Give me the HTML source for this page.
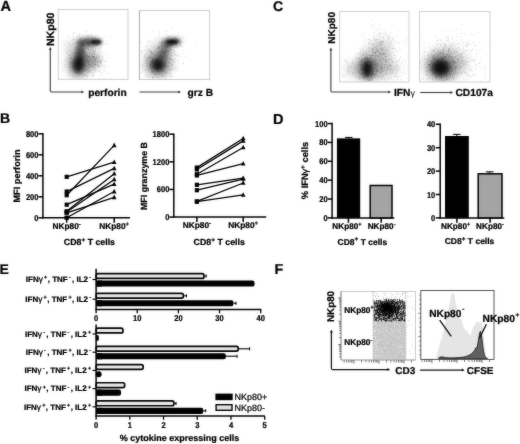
<!DOCTYPE html>
<html><head><meta charset="utf-8"><title>Figure</title>
<style>html,body{margin:0;padding:0;background:#fff;}svg{display:block;}text{font-family:"Liberation Sans", sans-serif;fill:#000;stroke:#000;stroke-width:0.24px;text-rendering:geometricPrecision;}</style></head><body>
<svg width="520" height="444" viewBox="0 0 520 444">
<defs>
<filter id="b0_4" x="-100%" y="-100%" width="300%" height="300%"><feGaussianBlur stdDeviation="0.4"/></filter>
<filter id="b0_6" x="-100%" y="-100%" width="300%" height="300%"><feGaussianBlur stdDeviation="0.6"/></filter>
<filter id="b1_0" x="-100%" y="-100%" width="300%" height="300%"><feGaussianBlur stdDeviation="1.0"/></filter>
<filter id="b1_5" x="-100%" y="-100%" width="300%" height="300%"><feGaussianBlur stdDeviation="1.5"/></filter>
<filter id="b2_0" x="-100%" y="-100%" width="300%" height="300%"><feGaussianBlur stdDeviation="2.0"/></filter>
<filter id="b2_5" x="-100%" y="-100%" width="300%" height="300%"><feGaussianBlur stdDeviation="2.5"/></filter>
<filter id="b3_0" x="-100%" y="-100%" width="300%" height="300%"><feGaussianBlur stdDeviation="3.0"/></filter>
<filter id="b4_0" x="-100%" y="-100%" width="300%" height="300%"><feGaussianBlur stdDeviation="4.0"/></filter>
<filter id="soft" x="0" y="0" width="100%" height="100%" color-interpolation-filters="sRGB"><feGaussianBlur stdDeviation="0.85" result="b"/><feComposite in="SourceGraphic" in2="b" operator="arithmetic" k1="0" k2="0.68" k3="0.32" k4="0"/></filter>
</defs>
<g filter="url(#soft)">
<rect x="-5" y="-5" width="530" height="454" fill="#fff"/>
<text x="0.5" y="11.1" font-size="14.6" font-weight="bold" text-anchor="start" stroke="#000" stroke-width="0.35">A</text>
<text x="-0.1" y="123.3" font-size="14" font-weight="bold" text-anchor="start" stroke="#000" stroke-width="0.35">B</text>
<text x="273.0" y="11.1" font-size="14" font-weight="bold" text-anchor="start" stroke="#000" stroke-width="0.35">C</text>
<text x="273.0" y="123.8" font-size="14.5" font-weight="bold" text-anchor="start" stroke="#000" stroke-width="0.35">D</text>
<text x="-0.5" y="273.6" font-size="14" font-weight="bold" text-anchor="start" stroke="#000" stroke-width="0.35">E</text>
<text x="274.6" y="273.9" font-size="14.3" font-weight="bold" text-anchor="start" stroke="#000" stroke-width="0.35">F</text>
<clipPath id="c58"><rect x="58.2" y="9.5" width="69.8" height="69.8"/></clipPath>
<clipPath id="c139"><rect x="139.4" y="10.4" width="70.29999999999998" height="69.19999999999999"/></clipPath>
<g clip-path="url(#c58)">
<ellipse cx="83" cy="56" rx="14" ry="15" fill="#000" fill-opacity="0.14" transform="rotate(0 83 56)" filter="url(#b4_0)"/>
<ellipse cx="92" cy="61" rx="8.5" ry="8" fill="#000" fill-opacity="0.22" transform="rotate(0 92 61)" filter="url(#b3_0)"/>
<ellipse cx="70" cy="46" rx="5" ry="6" fill="#000" fill-opacity="0.1" transform="rotate(0 70 46)" filter="url(#b3_0)"/>
<ellipse cx="78.3" cy="65" rx="10" ry="12.5" fill="#000" fill-opacity="0.4" transform="rotate(0 78.3 65)" filter="url(#b4_0)"/>
<ellipse cx="80.3" cy="54" rx="4.8" ry="11" fill="#000" fill-opacity="0.6" transform="rotate(3 80.3 54)" filter="url(#b2_0)"/>
<ellipse cx="89" cy="42" rx="13" ry="4.2" fill="#000" fill-opacity="0.62" transform="rotate(0 89 42)" filter="url(#b2_0)"/>
<ellipse cx="78.1" cy="65.2" rx="5.2" ry="7.4" fill="#000" fill-opacity="0.85" transform="rotate(0 78.1 65.2)" filter="url(#b2_5)"/>
<ellipse cx="96" cy="42" rx="5.5" ry="2.6" fill="#000" fill-opacity="0.7" transform="rotate(0 96 42)" filter="url(#b1_0)"/>
<g filter="url(#b0_4)">
<path d="M77.6 68.1h0.7M77.8 61.5h0.7M73.9 62.3h0.7M85.1 67.4h0.7M84.7 66.0h0.7M81.2 65.5h0.7M69.8 70.8h0.7M81.8 68.0h0.7M69.7 50.0h0.7M74.1 60.3h0.7M80.7 63.6h0.7M81.9 58.9h0.7M80.7 67.2h0.7M75.4 77.7h0.7M82.1 73.6h0.7M75.6 58.1h0.7M77.1 63.1h0.7M82.5 66.0h0.7M76.5 56.3h0.7M76.1 73.8h0.7M74.6 66.0h0.7M81.3 52.1h0.7M79.3 74.4h0.7M67.9 61.4h0.7M78.4 57.5h0.7M81.7 63.5h0.7M70.9 70.6h0.7M82.7 71.6h0.7M86.9 66.9h0.7M79.7 53.6h0.7M82.4 59.1h0.7M76.5 53.9h0.7M73.7 59.8h0.7M86.1 47.7h0.7M71.0 65.9h0.7M86.9 68.6h0.7M68.6 43.9h0.7M81.0 58.1h0.7M72.8 71.8h0.7M85.1 65.3h0.7M80.4 67.5h0.7M87.8 69.0h0.7M81.9 68.4h0.7M70.4 74.3h0.7M84.3 68.2h0.7M68.1 58.9h0.7M83.6 49.5h0.7M78.0 72.2h0.7M71.8 76.9h0.7M82.0 62.8h0.7M80.8 69.2h0.7M79.7 73.2h0.7M75.4 60.7h0.7M84.7 64.2h0.7M74.2 71.6h0.7M87.1 60.4h0.7M71.4 62.9h0.7M78.2 61.6h0.7M86.7 55.8h0.7M85.9 53.9h0.7M74.7 69.1h0.7M85.2 70.9h0.7M80.9 65.1h0.7M79.8 68.6h0.7M78.0 66.2h0.7M82.1 64.0h0.7M83.2 68.5h0.7M90.1 66.6h0.7M76.6 61.0h0.7M78.9 71.4h0.7M77.1 67.1h0.7M89.1 43.5h0.7M72.8 66.0h0.7M81.2 65.9h0.7M76.6 69.2h0.7M80.6 59.8h0.7M92.4 66.8h0.7M76.0 63.2h0.7M77.8 63.5h0.7M64.0 60.1h0.7M84.5 54.7h0.7M78.6 71.6h0.7M83.7 75.9h0.7M69.6 61.2h0.7M77.1 69.0h0.7M85.0 42.5h0.7M85.0 52.4h0.7M82.8 52.1h0.7M80.0 73.6h0.7M78.2 65.5h0.7M83.4 65.1h0.7M78.5 76.3h0.7M84.8 61.6h0.7M94.1 54.8h0.7M84.0 61.9h0.7M79.7 69.6h0.7M80.2 69.1h0.7M70.6 51.9h0.7M82.4 56.3h0.7M73.4 52.2h0.7M86.0 70.0h0.7M87.1 56.5h0.7M79.0 54.9h0.7M83.2 76.7h0.7M74.1 76.5h0.7M84.4 62.6h0.7M68.2 75.3h0.7M78.5 59.2h0.7M81.2 67.3h0.7M87.2 55.8h0.7M85.2 75.9h0.7M87.0 62.6h0.7M74.9 72.1h0.7M79.6 65.0h0.7M86.8 61.9h0.7M66.4 60.9h0.7M68.8 70.6h0.7M80.7 59.1h0.7M78.9 70.7h0.7M79.4 74.6h0.7M78.7 72.3h0.7M87.2 76.9h0.7M75.3 71.0h0.7M68.7 55.3h0.7M68.2 72.6h0.7M72.2 63.9h0.7M77.9 63.8h0.7M75.7 65.9h0.7M88.9 64.4h0.7M81.9 72.0h0.7M77.9 53.9h0.7M75.9 72.6h0.7M69.9 59.2h0.7M84.5 70.3h0.7M79.0 70.4h0.7M79.9 54.6h0.7M70.4 58.9h0.7M84.1 59.5h0.7M74.0 57.8h0.7M70.6 63.1h0.7M72.5 66.9h0.7M66.0 66.6h0.7M75.5 48.5h0.7M83.0 61.8h0.7M66.7 57.0h0.7M80.6 60.3h0.7M83.3 70.0h0.7M82.7 66.6h0.7M86.3 69.3h0.7M81.5 47.3h0.7M83.9 74.5h0.7M77.4 60.2h0.7M89.7 49.9h0.7M73.9 69.5h0.7M89.4 63.0h0.7M82.1 71.2h0.7M74.0 63.3h0.7M80.6 70.6h0.7M78.8 62.4h0.7M73.4 61.1h0.7M83.9 64.8h0.7M74.3 57.3h0.7M93.7 73.1h0.7M82.5 43.3h0.7M82.4 67.8h0.7M88.3 67.4h0.7M78.6 68.2h0.7M68.3 72.3h0.7M80.8 58.4h0.7M71.3 58.7h0.7M80.6 65.5h0.7M76.8 56.2h0.7M90.7 72.3h0.7M72.4 53.2h0.7M88.4 71.9h0.7M89.0 70.5h0.7M74.2 66.1h0.7M67.1 58.0h0.7M78.7 68.2h0.7M75.0 63.0h0.7M81.5 67.0h0.7M82.5 65.7h0.7M77.2 70.3h0.7M79.3 57.4h0.7M75.6 64.0h0.7M78.4 65.3h0.7M79.0 65.4h0.7M78.3 53.9h0.7M81.3 72.4h0.7M81.4 62.5h0.7M81.5 56.3h0.7M68.6 64.5h0.7M73.9 69.9h0.7M73.0 43.0h0.7M73.3 76.6h0.7M76.9 53.0h0.7M74.8 68.2h0.7M81.7 65.4h0.7M87.2 69.7h0.7M78.9 68.8h0.7M88.1 71.8h0.7M84.6 55.3h0.7M78.2 69.8h0.7M77.4 72.6h0.7M82.3 71.3h0.7M85.8 62.3h0.7M77.1 71.0h0.7M84.4 64.1h0.7M72.6 65.5h0.7M81.0 73.0h0.7M83.3 64.2h0.7M83.7 68.3h0.7M80.1 64.4h0.7M77.7 69.5h0.7M73.2 59.0h0.7M79.0 52.3h0.7M76.6 47.9h0.7M75.2 68.5h0.7M82.1 63.6h0.7M77.7 52.7h0.7M89.1 68.1h0.7M85.0 56.9h0.7M78.0 49.4h0.7M83.3 71.5h0.7M68.6 63.6h0.7M82.5 49.9h0.7M69.0 55.5h0.7M75.5 52.8h0.7M79.2 66.0h0.7M82.5 69.6h0.7M87.3 73.3h0.7M71.8 60.0h0.7M73.2 55.4h0.7M78.6 64.0h0.7M81.7 51.3h0.7M72.2 63.8h0.7M77.9 61.5h0.7M78.7 57.9h0.7M82.9 66.8h0.7M78.5 58.6h0.7M78.0 42.2h0.7M73.6 64.3h0.7M70.7 65.6h0.7M79.8 53.0h0.7M77.6 61.5h0.7M81.5 68.9h0.7M78.8 57.2h0.7M78.2 63.5h0.7M83.0 66.4h0.7M75.0 53.2h0.7M76.9 58.1h0.7M72.9 63.1h0.7M76.3 64.8h0.7M81.9 60.7h0.7M91.8 61.4h0.7M85.1 65.0h0.7M96.9 34.7h0.7M82.0 43.9h0.7M92.8 51.2h0.7M90.6 47.5h0.7M94.1 46.3h0.7M92.1 42.5h0.7M92.1 39.2h0.7M97.5 39.4h0.7M90.0 50.4h0.7M86.2 43.1h0.7M97.3 43.1h0.7M81.5 43.9h0.7M92.7 45.5h0.7M81.8 49.1h0.7M101.3 43.1h0.7M90.1 41.5h0.7M99.3 40.5h0.7M93.4 41.3h0.7M82.4 45.5h0.7M98.7 43.0h0.7M82.6 45.8h0.7M87.6 44.1h0.7M100.2 47.0h0.7M83.8 51.0h0.7M88.0 45.8h0.7M82.8 42.8h0.7M74.0 49.3h0.7M98.9 38.7h0.7M76.0 37.3h0.7M97.4 41.4h0.7M87.5 41.9h0.7M87.0 39.2h0.7M88.2 38.0h0.7M87.4 44.1h0.7M91.7 42.2h0.7M80.8 43.6h0.7M84.1 48.5h0.7M94.1 42.6h0.7M84.2 40.5h0.7M80.5 41.8h0.7M90.4 44.8h0.7M92.6 50.3h0.7M82.4 43.0h0.7M110.4 36.5h0.7M83.8 43.6h0.7M89.2 44.4h0.7M86.1 44.3h0.7M88.4 45.7h0.7M72.9 39.9h0.7M88.0 39.4h0.7M79.6 45.2h0.7M82.8 45.2h0.7M94.0 44.1h0.7M92.1 42.6h0.7M76.7 42.9h0.7M91.6 41.1h0.7M87.2 45.6h0.7M81.0 45.2h0.7M102.9 41.1h0.7M89.2 42.5h0.7M100.3 44.1h0.7M95.2 40.6h0.7M87.9 43.0h0.7M73.8 48.0h0.7M95.2 36.9h0.7M94.0 42.5h0.7M91.6 44.3h0.7M76.0 42.3h0.7M99.9 41.0h0.7M79.8 38.2h0.7M78.2 44.2h0.7M101.5 44.5h0.7M90.0 50.8h0.7M83.8 40.6h0.7M92.2 44.9h0.7M79.9 38.9h0.7M90.3 43.9h0.7M77.5 42.3h0.7M83.7 44.6h0.7M87.1 42.7h0.7M85.2 46.7h0.7M99.1 41.7h0.7M94.8 40.3h0.7M88.6 45.6h0.7M100.1 41.7h0.7M87.4 43.7h0.7M76.0 43.1h0.7M82.6 44.3h0.7M79.0 36.1h0.7M88.3 43.9h0.7M83.6 46.1h0.7M85.8 40.9h0.7M91.8 37.5h0.7M82.6 42.9h0.7M94.8 42.4h0.7M90.5 40.7h0.7M90.4 48.8h0.7M82.5 51.3h0.7M82.8 43.1h0.7M89.4 46.6h0.7M78.1 35.6h0.7M92.8 45.8h0.7M93.0 52.2h0.7M89.6 43.9h0.7M95.4 44.3h0.7M101.3 38.7h0.7M85.0 30.9h0.7M94.5 41.7h0.7M95.4 50.5h0.7M88.0 42.1h0.7M84.0 40.1h0.7M83.0 45.2h0.7M88.3 43.2h0.7M86.6 46.2h0.7M92.0 42.5h0.7M93.3 42.5h0.7M78.8 48.1h0.7M91.7 39.6h0.7M96.6 44.2h0.7M75.5 48.6h0.7M90.7 46.1h0.7M89.6 42.5h0.7M75.6 46.4h0.7M88.2 42.0h0.7M90.8 43.3h0.7M93.4 41.7h0.7M87.7 35.5h0.7M84.6 45.4h0.7M98.7 41.7h0.7M87.0 48.5h0.7M85.4 45.6h0.7M101.4 43.1h0.7M97.8 40.5h0.7M89.7 42.7h0.7M88.9 47.0h0.7M107.1 40.7h0.7M83.4 44.7h0.7M79.6 44.7h0.7M92.6 42.0h0.7M92.2 37.6h0.7M94.1 37.6h0.7M82.4 41.1h0.7M84.8 46.0h0.7M88.7 41.6h0.7M92.3 48.5h0.7M88.0 44.3h0.7M97.9 43.9h0.7M77.7 51.7h0.7M105.7 36.1h0.7M87.7 44.5h0.7M95.7 45.3h0.7M85.8 39.3h0.7M88.8 46.6h0.7M79.3 39.4h0.7M87.8 36.2h0.7M85.9 41.5h0.7M91.6 40.5h0.7M80.9 41.6h0.7M87.6 40.7h0.7M88.1 45.6h0.7M99.7 72.1h0.7M86.9 58.3h0.7M75.9 73.3h0.7M87.3 60.8h0.7M95.4 52.2h0.7M95.0 60.8h0.7M80.1 62.9h0.7M99.8 48.9h0.7M97.2 62.4h0.7M95.1 63.9h0.7M100.5 59.5h0.7M97.7 58.3h0.7M96.7 55.7h0.7M91.3 72.3h0.7M94.9 60.0h0.7M84.6 55.9h0.7M93.3 67.1h0.7M94.8 64.4h0.7M91.7 69.8h0.7M89.5 57.4h0.7M97.8 61.4h0.7M90.2 57.3h0.7M90.3 65.1h0.7M94.3 53.1h0.7M94.8 62.2h0.7M85.5 66.0h0.7M90.2 58.8h0.7M97.2 69.6h0.7M87.5 63.8h0.7M86.3 76.0h0.7M88.8 68.8h0.7M87.8 66.3h0.7M106.4 44.5h0.7M89.2 64.3h0.7M91.4 56.7h0.7M106.0 61.5h0.7M81.3 66.6h0.7M80.8 68.5h0.7M88.2 61.9h0.7M100.2 61.8h0.7M83.0 50.0h0.7M99.7 65.8h0.7M86.7 66.6h0.7M95.2 65.2h0.7M77.3 59.0h0.7M97.9 65.8h0.7M97.7 45.0h0.7M93.1 64.2h0.7M108.6 54.8h0.7M89.9 61.2h0.7M97.8 58.1h0.7M99.5 55.9h0.7M93.7 57.6h0.7M93.0 56.5h0.7M81.6 68.1h0.7M94.0 57.4h0.7M93.3 67.4h0.7M85.6 60.3h0.7M95.5 64.4h0.7M89.8 47.3h0.7M100.1 63.1h0.7M92.1 59.2h0.7M93.7 58.2h0.7M85.3 56.2h0.7M88.1 57.0h0.7M84.5 65.1h0.7M83.5 65.3h0.7M85.4 63.3h0.7M100.9 62.3h0.7M87.2 61.3h0.7M93.0 49.7h0.7M88.1 62.1h0.7M89.0 61.5h0.7M96.8 66.0h0.7M97.9 64.8h0.7M90.1 60.9h0.7M90.2 59.0h0.7M90.8 49.8h0.7M89.8 60.8h0.7M85.7 60.8h0.7M95.4 59.9h0.7M105.5 44.1h0.7M90.7 49.1h0.7M98.4 78.3h0.7M75.7 61.8h0.7M95.4 59.0h0.7M95.6 46.4h0.7M97.5 63.4h0.7M92.1 57.2h0.7M96.1 57.8h0.7M93.5 57.7h0.7M77.4 60.8h0.7M93.3 65.9h0.7M86.3 60.8h0.7M96.0 61.9h0.7M100.1 73.9h0.7M86.1 48.5h0.7M97.6 70.9h0.7M98.0 66.3h0.7M88.0 56.4h0.7M97.8 55.1h0.7M80.2 54.5h0.7M108.2 73.5h0.7M87.5 56.3h0.7M93.5 56.1h0.7M100.5 60.5h0.7M84.9 69.5h0.7M88.2 62.4h0.7M91.9 59.0h0.7M94.1 56.5h0.7M80.0 46.6h0.7M83.8 56.1h0.7M91.9 61.4h0.7M95.6 61.8h0.7M86.8 56.4h0.7M78.2 59.9h0.7M95.2 64.4h0.7M91.2 59.9h0.7M98.1 61.1h0.7M96.8 64.8h0.7M93.4 69.5h0.7M88.3 58.7h0.7M86.7 55.8h0.7M102.1 72.4h0.7M92.1 64.7h0.7M99.6 66.2h0.7M99.8 52.8h0.7M87.8 63.9h0.7M101.3 61.7h0.7M86.4 58.7h0.7M87.7 55.4h0.7M101.8 56.9h0.7M92.1 75.1h0.7M99.7 63.2h0.7M88.0 63.7h0.7M102.5 65.0h0.7M100.2 61.6h0.7M95.4 59.7h0.7M94.8 69.5h0.7M82.7 60.6h0.7M93.6 57.3h0.7M90.0 66.1h0.7M105.0 65.1h0.7M94.1 50.9h0.7M104.5 61.5h0.7M91.8 53.7h0.7M91.6 53.9h0.7M92.5 64.0h0.7M92.2 62.8h0.7M86.5 70.3h0.7M87.8 49.2h0.7M90.8 56.0h0.7M85.4 58.7h0.7M93.9 53.3h0.7M91.1 70.3h0.7M96.4 60.0h0.7M92.8 60.2h0.7M91.7 65.8h0.7M91.4 45.4h0.7M91.9 55.2h0.7M96.2 57.0h0.7M93.0 75.2h0.7M85.2 53.7h0.7M82.8 45.4h0.7M79.8 63.4h0.7M87.9 48.9h0.7M82.4 65.0h0.7M87.0 58.6h0.7M94.1 69.8h0.7M104.6 67.7h0.7M92.9 62.2h0.7M103.7 70.3h0.7M90.0 64.0h0.7M93.9 61.3h0.7M88.7 52.4h0.7M88.5 51.0h0.7M100.0 64.5h0.7M84.2 70.1h0.7M97.8 48.6h0.7M104.0 66.3h0.7M105.4 53.0h0.7M95.4 63.8h0.7M93.3 62.1h0.7M98.8 51.3h0.7M83.9 51.9h0.7M88.4 57.1h0.7M94.4 62.7h0.7M92.2 56.6h0.7M89.1 67.2h0.7M97.0 61.7h0.7M89.9 71.1h0.7M88.1 65.2h0.7M99.5 59.3h0.7M97.4 53.7h0.7M98.6 62.3h0.7M81.7 65.4h0.7M86.2 69.3h0.7M87.6 59.9h0.7M93.8 58.8h0.7M93.7 57.4h0.7M96.4 61.0h0.7M93.4 43.1h0.7M99.5 61.2h0.7M80.4 61.6h0.7M95.0 68.0h0.7M85.0 71.1h0.7M91.0 76.6h0.7M91.0 65.4h0.7M89.6 53.7h0.7M99.1 66.9h0.7M102.0 66.6h0.7M88.3 50.2h0.7M87.8 56.6h0.7M86.7 64.8h0.7M94.1 59.2h0.7M93.1 60.1h0.7M93.4 65.9h0.7M98.2 56.5h0.7M82.2 70.3h0.7M92.7 68.2h0.7M81.3 58.9h0.7M92.2 51.6h0.7M88.6 65.7h0.7M99.0 71.4h0.7M86.4 51.9h0.7M95.4 67.1h0.7M93.3 52.5h0.7M97.1 66.2h0.7M95.6 57.8h0.7M94.0 66.1h0.7M88.4 49.0h0.7M94.1 64.1h0.7M92.1 66.8h0.7M88.2 60.5h0.7M90.0 64.7h0.7M102.4 59.4h0.7M105.4 70.9h0.7M97.1 64.8h0.7M103.5 59.8h0.7M91.3 54.1h0.7M87.7 70.8h0.7M88.3 60.7h0.7M81.0 57.9h0.7M68.7 67.5h0.7M78.9 43.8h0.7M75.5 46.9h0.7M91.6 67.6h0.7M69.4 66.2h0.7M91.9 49.6h0.7M68.1 47.8h0.7M76.7 59.8h0.7M79.4 33.7h0.7M85.3 39.1h0.7M92.1 42.7h0.7M76.1 46.6h0.7M77.6 70.3h0.7M91.5 62.6h0.7M86.2 39.0h0.7M77.8 49.9h0.7M73.2 61.6h0.7M75.6 48.2h0.7M72.6 33.4h0.7M89.0 70.6h0.7M84.7 45.3h0.7M95.2 59.3h0.7M92.3 72.3h0.7M94.3 51.1h0.7M93.5 64.5h0.7M67.6 51.5h0.7M68.8 54.8h0.7M88.8 44.3h0.7M62.4 70.3h0.7M86.8 72.2h0.7M69.8 67.7h0.7M103.7 78.1h0.7M80.9 59.0h0.7M81.5 67.0h0.7M93.4 57.0h0.7M69.4 64.2h0.7M78.3 62.9h0.7M85.6 73.9h0.7M94.4 51.0h0.7M86.5 75.4h0.7M77.6 60.8h0.7M94.9 69.8h0.7M88.2 41.5h0.7M70.4 58.7h0.7M74.4 68.5h0.7M90.7 37.6h0.7M74.8 57.8h0.7M78.1 54.3h0.7M87.7 47.1h0.7M87.7 49.0h0.7M77.6 61.9h0.7M77.3 59.2h0.7M99.0 56.3h0.7M81.5 64.1h0.7M79.3 67.9h0.7M70.2 62.8h0.7M77.9 47.2h0.7M100.7 46.6h0.7M100.6 63.2h0.7M97.5 45.3h0.7M95.0 72.0h0.7M81.8 54.6h0.7M107.6 58.0h0.7M78.8 49.1h0.7M87.5 59.6h0.7M84.8 74.9h0.7M79.7 61.2h0.7M97.6 45.0h0.7M93.4 76.2h0.7M69.5 43.9h0.7M72.6 35.7h0.7M87.5 35.6h0.7M88.0 72.0h0.7M66.8 52.5h0.7M63.8 64.6h0.7M75.6 53.1h0.7M83.5 62.0h0.7M79.5 56.2h0.7M77.5 57.3h0.7M71.3 56.7h0.7M63.7 50.6h0.7M102.2 56.9h0.7M70.4 58.8h0.7M73.3 37.8h0.7M75.6 64.1h0.7M86.8 54.9h0.7M73.7 44.1h0.7M96.5 58.7h0.7M73.5 32.8h0.7M71.5 55.2h0.7M85.1 54.3h0.7M80.2 40.9h0.7M72.5 74.6h0.7M75.4 65.3h0.7M66.1 53.0h0.7M85.6 67.4h0.7M71.8 62.5h0.7M86.9 47.9h0.7M87.8 46.1h0.7M75.0 55.8h0.7M73.0 39.9h0.7M78.7 64.4h0.7M79.0 69.9h0.7M71.4 41.6h0.7M98.5 60.4h0.7M92.5 46.9h0.7M91.0 58.9h0.7M89.5 56.3h0.7M95.1 48.9h0.7M73.4 39.7h0.7M94.6 47.9h0.7M72.6 45.7h0.7M78.5 42.0h0.7M80.1 49.1h0.7M77.5 45.4h0.7M83.4 50.9h0.7M84.1 58.7h0.7M86.4 31.9h0.7M77.6 47.2h0.7M90.7 38.6h0.7M75.9 52.8h0.7M79.6 66.9h0.7M78.6 66.6h0.7M68.3 36.1h0.7M95.2 60.8h0.7M87.9 57.4h0.7M87.8 42.6h0.7M92.5 50.1h0.7M92.9 57.0h0.7M63.3 41.8h0.7M94.3 54.5h0.7M79.0 58.7h0.7M78.7 50.0h0.7M84.0 57.6h0.7M98.2 56.5h0.7M101.8 75.8h0.7M100.2 67.7h0.7M84.3 57.5h0.7M81.6 48.0h0.7M82.3 49.0h0.7M99.4 61.9h0.7M78.5 34.9h0.7M82.5 51.4h0.7M72.1 43.5h0.7M60.5 62.3h0.7M82.7 54.4h0.7M97.4 57.5h0.7M84.7 51.9h0.7M76.9 72.5h0.7M93.0 74.9h0.7M79.5 56.3h0.7M74.2 66.6h0.7M69.1 62.2h0.7M94.0 71.5h0.7M73.6 68.0h0.7M75.9 47.7h0.7M69.8 68.7h0.7M99.5 49.5h0.7M75.4 52.3h0.7M108.1 67.0h0.7M77.6 36.3h0.7M76.3 69.1h0.7M101.7 53.1h0.7M76.1 50.4h0.7M64.1 66.0h0.7M72.1 67.7h0.7M65.9 42.0h0.7M85.9 47.6h0.7M90.8 56.1h0.7M71.3 62.8h0.7M91.4 35.0h0.7M101.3 61.5h0.7M90.6 35.5h0.7M75.8 52.2h0.7M93.8 39.9h0.7M74.2 33.7h0.7M80.6 59.8h0.7M66.1 49.5h0.7M88.1 73.4h0.7M89.6 52.7h0.7M71.2 45.7h0.7M76.4 57.6h0.7M82.5 74.3h0.7M85.9 44.2h0.7M98.4 66.4h0.7M84.0 48.1h0.7M64.3 44.8h0.7M92.1 47.2h0.7M69.8 58.2h0.7M85.4 62.7h0.7M89.6 71.5h0.7M74.6 66.8h0.7" stroke="#000" stroke-width="0.7" stroke-opacity="0.28" fill="none"/>
</g>
</g>
<rect x="58.20" y="9.50" width="69.80" height="69.80" fill="none" stroke="#c4c4c4" stroke-width="0.8" />
<g clip-path="url(#c139)">
<ellipse cx="160" cy="57" rx="13" ry="14" fill="#000" fill-opacity="0.15" transform="rotate(0 160 57)" filter="url(#b4_0)"/>
<ellipse cx="158" cy="65" rx="12" ry="11.5" fill="#000" fill-opacity="0.4" transform="rotate(0 158 65)" filter="url(#b4_0)"/>
<ellipse cx="164.5" cy="51" rx="5.5" ry="9.5" fill="#000" fill-opacity="0.42" transform="rotate(28 164.5 51)" filter="url(#b2_5)"/>
<ellipse cx="171" cy="42" rx="10.5" ry="4.6" fill="#000" fill-opacity="0.4" transform="rotate(-4 171 42)" filter="url(#b2_0)"/>
<ellipse cx="157.9" cy="65" rx="6.2" ry="6.2" fill="#000" fill-opacity="0.82" transform="rotate(0 157.9 65)" filter="url(#b2_5)"/>
<ellipse cx="172.3" cy="41.8" rx="6.6" ry="2.6" fill="#000" fill-opacity="0.95" transform="rotate(-3 172.3 41.8)" filter="url(#b1_5)"/>
<g filter="url(#b0_4)">
<path d="M151.6 69.5h0.7M159.2 66.6h0.7M164.3 64.9h0.7M165.2 70.7h0.7M158.9 61.3h0.7M153.1 61.6h0.7M156.7 64.8h0.7M177.4 69.1h0.7M163.0 59.4h0.7M153.4 62.9h0.7M159.2 58.3h0.7M168.5 61.3h0.7M165.0 49.8h0.7M158.0 66.8h0.7M159.2 68.9h0.7M159.8 66.1h0.7M145.7 60.4h0.7M142.8 69.1h0.7M160.0 63.7h0.7M152.7 61.2h0.7M170.0 76.3h0.7M157.6 73.4h0.7M147.7 52.4h0.7M154.9 59.3h0.7M154.4 66.2h0.7M177.7 60.7h0.7M158.3 66.8h0.7M157.8 71.1h0.7M169.5 56.9h0.7M159.1 63.3h0.7M160.3 55.0h0.7M146.6 49.9h0.7M161.4 66.2h0.7M158.5 49.6h0.7M155.6 60.1h0.7M148.8 59.0h0.7M162.5 68.5h0.7M157.9 68.3h0.7M154.1 65.5h0.7M158.3 68.6h0.7M157.5 64.1h0.7M157.1 60.8h0.7M172.5 68.3h0.7M167.1 54.9h0.7M162.5 70.4h0.7M170.3 73.6h0.7M163.0 57.3h0.7M152.3 66.7h0.7M161.3 58.4h0.7M155.5 62.4h0.7M158.4 67.2h0.7M156.1 57.0h0.7M166.1 75.4h0.7M157.3 71.7h0.7M160.9 69.3h0.7M161.1 60.0h0.7M161.7 71.6h0.7M152.2 77.8h0.7M171.6 76.8h0.7M170.9 69.8h0.7M155.8 61.1h0.7M152.7 65.8h0.7M157.8 69.4h0.7M172.8 64.8h0.7M162.4 68.1h0.7M159.8 63.6h0.7M157.2 59.6h0.7M159.2 64.8h0.7M160.1 59.4h0.7M158.3 65.3h0.7M161.9 58.1h0.7M160.7 71.4h0.7M161.9 62.6h0.7M154.8 63.5h0.7M162.7 75.1h0.7M157.0 60.8h0.7M160.4 66.3h0.7M152.1 60.2h0.7M157.3 69.4h0.7M150.2 58.4h0.7M161.2 57.0h0.7M158.7 67.3h0.7M157.3 58.4h0.7M157.6 62.8h0.7M160.2 59.5h0.7M165.1 54.1h0.7M156.9 65.1h0.7M164.3 61.0h0.7M161.5 61.3h0.7M162.8 76.3h0.7M155.4 67.9h0.7M152.0 71.3h0.7M165.9 65.2h0.7M150.6 67.6h0.7M165.5 72.1h0.7M163.3 53.1h0.7M153.6 74.2h0.7M150.0 72.4h0.7M170.2 70.0h0.7M165.3 62.8h0.7M150.0 64.3h0.7M156.7 64.7h0.7M162.5 64.1h0.7M159.2 67.8h0.7M158.0 77.0h0.7M160.9 65.5h0.7M156.7 60.9h0.7M166.7 66.0h0.7M151.0 61.3h0.7M157.1 62.1h0.7M165.0 57.4h0.7M161.2 65.9h0.7M150.3 65.3h0.7M157.4 68.3h0.7M155.1 67.0h0.7M147.2 58.0h0.7M163.1 71.8h0.7M157.9 61.1h0.7M165.0 51.4h0.7M152.8 69.4h0.7M162.2 58.3h0.7M145.7 74.4h0.7M159.0 59.2h0.7M158.4 70.9h0.7M141.2 72.2h0.7M162.8 51.5h0.7M163.0 53.4h0.7M165.4 67.6h0.7M172.6 61.0h0.7M158.0 71.8h0.7M153.8 60.4h0.7M155.6 64.5h0.7M151.0 68.1h0.7M161.5 65.5h0.7M169.1 62.9h0.7M166.5 61.4h0.7M162.9 52.4h0.7M159.3 63.9h0.7M154.8 61.0h0.7M155.7 60.3h0.7M143.7 61.1h0.7M154.4 61.6h0.7M151.1 64.1h0.7M163.1 63.4h0.7M154.8 73.8h0.7M164.4 71.0h0.7M165.5 62.9h0.7M157.2 72.2h0.7M154.4 64.2h0.7M160.5 67.4h0.7M156.2 71.4h0.7M156.8 69.7h0.7M165.0 69.3h0.7M162.8 57.5h0.7M149.5 61.0h0.7M161.1 74.8h0.7M150.1 67.0h0.7M152.4 60.2h0.7M156.2 69.5h0.7M159.4 72.7h0.7M151.6 70.8h0.7M164.0 65.5h0.7M161.1 61.3h0.7M150.9 62.4h0.7M154.8 75.7h0.7M159.3 67.0h0.7M162.8 59.9h0.7M164.0 67.4h0.7M148.1 68.9h0.7M161.6 67.9h0.7M168.3 62.3h0.7M161.3 69.9h0.7M152.1 72.8h0.7M148.6 56.5h0.7M161.4 57.9h0.7M157.2 54.3h0.7M158.4 57.6h0.7M160.2 55.0h0.7M160.9 63.3h0.7M158.4 64.6h0.7M158.8 56.4h0.7M141.3 65.2h0.7M151.9 62.0h0.7M160.8 52.1h0.7M153.0 61.0h0.7M151.1 67.1h0.7M157.1 59.7h0.7M151.6 70.2h0.7M153.7 68.8h0.7M160.9 52.7h0.7M151.0 65.0h0.7M160.2 70.1h0.7M163.2 71.7h0.7M155.6 63.6h0.7M163.0 62.2h0.7M164.9 54.7h0.7M162.2 63.9h0.7M145.2 71.4h0.7M160.0 65.1h0.7M151.0 62.0h0.7M167.8 59.6h0.7M150.2 64.1h0.7M155.4 59.1h0.7M152.5 71.8h0.7M148.6 77.7h0.7M154.5 57.9h0.7M163.1 68.7h0.7M151.2 69.9h0.7M146.0 59.0h0.7M165.3 63.3h0.7M149.5 68.3h0.7M164.0 64.9h0.7M146.3 62.7h0.7M160.7 70.0h0.7M170.0 63.4h0.7M154.9 64.8h0.7M165.8 58.9h0.7M166.5 47.1h0.7M163.2 60.6h0.7M161.0 69.5h0.7M150.3 64.4h0.7M159.6 68.8h0.7M152.0 58.6h0.7M156.7 63.6h0.7M148.3 71.0h0.7M154.5 74.3h0.7M163.5 65.1h0.7M162.7 57.8h0.7M155.9 61.3h0.7M149.7 65.1h0.7M157.1 74.3h0.7M152.0 62.0h0.7M160.7 67.6h0.7M158.2 61.9h0.7M161.2 67.3h0.7M146.0 63.3h0.7M149.1 57.3h0.7M159.0 65.4h0.7M158.7 59.3h0.7M156.7 59.1h0.7M160.5 69.5h0.7M169.4 73.2h0.7M152.8 62.0h0.7M151.9 67.0h0.7M170.9 69.6h0.7M143.7 56.8h0.7M149.6 68.3h0.7M158.0 66.9h0.7M169.6 59.6h0.7M152.5 77.8h0.7M160.2 59.9h0.7M144.8 55.1h0.7M142.1 65.4h0.7M158.3 71.5h0.7M157.1 60.5h0.7M153.2 77.4h0.7M146.5 66.1h0.7M158.2 69.0h0.7M155.4 68.2h0.7M163.3 64.0h0.7M155.0 63.8h0.7M151.7 63.6h0.7M156.0 66.4h0.7M166.7 73.5h0.7M155.1 68.9h0.7M159.9 70.0h0.7M158.1 66.7h0.7M155.0 59.9h0.7M163.7 73.4h0.7M162.3 67.8h0.7M159.7 62.1h0.7M146.4 69.3h0.7M159.3 61.4h0.7M151.7 73.3h0.7M146.3 76.5h0.7M153.3 64.9h0.7M154.7 66.0h0.7M156.6 60.1h0.7M165.0 59.9h0.7M154.7 68.6h0.7M154.5 62.2h0.7M160.3 62.6h0.7M149.9 64.3h0.7M156.6 76.1h0.7M150.9 71.3h0.7M152.9 62.7h0.7M155.9 66.8h0.7M163.6 76.4h0.7M153.9 73.6h0.7M164.5 70.3h0.7M153.1 70.9h0.7M157.3 67.3h0.7M156.3 69.3h0.7M178.1 46.3h0.7M168.9 46.6h0.7M179.8 38.9h0.7M179.9 37.4h0.7M174.0 44.7h0.7M180.4 43.1h0.7M166.4 40.5h0.7M161.5 46.4h0.7M168.1 40.6h0.7M173.5 40.0h0.7M166.8 41.7h0.7M182.0 47.1h0.7M168.4 37.6h0.7M172.0 43.1h0.7M172.6 44.8h0.7M168.0 46.4h0.7M175.9 43.2h0.7M167.0 41.6h0.7M174.5 38.7h0.7M168.7 40.5h0.7M160.5 46.0h0.7M169.8 43.1h0.7M175.6 37.3h0.7M169.6 44.0h0.7M175.5 38.7h0.7M175.1 43.3h0.7M179.8 46.1h0.7M174.5 50.2h0.7M169.9 41.5h0.7M167.3 39.9h0.7M169.2 36.5h0.7M169.5 44.5h0.7M176.8 41.2h0.7M179.5 39.9h0.7M168.5 36.5h0.7M164.5 40.7h0.7M180.3 43.9h0.7M162.6 45.5h0.7M173.2 41.9h0.7M170.1 41.9h0.7M165.8 37.3h0.7M169.8 47.4h0.7M179.7 41.2h0.7M164.9 42.7h0.7M176.2 43.7h0.7M166.1 44.6h0.7M168.8 44.9h0.7M166.8 38.2h0.7M170.6 45.6h0.7M162.4 43.3h0.7M175.9 41.2h0.7M166.2 50.3h0.7M175.9 46.0h0.7M164.1 49.1h0.7M158.6 42.2h0.7M175.4 47.1h0.7M163.5 41.3h0.7M170.8 36.3h0.7M174.5 44.5h0.7M167.1 45.1h0.7M175.4 43.6h0.7M174.0 47.8h0.7M166.8 43.8h0.7M166.8 46.8h0.7M167.4 44.8h0.7M170.9 43.1h0.7M181.6 41.7h0.7M179.8 45.0h0.7M178.9 41.7h0.7M176.5 45.0h0.7M165.9 44.3h0.7M169.1 43.0h0.7M178.6 39.8h0.7M158.2 38.1h0.7M166.8 41.1h0.7M170.3 44.9h0.7M181.9 43.0h0.7M172.9 40.3h0.7M174.3 47.2h0.7M178.4 35.6h0.7M176.5 47.8h0.7M175.1 37.5h0.7M168.1 45.2h0.7M172.6 40.0h0.7M164.3 46.8h0.7M161.5 48.6h0.7M170.2 44.0h0.7M160.9 41.8h0.7M174.2 37.7h0.7M183.5 37.1h0.7M161.8 43.9h0.7M173.4 45.2h0.7M167.4 42.5h0.7M168.2 41.2h0.7M153.0 47.7h0.7M171.7 43.4h0.7M165.9 44.2h0.7M169.9 42.8h0.7M176.9 36.6h0.7M171.4 39.3h0.7M168.3 48.2h0.7M162.7 43.3h0.7M166.3 46.5h0.7M162.9 37.9h0.7M173.3 41.5h0.7M168.2 46.8h0.7M163.9 42.3h0.7M171.1 44.3h0.7M166.8 46.8h0.7M184.9 40.3h0.7M181.9 34.8h0.7M179.3 41.0h0.7M170.8 41.8h0.7M165.4 39.1h0.7M167.7 47.6h0.7M177.5 41.2h0.7M166.3 41.0h0.7M162.5 49.7h0.7M174.5 43.0h0.7M166.4 39.9h0.7M179.0 44.8h0.7M163.9 46.9h0.7M162.8 45.8h0.7M163.4 42.2h0.7M173.4 44.2h0.7M176.5 39.6h0.7M181.0 46.6h0.7M170.1 44.6h0.7M164.7 42.9h0.7M161.2 44.1h0.7M171.7 47.4h0.7M176.6 45.2h0.7M167.5 42.5h0.7M167.8 43.9h0.7M157.3 46.7h0.7M159.4 42.2h0.7M170.0 41.3h0.7M181.1 41.7h0.7M180.9 46.0h0.7M166.8 44.6h0.7M178.6 41.1h0.7M170.4 41.1h0.7M170.3 41.8h0.7M170.8 46.3h0.7M179.4 42.6h0.7M171.6 45.7h0.7M167.7 39.6h0.7M177.2 39.2h0.7M175.9 39.2h0.7M181.9 38.4h0.7M167.5 68.0h0.7M153.6 67.8h0.7M154.7 39.8h0.7M166.5 61.1h0.7M159.4 33.2h0.7M160.6 52.4h0.7M158.1 52.5h0.7M147.3 50.1h0.7M174.8 68.4h0.7M158.2 48.8h0.7M164.0 64.2h0.7M166.6 44.9h0.7M162.2 56.2h0.7M172.0 65.3h0.7M165.0 65.5h0.7M158.0 68.3h0.7M157.7 58.4h0.7M168.1 47.1h0.7M155.6 39.8h0.7M162.3 54.5h0.7M158.5 59.3h0.7M144.7 54.8h0.7M161.7 52.7h0.7M167.1 70.1h0.7M157.6 46.9h0.7M156.4 55.8h0.7M165.5 47.6h0.7M168.7 46.1h0.7M167.4 58.7h0.7M164.6 73.6h0.7M159.0 53.6h0.7M164.7 62.5h0.7M150.7 57.4h0.7M155.3 60.4h0.7M171.5 55.4h0.7M160.2 56.6h0.7M165.3 56.4h0.7M158.0 48.7h0.7M159.6 65.5h0.7M160.2 66.6h0.7M141.2 51.0h0.7M163.1 54.9h0.7M148.3 49.3h0.7M170.6 43.8h0.7M153.4 45.5h0.7M156.8 60.6h0.7M165.6 37.5h0.7M172.2 49.9h0.7M156.5 69.4h0.7M160.4 44.3h0.7M156.1 48.7h0.7M153.2 52.1h0.7M167.7 58.0h0.7M153.4 56.0h0.7M161.2 61.6h0.7M158.5 58.9h0.7M177.2 55.8h0.7M152.7 57.8h0.7M154.8 51.8h0.7M162.4 57.9h0.7M158.8 62.3h0.7M159.5 43.7h0.7M167.7 51.9h0.7M170.3 49.3h0.7M165.4 57.7h0.7M140.3 42.1h0.7M152.4 67.2h0.7M146.5 62.9h0.7M169.4 59.3h0.7M166.2 50.7h0.7M160.9 56.9h0.7M164.2 61.1h0.7M159.4 48.9h0.7M156.7 58.6h0.7M148.2 44.2h0.7M157.8 50.2h0.7M158.9 32.0h0.7M158.4 52.8h0.7M167.0 37.9h0.7M158.6 59.1h0.7M164.8 65.3h0.7M169.1 45.9h0.7M165.9 52.1h0.7M154.8 68.3h0.7M156.2 47.6h0.7M157.9 47.6h0.7M168.7 58.3h0.7M171.8 58.6h0.7M156.3 64.1h0.7M156.0 51.0h0.7M159.7 55.3h0.7M170.2 49.8h0.7M163.7 54.8h0.7M151.3 45.5h0.7M159.3 58.5h0.7M163.5 59.2h0.7M161.4 51.1h0.7M164.3 46.3h0.7M150.7 52.1h0.7M150.0 50.5h0.7M155.2 50.2h0.7M160.7 48.1h0.7M157.7 40.2h0.7M162.1 47.4h0.7M164.1 30.5h0.7M154.8 57.1h0.7M142.2 51.9h0.7M161.7 55.9h0.7M149.5 57.0h0.7M162.1 46.6h0.7M166.7 54.6h0.7M161.1 51.1h0.7M165.2 55.8h0.7M169.8 58.9h0.7M156.2 53.1h0.7M168.1 51.8h0.7M164.0 59.5h0.7M159.6 34.8h0.7M162.0 56.9h0.7M162.0 48.4h0.7M170.3 53.8h0.7M156.2 48.8h0.7M163.8 45.5h0.7M153.3 72.4h0.7M171.1 64.2h0.7M171.6 60.2h0.7M148.0 65.4h0.7M170.6 59.3h0.7M145.9 65.8h0.7M171.6 50.7h0.7M162.0 61.8h0.7M160.3 64.6h0.7M161.6 61.0h0.7M161.7 42.1h0.7M163.2 66.4h0.7M169.8 70.0h0.7M165.3 49.8h0.7M161.1 38.3h0.7M159.5 62.9h0.7M144.2 56.7h0.7M167.4 66.6h0.7M153.8 49.3h0.7M146.4 46.1h0.7M165.1 73.1h0.7M152.1 67.0h0.7M164.3 50.7h0.7M178.0 33.0h0.7M160.5 56.9h0.7M177.5 70.7h0.7M178.6 56.2h0.7M168.6 66.9h0.7M165.0 58.1h0.7M159.6 51.4h0.7M151.4 72.0h0.7M157.5 36.8h0.7M163.1 54.7h0.7M162.4 70.9h0.7M160.2 52.7h0.7M155.2 54.8h0.7M157.6 56.8h0.7M185.3 58.4h0.7M154.3 71.9h0.7M167.7 62.1h0.7M166.6 62.2h0.7M166.3 67.3h0.7M168.8 66.8h0.7M157.1 55.0h0.7M155.3 63.4h0.7M167.5 50.9h0.7M165.6 78.0h0.7M170.6 45.2h0.7M160.3 60.6h0.7M160.7 58.4h0.7M170.2 57.9h0.7M152.5 61.3h0.7M160.2 56.0h0.7M156.6 42.9h0.7M151.3 51.9h0.7M152.7 31.2h0.7M169.9 44.8h0.7M155.4 59.7h0.7M142.2 66.8h0.7M155.0 60.8h0.7M157.2 57.7h0.7M161.8 55.0h0.7M146.8 42.1h0.7M160.7 67.4h0.7M156.7 59.7h0.7M162.3 59.2h0.7M168.7 41.9h0.7M163.1 53.4h0.7M158.6 47.5h0.7M154.9 46.0h0.7M152.4 77.0h0.7M174.2 55.1h0.7M166.8 46.4h0.7M162.1 67.6h0.7M160.7 46.2h0.7M159.1 46.3h0.7M150.1 53.0h0.7M157.9 47.9h0.7M154.1 46.8h0.7M162.8 67.2h0.7M159.4 74.6h0.7M148.4 57.4h0.7M152.0 53.6h0.7M161.8 59.9h0.7M169.8 50.1h0.7M151.3 53.3h0.7M163.3 48.9h0.7M168.0 69.8h0.7M149.9 58.2h0.7M168.9 38.1h0.7M162.6 53.0h0.7M149.9 66.5h0.7M162.7 50.8h0.7M164.5 60.6h0.7M167.0 60.1h0.7M164.2 44.7h0.7M157.7 56.1h0.7M158.0 45.7h0.7M146.8 57.2h0.7M161.3 49.9h0.7M157.8 47.2h0.7M155.2 54.1h0.7M156.0 61.0h0.7M159.9 56.2h0.7M164.2 66.1h0.7M165.7 57.0h0.7M159.7 47.9h0.7M158.3 61.0h0.7M162.8 51.6h0.7M150.6 41.6h0.7M163.5 64.0h0.7M163.9 43.0h0.7M159.3 56.9h0.7M153.8 58.0h0.7M159.4 47.7h0.7M151.3 62.1h0.7M163.8 47.2h0.7M153.1 62.8h0.7M165.6 52.3h0.7M173.4 52.5h0.7M152.8 64.6h0.7M159.5 58.0h0.7M161.3 46.2h0.7M151.7 53.3h0.7M172.0 46.2h0.7M171.6 56.9h0.7M152.3 57.3h0.7M165.4 47.1h0.7M144.4 58.1h0.7M152.4 58.9h0.7M146.1 53.8h0.7M154.7 42.0h0.7M159.1 56.5h0.7M156.7 44.7h0.7M162.7 39.7h0.7M165.2 59.3h0.7M174.1 62.7h0.7M163.8 57.3h0.7M161.2 43.4h0.7M172.4 59.6h0.7M158.8 45.0h0.7M172.5 59.7h0.7M151.8 60.9h0.7M175.7 54.8h0.7M164.1 51.4h0.7M156.1 64.4h0.7M184.9 56.0h0.7M160.0 61.9h0.7M158.6 61.4h0.7M167.4 46.1h0.7M152.7 54.4h0.7M167.5 57.4h0.7M175.5 43.3h0.7M166.7 51.4h0.7M162.2 61.4h0.7M149.7 55.6h0.7M147.4 60.8h0.7M151.1 52.7h0.7M163.5 51.0h0.7M174.4 51.2h0.7M170.9 61.0h0.7M149.0 55.7h0.7M151.3 54.1h0.7M157.8 77.4h0.7M156.1 74.7h0.7M166.2 44.1h0.7M173.0 62.2h0.7M158.6 55.3h0.7M164.0 54.8h0.7M154.8 54.1h0.7M174.6 51.4h0.7M165.4 45.7h0.7M152.7 43.4h0.7M158.7 65.3h0.7M164.5 52.8h0.7M168.1 54.3h0.7M165.3 60.9h0.7M167.3 31.6h0.7M145.9 66.2h0.7M158.3 52.1h0.7M178.3 63.9h0.7M183.0 63.4h0.7M158.6 65.7h0.7M151.9 53.2h0.7M154.6 55.6h0.7M170.0 52.9h0.7M164.7 52.7h0.7M171.3 28.7h0.7M158.6 59.8h0.7M148.5 68.8h0.7M163.5 71.6h0.7M172.2 64.8h0.7M159.3 46.4h0.7M158.4 53.1h0.7M163.9 53.1h0.7M196.4 41.0h0.7M174.6 53.0h0.7M158.2 67.8h0.7M161.0 45.1h0.7M165.8 55.9h0.7M148.8 50.1h0.7M166.6 61.2h0.7M165.9 51.5h0.7M163.7 56.7h0.7M158.9 55.1h0.7M154.5 68.4h0.7M161.3 76.1h0.7M170.1 75.5h0.7M159.6 62.0h0.7M156.0 56.2h0.7M141.0 51.8h0.7M150.0 51.1h0.7M175.1 60.8h0.7M175.2 67.1h0.7M171.6 68.7h0.7M154.0 66.5h0.7M157.3 52.4h0.7M149.7 76.4h0.7M170.6 49.0h0.7M164.2 61.9h0.7M165.3 54.2h0.7M146.1 58.3h0.7M171.0 66.3h0.7M168.6 69.7h0.7M149.5 57.6h0.7M164.9 68.6h0.7M162.8 63.5h0.7M189.6 60.5h0.7M144.4 50.8h0.7M163.6 76.2h0.7M166.3 65.1h0.7M172.8 60.1h0.7M151.1 57.0h0.7M164.9 55.1h0.7M153.3 54.2h0.7M143.6 47.1h0.7M160.0 54.2h0.7M161.4 72.9h0.7M164.5 57.7h0.7M147.4 46.6h0.7M165.3 48.8h0.7M166.0 46.6h0.7M162.6 57.2h0.7M172.5 53.8h0.7M156.7 60.6h0.7M161.6 75.9h0.7M158.0 52.3h0.7M157.3 63.0h0.7M163.7 65.3h0.7M182.2 57.7h0.7M147.0 59.6h0.7M165.8 34.4h0.7M161.2 42.4h0.7M166.3 72.6h0.7M172.9 42.1h0.7M177.0 67.6h0.7M156.8 63.3h0.7M178.5 54.5h0.7M160.8 52.1h0.7M174.4 35.2h0.7M177.4 47.8h0.7M171.7 40.8h0.7M150.2 51.7h0.7M170.6 40.8h0.7M168.0 51.3h0.7M175.3 54.7h0.7M166.6 56.2h0.7M181.7 54.2h0.7M161.9 65.3h0.7M152.5 60.1h0.7M153.5 42.1h0.7M144.6 70.1h0.7M165.9 42.0h0.7M181.9 50.6h0.7M156.7 60.6h0.7M147.9 40.9h0.7M152.4 70.5h0.7M172.0 41.3h0.7M174.9 58.4h0.7M166.8 58.5h0.7M165.8 47.4h0.7M150.5 50.6h0.7M156.7 64.6h0.7M147.0 74.9h0.7M153.7 51.8h0.7M169.1 62.6h0.7M157.1 46.7h0.7M149.5 41.1h0.7M174.2 69.5h0.7M182.6 63.3h0.7M164.8 66.0h0.7M172.0 55.3h0.7M141.4 43.1h0.7M149.9 66.0h0.7M174.7 54.4h0.7M168.8 57.5h0.7M164.5 52.3h0.7" stroke="#000" stroke-width="0.7" stroke-opacity="0.28" fill="none"/>
</g>
</g>
<rect x="139.40" y="10.40" width="70.30" height="69.20" fill="none" stroke="#c0c0c0" stroke-width="0.8" />
<line x1="139.4" y1="10.4" x2="139.4" y2="79.6" stroke="#aaa" stroke-width="0.8" />
<text x="54.2" y="46.0" font-size="10.55" font-weight="bold" text-anchor="start" transform="rotate(-90 54.2 46.0)" >NKp80</text>
<path d="M50.3 48.4 L50.3 90.8 Q50.3 92 51.5 92 L82.7 92" fill="none" stroke="#3a3a3a" stroke-width="1.1"/>
<path d="M50.3 46.9 L48.8 49.699999999999996 L51.8 49.699999999999996Z" fill="#3a3a3a"/>
<path d="M84.2 92 L81.4 90.5 L81.4 93.5Z" fill="#3a3a3a"/>
<text x="88.2" y="96.4" font-size="10.2" font-weight="bold" text-anchor="start" >perforin</text>
<line x1="139.5" y1="92" x2="179.5" y2="92" stroke="#3a3a3a" stroke-width="1.1" />
<path d="M181 92 L178.2 90.5 L178.2 93.5Z" fill="#3a3a3a"/>
<text x="187.6" y="96" font-size="10.2" font-weight="bold" text-anchor="start" >grz B</text>
<clipPath id="c339"><rect x="339.7" y="11.6" width="69.30000000000001" height="70.4"/></clipPath>
<clipPath id="c419"><rect x="419.5" y="11.6" width="70.5" height="70.4"/></clipPath>
<g clip-path="url(#c339)">
<ellipse cx="372" cy="69" rx="26" ry="9.5" fill="#000" fill-opacity="0.2" transform="rotate(0 372 69)" filter="url(#b4_0)"/>
<ellipse cx="376" cy="58" rx="15" ry="13" fill="#000" fill-opacity="0.13" transform="rotate(0 376 58)" filter="url(#b4_0)"/>
<ellipse cx="381" cy="48" rx="9" ry="11" fill="#000" fill-opacity="0.11" transform="rotate(0 381 48)" filter="url(#b4_0)"/>
<ellipse cx="367.2" cy="68.5" rx="8.5" ry="11.5" fill="#000" fill-opacity="0.4" transform="rotate(0 367.2 68.5)" filter="url(#b4_0)"/>
<ellipse cx="367.2" cy="68.8" rx="4.6" ry="8.6" fill="#000" fill-opacity="0.85" transform="rotate(0 367.2 68.8)" filter="url(#b2_5)"/>
<g filter="url(#b0_4)">
<path d="M366.9 69.0h0.7M358.3 72.8h0.7M367.0 76.0h0.7M372.1 74.6h0.7M370.9 62.1h0.7M372.8 62.1h0.7M373.2 73.8h0.7M355.2 75.5h0.7M362.2 77.4h0.7M363.7 63.6h0.7M359.6 67.4h0.7M371.9 64.2h0.7M375.9 74.0h0.7M364.4 60.2h0.7M359.1 73.0h0.7M373.3 61.3h0.7M367.0 67.0h0.7M365.8 72.6h0.7M377.1 64.4h0.7M371.1 76.9h0.7M365.6 67.9h0.7M360.5 76.8h0.7M364.4 64.3h0.7M367.3 62.8h0.7M362.0 66.8h0.7M374.2 67.5h0.7M369.5 58.4h0.7M365.1 57.9h0.7M366.5 73.4h0.7M358.7 62.6h0.7M368.3 62.3h0.7M370.8 76.0h0.7M369.1 65.9h0.7M366.8 64.4h0.7M366.4 71.3h0.7M365.6 76.0h0.7M379.5 65.0h0.7M368.7 75.0h0.7M370.1 67.3h0.7M364.7 76.3h0.7M370.0 72.7h0.7M363.1 73.6h0.7M370.8 67.7h0.7M357.9 73.4h0.7M361.3 59.1h0.7M365.9 73.0h0.7M367.3 60.6h0.7M360.1 65.0h0.7M367.1 63.0h0.7M362.9 67.9h0.7M364.3 64.8h0.7M367.2 66.8h0.7M370.0 60.4h0.7M366.6 74.6h0.7M372.7 73.0h0.7M367.2 57.7h0.7M359.3 76.1h0.7M370.3 73.1h0.7M359.0 53.5h0.7M361.9 60.4h0.7M367.8 61.6h0.7M374.7 64.5h0.7M364.3 75.3h0.7M368.6 62.5h0.7M361.1 67.2h0.7M361.8 54.9h0.7M370.0 74.1h0.7M371.7 72.1h0.7M357.2 68.8h0.7M363.8 60.4h0.7M361.6 74.6h0.7M369.3 55.1h0.7M371.3 78.1h0.7M367.2 60.2h0.7M375.6 59.4h0.7M366.6 55.1h0.7M360.9 56.6h0.7M372.3 77.6h0.7M365.0 59.1h0.7M366.7 71.8h0.7M359.6 60.5h0.7M366.5 74.1h0.7M367.4 72.3h0.7M360.9 50.8h0.7M368.5 62.3h0.7M366.4 66.2h0.7M369.3 63.4h0.7M374.0 69.2h0.7M369.6 73.6h0.7M372.1 72.0h0.7M358.5 64.4h0.7M376.1 72.5h0.7M369.7 72.4h0.7M363.9 64.0h0.7M363.8 77.5h0.7M369.2 60.3h0.7M375.5 71.5h0.7M372.8 70.6h0.7M365.4 70.2h0.7M361.5 60.2h0.7M362.6 65.1h0.7M360.4 68.2h0.7M376.0 68.6h0.7M371.3 67.4h0.7M368.9 68.8h0.7M364.3 69.6h0.7M359.7 72.2h0.7M365.6 61.0h0.7M365.2 73.1h0.7M363.7 72.5h0.7M369.8 80.5h0.7M361.7 68.2h0.7M369.5 80.1h0.7M368.3 74.6h0.7M359.8 64.7h0.7M375.2 66.9h0.7M377.6 63.6h0.7M365.6 57.2h0.7M370.1 71.0h0.7M376.9 70.2h0.7M365.8 58.6h0.7M366.6 76.0h0.7M370.7 78.1h0.7M371.3 68.7h0.7M370.0 70.3h0.7M368.8 61.2h0.7M368.9 71.1h0.7M371.9 79.7h0.7M352.0 73.1h0.7M374.6 62.0h0.7M357.8 71.1h0.7M368.7 71.6h0.7M361.5 65.5h0.7M368.0 74.5h0.7M377.8 71.2h0.7M364.0 51.5h0.7M372.3 68.0h0.7M366.5 61.7h0.7M370.6 55.7h0.7M367.5 69.9h0.7M368.5 78.7h0.7M366.5 69.7h0.7M371.2 57.5h0.7M365.6 69.5h0.7M371.7 63.0h0.7M371.0 71.9h0.7M359.6 58.0h0.7M359.9 70.0h0.7M368.0 74.4h0.7M371.1 64.9h0.7M372.3 75.1h0.7M369.3 72.6h0.7M360.6 71.7h0.7M361.9 60.1h0.7M365.3 70.0h0.7M366.7 66.5h0.7M362.0 70.4h0.7M363.3 58.5h0.7M367.5 79.8h0.7M365.0 61.1h0.7M365.5 67.4h0.7M367.7 76.4h0.7M369.2 55.4h0.7M361.5 59.8h0.7M369.2 69.8h0.7M375.9 67.0h0.7M368.5 69.6h0.7M368.4 80.0h0.7M373.5 64.5h0.7M370.4 66.2h0.7M367.5 70.2h0.7M367.1 65.5h0.7M374.8 67.0h0.7M370.1 76.7h0.7M373.9 77.1h0.7M375.6 58.3h0.7M376.8 69.2h0.7M358.3 64.2h0.7M360.0 68.8h0.7M359.6 61.5h0.7M368.5 70.2h0.7M363.0 67.2h0.7M366.5 69.6h0.7M367.0 67.3h0.7M371.4 57.0h0.7M364.5 70.0h0.7M365.0 64.9h0.7M364.8 70.6h0.7M373.2 67.6h0.7M365.7 71.7h0.7M365.8 54.5h0.7M368.3 66.2h0.7M364.1 73.7h0.7M367.2 64.8h0.7M356.1 56.1h0.7M367.1 68.1h0.7M369.2 70.7h0.7M364.6 59.5h0.7M361.5 68.0h0.7M361.3 74.7h0.7M360.4 55.6h0.7M366.0 55.7h0.7M375.1 61.6h0.7M371.2 67.4h0.7M358.9 57.5h0.7M342.2 74.6h0.7M348.6 72.6h0.7M371.8 74.5h0.7M363.8 73.7h0.7M386.3 72.9h0.7M395.1 67.9h0.7M396.7 64.4h0.7M398.7 51.1h0.7M372.2 63.8h0.7M372.0 75.7h0.7M383.5 69.6h0.7M399.2 59.4h0.7M359.0 78.8h0.7M377.2 55.5h0.7M377.5 61.3h0.7M395.6 76.4h0.7M363.2 77.4h0.7M358.7 75.0h0.7M381.3 68.2h0.7M349.3 67.2h0.7M342.4 76.9h0.7M356.5 53.2h0.7M381.3 71.4h0.7M384.4 69.4h0.7M361.7 49.8h0.7M379.7 75.2h0.7M362.5 59.8h0.7M371.3 58.1h0.7M372.1 74.0h0.7M396.2 70.7h0.7M375.1 73.9h0.7M394.4 66.9h0.7M352.4 63.9h0.7M351.9 63.2h0.7M370.1 71.2h0.7M374.5 69.5h0.7M366.3 71.8h0.7M386.2 73.9h0.7M396.0 67.1h0.7M368.0 80.0h0.7M375.2 71.7h0.7M366.6 75.3h0.7M365.6 62.5h0.7M371.0 66.1h0.7M385.3 66.5h0.7M374.0 67.6h0.7M377.4 64.9h0.7M389.7 59.7h0.7M365.8 64.4h0.7M382.4 69.3h0.7M379.8 66.9h0.7M360.5 61.7h0.7M366.7 65.5h0.7M376.5 71.3h0.7M387.6 68.3h0.7M360.0 62.1h0.7M373.0 71.3h0.7M403.2 70.2h0.7M355.2 76.9h0.7M390.2 77.7h0.7M371.8 75.2h0.7M364.3 68.5h0.7M372.3 80.6h0.7M368.6 75.2h0.7M373.1 64.4h0.7M375.9 73.3h0.7M360.6 73.1h0.7M360.6 63.3h0.7M375.5 67.5h0.7M356.3 58.4h0.7M372.4 70.6h0.7M364.6 70.2h0.7M347.6 71.6h0.7M378.7 70.8h0.7M362.2 69.5h0.7M374.1 76.0h0.7M376.4 70.6h0.7M360.4 74.6h0.7M390.8 65.8h0.7M382.2 71.0h0.7M371.3 60.6h0.7M400.1 56.9h0.7M376.8 66.6h0.7M390.3 66.3h0.7M372.6 73.0h0.7M379.3 65.6h0.7M382.9 71.5h0.7M387.8 65.7h0.7M371.3 66.5h0.7M358.6 70.7h0.7M378.5 78.2h0.7M366.8 71.5h0.7M390.2 68.3h0.7M373.0 69.9h0.7M361.0 62.6h0.7M389.8 70.1h0.7M370.8 60.9h0.7M373.9 76.6h0.7M353.6 63.2h0.7M389.7 78.3h0.7M396.8 65.4h0.7M381.6 64.1h0.7M380.3 66.6h0.7M375.1 77.7h0.7M377.4 67.4h0.7M372.9 70.7h0.7M363.8 70.3h0.7M381.6 79.1h0.7M352.3 74.7h0.7M373.9 76.4h0.7M363.9 65.9h0.7M377.4 65.2h0.7M389.7 69.0h0.7M364.9 75.0h0.7M358.9 77.1h0.7M387.3 69.9h0.7M387.8 79.4h0.7M393.9 69.0h0.7M371.1 76.1h0.7M348.6 65.1h0.7M379.7 72.7h0.7M401.5 80.3h0.7M377.1 71.8h0.7M351.1 67.8h0.7M376.1 67.5h0.7M373.0 72.9h0.7M356.9 65.3h0.7M343.8 76.4h0.7M355.3 58.0h0.7M384.2 67.6h0.7M387.3 66.6h0.7M405.7 73.6h0.7M374.4 69.7h0.7M368.7 74.2h0.7M403.7 66.3h0.7M354.8 72.8h0.7M388.9 59.4h0.7M361.1 62.6h0.7M380.9 72.2h0.7M360.4 61.8h0.7M382.8 55.8h0.7M382.2 68.0h0.7M402.3 75.4h0.7M362.8 67.2h0.7M367.6 64.3h0.7M373.3 75.2h0.7M348.2 67.5h0.7M395.6 73.8h0.7M359.2 63.8h0.7M358.5 58.7h0.7M390.1 69.4h0.7M361.0 59.8h0.7M365.9 65.7h0.7M399.1 66.1h0.7M373.8 75.9h0.7M382.5 67.8h0.7M381.4 66.2h0.7M370.6 62.9h0.7M357.9 59.5h0.7M379.9 72.3h0.7M374.7 74.0h0.7M380.4 69.8h0.7M358.1 72.8h0.7M390.7 73.0h0.7M391.6 66.0h0.7M356.6 77.0h0.7M362.8 70.6h0.7M369.0 69.1h0.7M367.7 65.6h0.7M375.2 56.7h0.7M357.8 61.8h0.7M360.3 52.7h0.7M381.0 79.5h0.7M368.1 73.7h0.7M381.4 61.1h0.7M391.1 58.3h0.7M363.0 66.7h0.7M391.7 69.8h0.7M370.1 63.9h0.7M373.4 69.3h0.7M383.5 77.9h0.7M383.6 69.1h0.7M369.6 79.2h0.7M375.2 68.9h0.7M400.2 79.0h0.7M380.9 68.3h0.7M362.1 75.8h0.7M364.9 75.1h0.7M359.7 69.7h0.7M378.3 69.9h0.7M375.7 71.4h0.7M354.4 61.9h0.7M369.7 80.5h0.7M370.1 63.1h0.7M361.7 69.2h0.7M390.5 65.4h0.7M380.8 70.2h0.7M366.4 63.0h0.7M369.6 64.4h0.7M380.4 57.8h0.7M389.6 73.8h0.7M381.0 78.5h0.7M381.4 58.2h0.7M372.8 71.9h0.7M361.3 61.8h0.7M378.8 72.2h0.7M365.4 67.5h0.7M364.1 65.4h0.7M371.1 75.8h0.7M346.9 66.8h0.7M397.2 71.0h0.7M374.4 74.3h0.7M356.3 61.3h0.7M346.1 59.8h0.7M375.9 74.4h0.7M365.5 64.7h0.7M378.3 72.9h0.7M376.0 56.9h0.7M363.5 53.0h0.7M375.8 63.6h0.7M361.8 78.5h0.7M392.6 72.1h0.7M376.3 70.1h0.7M362.9 68.7h0.7M401.8 63.5h0.7M361.7 70.0h0.7M385.9 74.3h0.7M356.9 68.2h0.7M367.9 61.2h0.7M373.2 66.0h0.7M386.3 71.7h0.7M359.9 69.5h0.7M366.4 65.0h0.7M364.4 75.7h0.7M365.6 58.2h0.7M359.9 74.1h0.7M405.5 62.3h0.7M366.5 66.9h0.7M350.1 71.5h0.7M371.2 70.8h0.7M406.8 67.3h0.7M384.4 74.3h0.7M362.1 65.3h0.7M396.2 73.5h0.7M374.2 62.1h0.7M385.7 72.3h0.7M406.2 78.3h0.7M384.5 70.7h0.7M373.0 65.5h0.7M376.8 70.5h0.7M382.1 75.9h0.7M376.9 65.6h0.7M384.6 78.8h0.7M359.0 71.7h0.7M380.5 72.4h0.7M379.9 68.4h0.7M370.4 79.7h0.7M398.9 60.1h0.7M361.5 65.7h0.7M347.2 71.2h0.7M371.2 65.6h0.7M394.9 76.4h0.7M365.6 73.2h0.7M371.4 76.3h0.7M381.1 68.8h0.7M380.6 64.5h0.7M384.3 78.5h0.7M366.4 72.5h0.7M346.1 74.9h0.7M385.6 62.6h0.7M399.1 69.7h0.7M345.1 60.4h0.7M385.6 67.3h0.7M389.2 59.2h0.7M370.5 75.2h0.7M361.5 73.3h0.7M366.4 71.2h0.7M352.8 73.9h0.7M392.4 61.9h0.7M388.3 50.3h0.7M368.3 58.2h0.7M376.7 64.4h0.7M363.3 63.7h0.7M376.6 66.1h0.7M357.9 67.6h0.7M378.3 63.6h0.7M389.3 58.5h0.7M378.3 66.5h0.7M396.5 64.9h0.7M361.7 60.5h0.7M402.9 72.9h0.7M355.1 66.9h0.7M357.1 78.6h0.7M378.5 56.1h0.7M375.3 74.8h0.7M372.0 72.0h0.7M370.3 70.3h0.7M375.3 64.5h0.7M377.4 70.0h0.7M371.4 64.7h0.7M356.2 70.6h0.7M384.8 53.7h0.7M363.7 77.6h0.7M386.2 64.5h0.7M393.0 62.8h0.7M365.2 67.6h0.7M346.4 62.6h0.7M353.7 68.1h0.7M343.5 75.7h0.7M366.5 65.2h0.7M362.1 73.7h0.7M395.9 66.4h0.7M397.1 79.2h0.7M392.9 70.9h0.7M348.8 73.3h0.7M365.6 70.2h0.7M342.7 67.2h0.7M375.6 63.1h0.7M376.6 79.6h0.7M375.6 64.7h0.7M357.7 71.6h0.7M362.8 54.5h0.7M376.1 74.3h0.7M359.6 78.3h0.7M379.8 76.5h0.7M348.2 69.0h0.7M392.5 69.0h0.7M374.9 65.0h0.7M389.1 64.6h0.7M373.9 55.9h0.7M348.5 80.3h0.7M372.9 70.4h0.7M404.3 59.5h0.7M363.7 67.7h0.7M352.4 60.4h0.7M352.7 73.1h0.7M371.3 74.2h0.7M355.2 72.7h0.7M365.1 69.6h0.7M386.6 69.2h0.7M366.5 58.4h0.7M373.0 74.0h0.7M362.1 68.6h0.7M344.3 60.5h0.7M378.3 77.2h0.7M367.1 58.4h0.7M366.1 59.1h0.7M376.7 68.0h0.7M388.2 66.6h0.7M377.2 70.3h0.7M379.0 59.6h0.7M383.1 74.6h0.7M358.0 78.5h0.7M372.3 73.3h0.7M380.7 74.7h0.7M362.0 65.3h0.7M384.0 55.0h0.7M385.5 52.3h0.7M377.2 59.9h0.7M384.7 59.5h0.7M361.0 58.9h0.7M361.8 51.1h0.7M375.8 50.2h0.7M377.3 45.9h0.7M382.5 52.4h0.7M374.7 24.1h0.7M374.9 54.3h0.7M374.4 53.2h0.7M378.1 39.7h0.7M390.2 65.3h0.7M380.2 48.5h0.7M388.6 35.9h0.7M374.1 60.2h0.7M388.1 44.1h0.7M374.9 52.5h0.7M369.9 44.1h0.7M379.2 24.7h0.7M385.7 56.6h0.7M389.4 34.8h0.7M370.8 40.9h0.7M370.7 69.3h0.7M373.3 45.9h0.7M382.6 53.5h0.7M392.5 38.2h0.7M388.0 50.5h0.7M371.7 50.5h0.7M369.9 65.1h0.7M375.2 59.0h0.7M391.3 42.9h0.7M373.9 50.3h0.7M372.7 57.9h0.7M382.4 41.4h0.7M375.6 56.2h0.7M369.5 65.8h0.7M374.8 47.1h0.7M373.7 65.1h0.7M387.5 61.9h0.7M386.2 49.9h0.7M394.5 55.6h0.7M384.5 54.7h0.7M386.9 51.8h0.7M379.7 33.1h0.7M397.4 36.1h0.7M363.8 41.9h0.7M396.4 61.1h0.7M376.2 51.6h0.7M380.8 29.2h0.7M378.3 51.9h0.7M390.3 37.0h0.7M363.0 33.3h0.7M383.6 49.8h0.7M382.2 50.5h0.7M378.1 35.4h0.7M384.6 52.9h0.7M385.6 61.4h0.7M371.1 25.6h0.7M366.8 70.3h0.7M373.7 53.0h0.7M380.9 56.3h0.7M406.7 43.8h0.7M379.6 43.0h0.7M383.0 54.2h0.7M373.2 62.2h0.7M390.2 53.4h0.7M380.1 46.6h0.7M367.9 55.6h0.7M373.2 44.0h0.7M389.0 39.8h0.7M376.8 57.6h0.7M395.9 42.1h0.7M389.8 42.5h0.7M384.1 53.8h0.7M371.9 59.3h0.7M395.4 49.5h0.7M383.2 37.3h0.7M395.3 49.6h0.7M370.8 56.6h0.7M369.3 42.1h0.7M363.9 62.8h0.7M398.7 42.7h0.7M375.8 43.2h0.7M376.5 54.5h0.7M392.7 38.9h0.7M384.5 31.0h0.7M393.2 48.1h0.7M375.4 64.3h0.7M380.2 62.7h0.7M389.6 65.6h0.7M374.6 49.6h0.7M383.9 47.1h0.7M393.2 41.9h0.7M389.0 62.6h0.7M365.4 39.3h0.7M373.8 43.5h0.7M384.1 47.3h0.7M381.6 44.4h0.7M380.3 53.8h0.7M387.0 41.2h0.7M380.1 41.4h0.7M379.6 34.6h0.7M388.6 55.7h0.7M380.0 42.2h0.7M377.3 42.3h0.7M368.7 65.3h0.7M407.3 36.7h0.7M371.7 54.8h0.7M385.8 33.3h0.7M365.6 54.4h0.7M365.1 63.2h0.7M377.0 49.9h0.7M381.0 43.4h0.7M379.9 46.0h0.7M391.0 48.1h0.7M380.7 43.7h0.7M375.9 41.6h0.7M381.1 67.4h0.7M389.9 51.4h0.7M394.4 59.1h0.7M382.7 47.4h0.7M372.2 51.5h0.7M378.5 33.1h0.7M370.7 68.4h0.7M382.7 54.0h0.7M382.6 44.4h0.7M384.7 59.8h0.7M378.5 54.1h0.7M389.2 44.2h0.7M382.4 41.6h0.7M385.8 45.3h0.7M390.2 41.4h0.7M394.5 45.9h0.7M374.3 40.0h0.7M386.3 40.4h0.7M395.4 61.8h0.7M385.1 34.8h0.7M380.8 41.7h0.7M366.5 53.3h0.7M398.6 43.6h0.7M387.5 61.8h0.7M373.3 45.6h0.7M383.1 53.7h0.7M371.8 51.2h0.7M380.1 58.5h0.7M368.2 43.4h0.7M377.0 45.8h0.7M386.8 42.7h0.7M402.9 41.9h0.7M387.7 59.2h0.7M388.7 47.0h0.7M374.4 46.4h0.7M386.3 50.2h0.7M385.7 54.7h0.7M373.9 39.6h0.7M392.5 44.1h0.7M368.3 67.6h0.7M374.3 39.7h0.7M388.7 37.7h0.7M374.0 59.5h0.7M374.4 74.1h0.7M381.8 75.8h0.7M382.0 49.6h0.7M375.9 46.8h0.7M377.0 48.8h0.7M387.2 36.3h0.7M373.7 28.1h0.7M393.0 48.3h0.7M380.9 48.4h0.7M389.0 52.2h0.7M387.8 47.3h0.7M380.0 48.4h0.7M366.1 59.9h0.7M368.4 39.1h0.7M386.4 49.6h0.7M387.5 66.1h0.7M395.9 62.8h0.7M379.2 69.5h0.7M374.0 48.1h0.7M389.0 46.9h0.7M380.0 45.5h0.7M391.9 24.3h0.7M391.2 59.6h0.7M380.4 54.6h0.7M373.3 60.1h0.7M405.5 39.8h0.7M392.2 48.4h0.7M378.3 44.1h0.7M379.5 36.5h0.7M370.1 65.6h0.7M380.9 54.5h0.7M383.5 53.8h0.7M368.8 39.5h0.7M386.1 59.0h0.7M371.8 43.2h0.7M372.5 55.5h0.7M383.8 49.3h0.7M375.8 52.4h0.7M381.3 41.6h0.7M383.7 42.4h0.7M388.6 55.3h0.7M375.5 54.9h0.7M381.5 41.9h0.7M373.7 32.4h0.7M372.0 52.5h0.7M390.7 42.7h0.7M382.3 52.4h0.7M387.2 53.4h0.7M390.8 56.7h0.7M374.9 53.0h0.7M362.3 47.2h0.7M381.2 54.8h0.7M378.6 57.3h0.7M391.6 40.6h0.7M376.7 51.6h0.7M384.9 50.4h0.7M387.6 37.2h0.7M387.2 60.7h0.7M389.9 53.3h0.7M379.1 53.0h0.7M380.4 33.1h0.7M376.2 48.6h0.7M376.9 39.7h0.7M379.1 45.3h0.7M381.6 48.5h0.7M382.4 58.9h0.7M382.1 53.1h0.7M371.2 19.5h0.7M377.8 55.8h0.7M378.3 42.8h0.7M371.1 57.9h0.7M376.8 51.5h0.7M390.0 54.4h0.7M398.9 47.7h0.7M388.6 55.9h0.7M375.8 49.5h0.7M376.5 38.8h0.7M383.4 41.3h0.7M394.4 41.6h0.7M376.6 49.9h0.7M376.9 49.5h0.7M376.1 34.8h0.7M361.7 36.1h0.7M393.2 53.4h0.7M382.2 44.4h0.7M379.8 52.0h0.7M369.9 41.0h0.7M373.9 61.6h0.7M372.5 60.7h0.7M377.3 76.3h0.7M380.4 49.3h0.7M391.8 57.7h0.7M388.5 38.3h0.7M390.1 65.8h0.7M380.2 44.2h0.7M372.3 59.2h0.7M383.4 49.1h0.7M371.1 65.2h0.7M388.0 48.8h0.7M392.8 39.5h0.7M388.1 39.0h0.7M392.3 46.2h0.7M390.8 44.8h0.7M384.2 60.4h0.7M373.8 50.0h0.7M374.3 57.5h0.7M376.2 45.3h0.7M379.4 60.6h0.7M372.7 48.7h0.7M378.4 43.5h0.7M374.7 47.4h0.7M382.6 33.5h0.7M382.9 37.2h0.7M381.1 71.8h0.7M373.3 48.3h0.7M379.0 58.8h0.7M377.2 31.1h0.7M368.1 50.8h0.7M383.0 59.7h0.7M376.7 55.7h0.7M372.5 62.0h0.7M380.4 42.2h0.7M382.4 66.4h0.7M374.2 36.6h0.7M372.9 37.4h0.7M380.6 52.5h0.7M379.7 51.0h0.7M390.5 46.1h0.7M371.0 26.1h0.7M382.9 42.2h0.7M379.0 53.1h0.7M384.7 33.3h0.7M373.3 49.7h0.7M379.8 60.5h0.7M377.0 28.4h0.7M390.4 32.6h0.7M373.2 52.9h0.7M372.5 73.9h0.7M378.4 63.8h0.7M371.6 79.0h0.7M381.4 52.5h0.7M388.5 43.8h0.7M370.1 61.6h0.7M377.4 50.4h0.7M391.8 72.2h0.7M366.7 62.4h0.7M369.7 55.1h0.7M385.9 60.1h0.7M374.9 59.9h0.7M364.3 70.0h0.7M368.5 70.8h0.7M371.4 54.9h0.7M390.9 60.7h0.7M369.6 54.2h0.7M382.1 75.8h0.7M382.1 55.5h0.7M364.8 52.9h0.7M374.8 61.2h0.7M369.4 70.5h0.7M366.4 52.6h0.7M381.0 63.3h0.7M372.1 67.7h0.7M361.9 73.7h0.7M397.9 76.6h0.7M377.2 76.7h0.7M376.5 71.0h0.7M374.0 60.7h0.7M381.2 43.3h0.7M373.9 74.5h0.7M346.8 62.5h0.7M385.2 62.0h0.7M377.9 71.5h0.7M379.4 42.0h0.7M366.6 56.3h0.7M377.4 55.0h0.7M375.0 74.0h0.7M346.7 69.4h0.7M385.4 64.4h0.7M376.2 59.6h0.7M379.6 61.2h0.7M368.8 66.0h0.7M367.7 58.6h0.7M372.4 48.6h0.7M382.0 58.4h0.7M364.4 58.3h0.7M362.2 71.9h0.7M381.2 76.9h0.7M370.3 65.3h0.7M366.3 51.3h0.7M375.1 62.7h0.7M385.2 56.6h0.7M387.0 67.7h0.7M367.3 57.4h0.7M366.9 74.3h0.7M370.5 66.9h0.7M385.1 56.7h0.7M371.1 62.1h0.7M368.3 47.7h0.7M366.4 62.0h0.7M377.9 74.8h0.7M357.8 63.5h0.7M364.5 69.4h0.7M382.9 60.1h0.7M390.7 55.7h0.7M370.7 49.6h0.7M369.5 60.0h0.7M382.7 70.5h0.7M373.3 52.5h0.7M372.7 55.2h0.7M371.3 55.4h0.7M367.3 58.5h0.7M370.9 57.5h0.7M362.2 60.3h0.7M381.7 64.8h0.7M370.5 48.8h0.7M363.1 48.5h0.7M369.6 56.2h0.7M358.4 65.0h0.7M360.7 52.9h0.7M368.8 66.4h0.7M394.3 55.8h0.7M373.3 55.5h0.7M374.0 57.5h0.7M400.5 49.3h0.7M374.9 52.0h0.7M379.5 54.4h0.7M381.7 49.4h0.7M396.9 60.9h0.7M358.5 65.2h0.7M371.3 48.7h0.7M380.4 54.4h0.7M383.3 54.1h0.7M384.9 60.3h0.7M379.5 60.4h0.7M372.4 55.8h0.7M380.5 65.3h0.7M372.0 78.9h0.7M392.7 48.8h0.7M386.7 58.4h0.7M378.3 52.0h0.7M392.3 51.7h0.7M375.2 52.6h0.7M395.1 70.1h0.7M363.0 55.0h0.7M379.6 55.2h0.7M372.5 49.5h0.7M378.5 49.3h0.7M384.2 80.3h0.7M372.8 73.6h0.7M379.7 53.1h0.7M372.6 50.5h0.7M377.1 65.2h0.7M385.2 56.5h0.7M364.2 58.3h0.7M392.5 61.5h0.7M375.4 40.6h0.7M371.7 63.8h0.7M366.7 71.0h0.7M370.4 51.3h0.7M370.3 58.2h0.7M385.9 54.0h0.7M358.4 58.3h0.7M381.2 72.6h0.7M364.9 72.1h0.7M382.7 63.0h0.7M368.4 51.2h0.7M366.6 67.3h0.7M378.2 68.5h0.7M393.9 59.2h0.7M375.5 76.0h0.7M363.2 55.1h0.7M372.4 55.7h0.7M377.4 51.6h0.7M387.4 47.0h0.7M368.0 44.1h0.7M362.2 64.2h0.7M382.2 57.3h0.7M384.3 64.5h0.7M370.3 58.7h0.7M379.6 76.8h0.7M371.7 62.3h0.7M381.4 69.8h0.7M380.2 68.5h0.7M365.5 56.7h0.7M357.0 58.6h0.7M398.9 61.2h0.7M376.9 61.4h0.7M377.4 47.4h0.7M369.2 57.5h0.7M377.7 51.4h0.7M375.0 52.6h0.7M363.0 53.3h0.7M368.1 66.4h0.7M389.2 64.2h0.7M373.9 54.2h0.7M360.6 54.4h0.7M391.4 69.2h0.7M378.2 56.9h0.7M376.0 62.8h0.7M375.9 62.8h0.7M368.4 59.5h0.7M372.6 68.5h0.7M363.8 70.5h0.7M375.2 54.6h0.7M376.2 60.1h0.7M373.7 62.8h0.7M370.3 44.2h0.7M382.8 58.8h0.7M392.4 62.5h0.7M356.3 70.0h0.7M369.2 63.9h0.7M397.8 68.6h0.7M365.3 58.3h0.7M360.2 64.9h0.7M381.5 50.1h0.7M380.5 67.3h0.7M383.9 53.2h0.7M369.2 49.2h0.7M363.3 61.8h0.7M376.4 70.5h0.7M378.7 56.2h0.7M362.0 72.6h0.7M377.6 58.8h0.7M366.1 49.9h0.7M382.2 50.5h0.7M381.7 64.6h0.7M372.3 44.9h0.7M380.0 71.4h0.7M367.9 48.0h0.7M386.7 60.3h0.7M369.9 69.8h0.7M373.3 63.0h0.7M372.1 52.5h0.7M378.2 51.6h0.7M358.6 54.4h0.7M388.1 68.7h0.7M397.3 67.8h0.7M391.8 61.3h0.7M371.7 63.2h0.7M366.7 65.5h0.7M371.6 61.3h0.7M367.6 57.9h0.7M385.6 57.2h0.7M369.4 61.6h0.7M384.6 57.5h0.7M364.5 45.5h0.7M362.9 68.4h0.7M375.1 63.3h0.7M386.5 61.6h0.7M380.7 54.7h0.7M360.2 64.6h0.7M375.1 64.1h0.7M365.6 57.9h0.7M395.8 51.8h0.7M377.0 70.5h0.7M373.7 60.2h0.7M355.1 65.9h0.7M371.7 70.3h0.7M375.1 55.9h0.7M380.3 57.0h0.7M371.0 72.5h0.7M385.6 60.1h0.7M383.9 66.3h0.7M381.7 59.5h0.7M376.7 62.7h0.7M381.5 62.2h0.7M370.6 58.5h0.7M380.5 50.6h0.7M375.9 65.7h0.7M377.7 56.6h0.7M375.8 54.9h0.7M385.6 55.9h0.7M359.7 48.7h0.7M378.9 60.9h0.7M371.4 47.8h0.7M374.5 51.9h0.7M369.6 59.1h0.7M368.5 61.8h0.7" stroke="#000" stroke-width="0.7" stroke-opacity="0.28" fill="none"/>
</g>
</g>
<rect x="339.70" y="11.60" width="69.30" height="70.40" fill="none" stroke="#c4c4c4" stroke-width="0.8" />
<g clip-path="url(#c419)">
<ellipse cx="447" cy="63" rx="20" ry="15" fill="#000" fill-opacity="0.18" transform="rotate(0 447 63)" filter="url(#b4_0)"/>
<ellipse cx="441" cy="67.5" rx="14.5" ry="12.5" fill="#000" fill-opacity="0.42" transform="rotate(0 441 67.5)" filter="url(#b4_0)"/>
<ellipse cx="440.6" cy="67.8" rx="8.4" ry="8.0" fill="#000" fill-opacity="0.85" transform="rotate(0 440.6 67.8)" filter="url(#b2_5)"/>
<g filter="url(#b0_4)">
<path d="M434.5 63.3h0.7M439.0 79.0h0.7M454.9 74.8h0.7M434.5 67.2h0.7M449.1 73.7h0.7M426.7 66.7h0.7M434.5 73.2h0.7M446.6 62.8h0.7M459.9 64.9h0.7M462.5 65.7h0.7M436.4 63.3h0.7M454.0 66.8h0.7M445.2 56.9h0.7M456.8 75.1h0.7M444.1 72.9h0.7M436.6 63.3h0.7M427.2 70.1h0.7M451.9 74.1h0.7M449.1 72.9h0.7M432.9 56.5h0.7M446.6 68.5h0.7M449.7 64.9h0.7M433.2 70.7h0.7M436.1 53.8h0.7M435.6 60.0h0.7M431.2 62.7h0.7M456.2 63.8h0.7M451.1 66.6h0.7M444.5 61.7h0.7M440.3 53.5h0.7M456.8 60.9h0.7M446.2 62.4h0.7M443.4 57.6h0.7M437.7 74.5h0.7M446.2 51.4h0.7M448.5 56.5h0.7M443.5 71.3h0.7M435.3 64.6h0.7M438.8 70.4h0.7M449.1 78.2h0.7M438.7 73.3h0.7M439.9 67.8h0.7M432.9 70.3h0.7M458.8 68.3h0.7M440.8 67.2h0.7M447.3 65.5h0.7M441.0 68.9h0.7M452.5 74.8h0.7M431.7 62.0h0.7M441.2 74.0h0.7M449.5 65.5h0.7M459.7 65.8h0.7M453.4 78.6h0.7M455.1 68.8h0.7M446.1 54.8h0.7M425.3 62.2h0.7M447.3 75.7h0.7M440.1 75.5h0.7M446.1 79.4h0.7M427.0 60.4h0.7M432.6 58.7h0.7M455.5 59.7h0.7M433.7 63.9h0.7M448.8 63.4h0.7M447.5 71.6h0.7M435.4 48.1h0.7M432.9 57.1h0.7M455.4 61.3h0.7M431.6 70.2h0.7M441.5 59.6h0.7M450.7 74.5h0.7M443.5 61.0h0.7M433.3 50.6h0.7M444.4 70.3h0.7M432.9 67.3h0.7M469.9 58.0h0.7M425.9 72.1h0.7M437.2 63.1h0.7M446.5 66.1h0.7M449.8 71.3h0.7M451.2 68.1h0.7M422.0 78.1h0.7M426.0 75.5h0.7M443.2 55.9h0.7M441.6 74.2h0.7M432.0 67.5h0.7M434.5 59.0h0.7M435.6 77.4h0.7M447.1 66.9h0.7M440.3 68.1h0.7M443.5 68.6h0.7M425.8 74.5h0.7M433.4 46.1h0.7M447.2 57.4h0.7M439.7 66.3h0.7M435.8 71.4h0.7M438.6 64.8h0.7M432.6 64.8h0.7M431.8 67.4h0.7M452.7 75.3h0.7M444.8 56.1h0.7M450.1 74.6h0.7M459.2 48.9h0.7M441.1 64.4h0.7M450.6 58.3h0.7M449.8 51.0h0.7M441.2 78.1h0.7M435.5 71.9h0.7M441.9 55.3h0.7M435.5 76.3h0.7M451.5 62.2h0.7M451.0 61.3h0.7M443.2 66.9h0.7M429.9 69.7h0.7M437.6 44.9h0.7M433.7 60.2h0.7M433.6 59.2h0.7M434.9 47.2h0.7M448.9 67.7h0.7M443.3 64.9h0.7M441.6 64.9h0.7M431.4 54.8h0.7M441.7 75.3h0.7M443.1 80.1h0.7M428.9 64.9h0.7M435.5 77.1h0.7M456.0 62.8h0.7M447.5 65.1h0.7M432.2 66.2h0.7M431.8 79.6h0.7M446.2 76.7h0.7M444.2 47.3h0.7M448.1 67.8h0.7M450.0 80.9h0.7M431.9 73.4h0.7M443.9 65.6h0.7M438.5 71.3h0.7M446.1 72.4h0.7M437.4 56.3h0.7M452.7 77.6h0.7M436.0 66.8h0.7M448.1 52.8h0.7M443.4 61.3h0.7M459.1 67.1h0.7M442.9 63.6h0.7M442.6 52.4h0.7M429.6 55.0h0.7M449.0 66.3h0.7M451.2 50.5h0.7M435.7 78.9h0.7M434.0 51.9h0.7M434.4 64.2h0.7M440.9 77.6h0.7M452.8 79.7h0.7M446.1 62.9h0.7M436.6 55.0h0.7M452.3 77.2h0.7M441.8 59.8h0.7M447.0 71.0h0.7M442.4 57.6h0.7M443.1 62.4h0.7M447.5 71.9h0.7M444.9 63.5h0.7M454.5 73.3h0.7M452.2 73.8h0.7M446.9 70.2h0.7M431.5 52.2h0.7M432.7 72.0h0.7M449.1 68.5h0.7M437.5 52.5h0.7M427.3 64.4h0.7M447.2 73.0h0.7M439.0 73.7h0.7M440.6 61.1h0.7M437.7 73.2h0.7M449.4 57.9h0.7M432.3 68.0h0.7M459.8 57.5h0.7M429.9 70.4h0.7M445.5 62.0h0.7M440.8 71.0h0.7M425.6 66.8h0.7M446.3 74.5h0.7M451.3 66.4h0.7M428.3 78.0h0.7M447.8 61.8h0.7M450.1 75.5h0.7M439.8 47.8h0.7M436.9 60.8h0.7M433.6 66.3h0.7M431.5 70.2h0.7M457.7 57.3h0.7M450.2 62.7h0.7M445.8 66.0h0.7M452.3 61.2h0.7M447.5 60.7h0.7M443.0 66.9h0.7M450.6 54.2h0.7M429.1 78.3h0.7M444.4 80.8h0.7M431.9 68.7h0.7M440.5 63.4h0.7M447.3 66.2h0.7M434.4 73.2h0.7M424.2 58.7h0.7M453.0 62.9h0.7M438.2 70.0h0.7M450.9 71.3h0.7M432.5 62.4h0.7M450.2 66.0h0.7M435.4 74.1h0.7M431.5 61.2h0.7M434.9 69.9h0.7M436.8 76.1h0.7M435.3 64.8h0.7M446.0 68.7h0.7M432.1 79.2h0.7M446.1 63.0h0.7M442.8 58.0h0.7M430.2 64.6h0.7M444.2 67.8h0.7M434.2 55.7h0.7M426.3 80.0h0.7M444.2 60.5h0.7M451.4 71.4h0.7M437.4 62.0h0.7M451.0 69.7h0.7M455.4 70.0h0.7M435.9 62.1h0.7M434.8 69.1h0.7M443.2 71.9h0.7M445.0 58.4h0.7M439.2 59.3h0.7M445.2 56.3h0.7M435.9 60.0h0.7M435.6 64.9h0.7M454.3 64.9h0.7M428.4 64.5h0.7M447.6 71.5h0.7M450.7 67.7h0.7M451.7 56.1h0.7M439.5 59.9h0.7M442.6 80.2h0.7M436.7 80.0h0.7M432.1 78.6h0.7M426.2 60.1h0.7M449.7 66.3h0.7M442.3 66.9h0.7M442.6 65.5h0.7M432.4 64.6h0.7M442.0 59.7h0.7M426.6 62.6h0.7M438.5 67.2h0.7M441.8 61.1h0.7M440.7 67.0h0.7M440.2 79.6h0.7M442.1 55.0h0.7M427.3 71.8h0.7M438.0 62.0h0.7M429.1 64.5h0.7M440.2 61.4h0.7M437.9 74.2h0.7M447.9 71.5h0.7M439.5 55.9h0.7M447.8 79.2h0.7M452.2 76.5h0.7M443.4 70.1h0.7M440.9 77.2h0.7M447.8 64.4h0.7M441.0 53.9h0.7M434.6 64.6h0.7M462.4 60.4h0.7M449.0 67.6h0.7M438.4 72.1h0.7M423.6 74.7h0.7M457.9 69.4h0.7M440.5 68.3h0.7M446.8 63.0h0.7M442.1 71.1h0.7M437.9 70.2h0.7M443.9 72.8h0.7M432.4 62.6h0.7M437.3 76.8h0.7M443.2 53.5h0.7M444.0 56.4h0.7M433.0 68.2h0.7M453.5 80.2h0.7M437.8 64.6h0.7M457.8 59.0h0.7M454.7 69.8h0.7M441.8 77.5h0.7M445.2 60.2h0.7M427.7 67.1h0.7M445.5 78.2h0.7M446.4 79.4h0.7M448.0 68.7h0.7M444.8 70.3h0.7M435.5 66.1h0.7M442.1 63.3h0.7M428.2 55.2h0.7M445.4 71.3h0.7M441.9 57.5h0.7M448.4 63.8h0.7M422.9 79.8h0.7M445.7 63.4h0.7M420.5 61.3h0.7M453.9 78.1h0.7M443.3 53.0h0.7M437.7 64.7h0.7M445.0 66.0h0.7M444.0 53.7h0.7M435.4 78.8h0.7M428.3 74.5h0.7M461.2 72.3h0.7M428.9 77.2h0.7M424.8 69.8h0.7M437.4 77.1h0.7M451.3 68.6h0.7M456.7 75.0h0.7M436.8 59.0h0.7M462.5 63.7h0.7M444.6 66.1h0.7M436.9 53.9h0.7M439.7 66.1h0.7M449.6 62.8h0.7M427.3 58.2h0.7M440.7 69.0h0.7M447.3 63.9h0.7M445.7 68.2h0.7M455.8 66.5h0.7M442.3 71.6h0.7M451.7 59.5h0.7M436.9 64.8h0.7M422.4 77.7h0.7M450.4 67.2h0.7M470.4 77.4h0.7M458.7 79.9h0.7M448.9 55.4h0.7M454.4 70.4h0.7M430.5 67.4h0.7M447.6 75.1h0.7M442.5 62.7h0.7M447.7 60.8h0.7M440.3 73.3h0.7M428.4 70.1h0.7M423.9 59.4h0.7M430.2 66.3h0.7M447.3 66.6h0.7M449.0 67.8h0.7M439.2 71.0h0.7M438.9 68.1h0.7M450.1 62.3h0.7M451.1 57.9h0.7M439.1 52.8h0.7M436.4 80.0h0.7M444.1 77.4h0.7M428.2 58.7h0.7M445.1 73.8h0.7M448.3 53.3h0.7M445.5 66.4h0.7M442.1 70.9h0.7M438.6 53.1h0.7M431.7 55.1h0.7M429.5 65.9h0.7M452.4 61.2h0.7M434.3 57.6h0.7M425.9 67.5h0.7M436.8 65.0h0.7M432.6 71.0h0.7M430.5 71.5h0.7M435.2 73.5h0.7M433.2 70.6h0.7M444.9 66.4h0.7M455.3 68.4h0.7M433.2 72.7h0.7M433.8 62.6h0.7M441.1 68.5h0.7M455.9 52.7h0.7M438.7 76.3h0.7M439.6 69.6h0.7M454.4 56.9h0.7M441.4 73.5h0.7M435.9 52.6h0.7M432.4 64.1h0.7M466.4 45.6h0.7M462.2 71.7h0.7M470.7 60.4h0.7M438.9 63.6h0.7M469.6 68.6h0.7M471.8 70.4h0.7M438.4 51.2h0.7M474.1 45.9h0.7M441.9 58.6h0.7M433.7 55.9h0.7M446.1 56.4h0.7M448.8 72.0h0.7M435.1 57.7h0.7M421.5 69.5h0.7M456.9 78.0h0.7M459.8 59.1h0.7M441.3 58.7h0.7M429.3 70.2h0.7M438.1 54.3h0.7M454.6 63.2h0.7M438.5 59.5h0.7M439.8 76.3h0.7M461.7 54.3h0.7M446.4 76.6h0.7M442.8 81.0h0.7M453.5 69.1h0.7M452.0 68.2h0.7M454.0 67.6h0.7M439.6 71.6h0.7M447.9 50.8h0.7M432.1 63.7h0.7M451.9 38.5h0.7M424.6 59.4h0.7M438.2 67.9h0.7M467.6 79.2h0.7M432.2 75.2h0.7M429.2 65.3h0.7M449.5 68.6h0.7M435.3 76.3h0.7M446.0 61.8h0.7M443.1 50.6h0.7M457.6 65.6h0.7M434.3 59.0h0.7M447.1 71.1h0.7M444.4 72.0h0.7M453.7 43.2h0.7M437.0 40.3h0.7M442.8 57.6h0.7M455.6 63.8h0.7M446.1 75.5h0.7M455.7 48.9h0.7M436.9 65.5h0.7M471.9 59.9h0.7M444.5 64.8h0.7M458.5 61.0h0.7M451.3 57.5h0.7M438.9 53.5h0.7M456.6 56.1h0.7M455.1 66.3h0.7M461.3 33.3h0.7M432.9 49.0h0.7M444.6 70.6h0.7M484.1 78.5h0.7M466.9 66.1h0.7M441.3 67.7h0.7M447.1 68.6h0.7M431.9 50.3h0.7M437.6 61.5h0.7M452.1 58.2h0.7M452.1 69.3h0.7M430.0 60.9h0.7M424.2 56.1h0.7M460.3 54.4h0.7M474.3 67.4h0.7M460.0 63.1h0.7M459.7 73.7h0.7M448.6 56.3h0.7M444.3 57.1h0.7M436.6 44.0h0.7M439.7 65.5h0.7M439.9 53.9h0.7M453.0 66.9h0.7M440.6 65.3h0.7M432.7 71.2h0.7M432.6 58.4h0.7M449.0 57.5h0.7M469.2 43.3h0.7M448.8 48.4h0.7M451.6 48.1h0.7M455.5 67.7h0.7M472.0 74.9h0.7M440.3 72.1h0.7M440.3 60.8h0.7M439.7 43.2h0.7M455.8 40.2h0.7M443.5 67.6h0.7M448.7 45.1h0.7M437.5 69.3h0.7M463.1 79.1h0.7M420.4 66.9h0.7M439.9 70.2h0.7M422.3 60.5h0.7M457.4 55.1h0.7M441.7 51.5h0.7M463.3 47.8h0.7M433.6 58.4h0.7M451.0 53.1h0.7M455.5 65.7h0.7M451.1 61.3h0.7M453.8 49.5h0.7M429.4 57.4h0.7M430.8 69.5h0.7M475.5 75.2h0.7M453.5 65.6h0.7M437.0 48.1h0.7M455.0 46.2h0.7M451.4 60.5h0.7M458.0 62.5h0.7M448.6 55.8h0.7M421.8 58.3h0.7M457.2 73.2h0.7M467.2 51.3h0.7M433.3 69.5h0.7M451.6 45.7h0.7M438.9 78.8h0.7M420.3 63.6h0.7M426.7 79.2h0.7M440.4 51.0h0.7M422.0 54.4h0.7M479.0 63.1h0.7M443.1 49.6h0.7M452.0 56.9h0.7M434.6 76.8h0.7M453.4 52.5h0.7M468.7 61.4h0.7M454.4 63.6h0.7M464.3 68.6h0.7M441.9 69.7h0.7M441.3 63.4h0.7M471.1 50.6h0.7M431.8 57.7h0.7M439.7 76.0h0.7M470.2 57.2h0.7M449.7 58.1h0.7M456.8 69.1h0.7M458.0 70.2h0.7M475.3 60.2h0.7M457.3 60.0h0.7M447.6 64.4h0.7M446.2 65.7h0.7M434.5 60.4h0.7M438.1 49.5h0.7M436.6 56.7h0.7M444.8 45.3h0.7M443.2 49.9h0.7M435.0 64.0h0.7M463.3 65.1h0.7M439.8 57.3h0.7M466.7 44.6h0.7M463.7 45.9h0.7M437.7 62.5h0.7M443.8 79.8h0.7M454.3 61.5h0.7M461.0 62.4h0.7M435.2 74.0h0.7M469.0 75.7h0.7M440.9 70.2h0.7M423.3 51.0h0.7M464.3 67.3h0.7M442.4 30.6h0.7M453.5 60.0h0.7M446.9 64.5h0.7M458.1 59.1h0.7M433.8 58.1h0.7M476.0 54.6h0.7M462.5 63.3h0.7M457.8 59.1h0.7M433.7 72.8h0.7M449.0 79.2h0.7M443.1 58.0h0.7M452.1 60.0h0.7M442.4 52.4h0.7M450.7 65.5h0.7M473.9 61.7h0.7M421.2 67.0h0.7M480.6 57.3h0.7M435.2 60.2h0.7M444.2 45.8h0.7M455.5 52.6h0.7M465.4 64.1h0.7M439.5 59.2h0.7M461.2 56.4h0.7M453.1 72.4h0.7M433.7 55.7h0.7M453.6 62.1h0.7M445.2 56.3h0.7M467.0 44.6h0.7M447.7 63.0h0.7M447.5 47.1h0.7M445.1 63.6h0.7M437.0 65.4h0.7M448.5 66.2h0.7M444.6 57.1h0.7M449.7 73.7h0.7M460.2 61.1h0.7M440.2 73.4h0.7M455.0 71.5h0.7M442.9 52.7h0.7M449.8 55.3h0.7M463.9 71.2h0.7M466.6 73.2h0.7M440.0 52.7h0.7M461.3 72.9h0.7M447.9 49.6h0.7M424.5 64.9h0.7M434.8 54.7h0.7M453.5 73.3h0.7M466.1 61.5h0.7M442.0 68.9h0.7M430.2 48.8h0.7M447.3 78.8h0.7M462.0 61.9h0.7M461.9 57.6h0.7M429.6 44.0h0.7M451.0 71.7h0.7M452.5 61.6h0.7M441.1 73.7h0.7M446.3 46.5h0.7M467.2 55.0h0.7M452.8 62.0h0.7M462.5 64.7h0.7M465.1 64.3h0.7M440.2 56.5h0.7M456.6 53.1h0.7M460.7 59.4h0.7M433.3 52.6h0.7M458.4 62.2h0.7M442.9 62.0h0.7M440.8 76.4h0.7M449.6 57.1h0.7M449.7 51.2h0.7M431.5 60.3h0.7M476.3 50.0h0.7M444.9 45.0h0.7M449.5 64.3h0.7M457.9 47.6h0.7M438.1 55.0h0.7M444.1 61.6h0.7M439.5 70.6h0.7M484.8 74.5h0.7M469.6 50.4h0.7M462.6 62.3h0.7M465.4 73.4h0.7M456.7 43.9h0.7M449.0 56.6h0.7M453.6 62.4h0.7M462.5 44.7h0.7M436.1 61.2h0.7M451.7 57.6h0.7M446.6 62.6h0.7M462.4 60.8h0.7M450.6 42.4h0.7M452.3 37.1h0.7M453.0 61.0h0.7M447.0 54.1h0.7M440.8 71.0h0.7M452.3 61.7h0.7M439.8 64.3h0.7M464.6 61.8h0.7M441.6 49.3h0.7M448.5 52.1h0.7M425.8 71.4h0.7M437.8 40.0h0.7M445.4 47.7h0.7M430.7 69.8h0.7M453.0 64.3h0.7M444.1 67.2h0.7M469.7 67.3h0.7M444.6 46.9h0.7M453.6 78.9h0.7M456.6 48.4h0.7M449.7 76.0h0.7M437.6 67.3h0.7M464.9 79.7h0.7M423.5 43.1h0.7M452.5 69.6h0.7M441.8 61.8h0.7M441.0 75.0h0.7M428.1 54.7h0.7M424.4 52.2h0.7M446.6 62.3h0.7M473.4 59.6h0.7M452.1 65.8h0.7M450.8 77.9h0.7M449.0 63.6h0.7M445.3 62.0h0.7M446.2 72.8h0.7M447.3 62.7h0.7M446.3 70.2h0.7M440.0 72.2h0.7M438.5 69.5h0.7M475.4 64.5h0.7M445.7 49.2h0.7M457.9 62.1h0.7M460.5 54.9h0.7M452.9 58.5h0.7M427.7 61.9h0.7M456.7 68.5h0.7M430.5 50.9h0.7M432.6 50.9h0.7M442.9 64.9h0.7M475.5 64.1h0.7M468.5 44.1h0.7M469.8 70.7h0.7M453.5 70.9h0.7M458.9 43.1h0.7M421.1 79.5h0.7M445.8 76.3h0.7M441.9 54.9h0.7M441.9 65.4h0.7M449.8 55.3h0.7M454.9 68.7h0.7M433.4 49.9h0.7M447.2 54.5h0.7M438.1 60.6h0.7M447.4 68.2h0.7M459.3 66.8h0.7M463.6 51.5h0.7M456.0 66.1h0.7M431.5 54.6h0.7M453.6 62.8h0.7M428.4 56.0h0.7M469.6 71.2h0.7M448.2 76.6h0.7M433.6 60.1h0.7M461.2 58.3h0.7M430.4 68.4h0.7M470.7 34.4h0.7M449.3 48.4h0.7M442.6 46.7h0.7M485.5 54.6h0.7M447.7 54.3h0.7M432.3 57.1h0.7M451.3 79.0h0.7M431.2 62.8h0.7M440.5 45.0h0.7M450.6 53.8h0.7M438.5 50.8h0.7M462.2 57.6h0.7M444.9 64.0h0.7M428.8 64.5h0.7M444.5 66.8h0.7M441.3 62.4h0.7M454.7 72.5h0.7M436.8 72.6h0.7M432.4 59.9h0.7M448.9 63.6h0.7M444.3 72.0h0.7M436.6 78.4h0.7M420.3 62.8h0.7M455.0 62.2h0.7M450.9 72.2h0.7M435.1 68.4h0.7M462.8 59.5h0.7M434.3 50.5h0.7M453.4 53.3h0.7M483.8 68.2h0.7M427.6 58.9h0.7M469.7 69.4h0.7M431.9 73.3h0.7M438.8 68.5h0.7M455.4 57.2h0.7M444.7 74.6h0.7M454.4 61.3h0.7M460.8 67.2h0.7M451.9 45.0h0.7M449.0 56.7h0.7M457.9 55.4h0.7M453.7 50.6h0.7M460.3 54.1h0.7M446.6 68.3h0.7M442.2 62.1h0.7M420.2 52.2h0.7M457.0 72.2h0.7M440.0 63.0h0.7M444.0 49.1h0.7M424.0 48.1h0.7M466.3 57.8h0.7M475.9 68.9h0.7M452.7 69.0h0.7M458.7 72.0h0.7M432.5 55.9h0.7M438.9 63.1h0.7M443.3 48.6h0.7M478.5 52.7h0.7M452.6 61.6h0.7M434.5 69.7h0.7M446.0 80.1h0.7M453.8 58.6h0.7M459.6 54.3h0.7M460.1 69.4h0.7M420.8 59.9h0.7M451.8 70.2h0.7M449.3 61.8h0.7M441.9 58.8h0.7M447.1 50.5h0.7M456.5 58.5h0.7M454.7 56.5h0.7M453.1 63.4h0.7M460.2 67.0h0.7M460.8 60.2h0.7M446.2 59.2h0.7M428.4 60.6h0.7M463.1 70.4h0.7M434.4 65.3h0.7M458.1 47.2h0.7M452.2 65.6h0.7M458.1 64.8h0.7M421.2 40.1h0.7M476.4 57.7h0.7M465.9 75.7h0.7M448.3 49.6h0.7M467.3 61.6h0.7M454.7 67.2h0.7M461.1 73.0h0.7M425.9 46.7h0.7M449.1 62.1h0.7M458.5 60.5h0.7M467.4 74.6h0.7M462.4 53.5h0.7M445.7 61.2h0.7M430.8 52.6h0.7M449.4 48.8h0.7M455.0 67.1h0.7M443.5 58.3h0.7M455.9 67.2h0.7M452.4 48.7h0.7M437.3 58.0h0.7M436.1 70.6h0.7M440.9 56.7h0.7M435.5 57.2h0.7M423.6 64.9h0.7M464.7 63.7h0.7M439.1 75.7h0.7M454.2 50.9h0.7M438.5 55.4h0.7M446.3 75.1h0.7M436.6 60.4h0.7M448.7 49.1h0.7M439.9 68.6h0.7M463.8 41.7h0.7M457.5 58.9h0.7M466.1 68.7h0.7M476.2 65.4h0.7M441.1 53.0h0.7M425.8 68.0h0.7M454.6 70.9h0.7M452.2 45.8h0.7M441.0 59.4h0.7M449.4 70.3h0.7M468.0 65.1h0.7M429.2 64.6h0.7M443.7 74.1h0.7M463.0 57.1h0.7M461.0 62.1h0.7M453.8 76.6h0.7M435.0 54.1h0.7M474.8 45.3h0.7M455.2 56.7h0.7M445.8 38.3h0.7M441.8 42.5h0.7M468.0 58.2h0.7M462.4 39.8h0.7M459.4 56.8h0.7M467.5 45.8h0.7M464.0 72.5h0.7M478.7 43.1h0.7M435.4 36.3h0.7M466.3 62.6h0.7M457.1 44.0h0.7M470.6 75.5h0.7M451.5 53.5h0.7M469.6 61.5h0.7M471.9 49.9h0.7M457.0 50.7h0.7M443.6 51.2h0.7M447.8 61.4h0.7M447.5 55.9h0.7M440.0 39.4h0.7M473.2 42.5h0.7M478.9 67.0h0.7M445.8 55.3h0.7M449.4 47.3h0.7M470.6 53.4h0.7M466.3 46.3h0.7M441.8 72.0h0.7M447.8 41.0h0.7M449.5 68.4h0.7M449.6 45.9h0.7M461.4 67.5h0.7M449.0 51.0h0.7M449.2 77.2h0.7M449.8 60.2h0.7M421.8 57.3h0.7M452.8 51.0h0.7M446.0 37.7h0.7M430.0 57.1h0.7M442.6 53.9h0.7M449.4 48.6h0.7M441.2 78.6h0.7M435.7 48.5h0.7M447.7 40.3h0.7M437.8 66.0h0.7M465.8 56.7h0.7M470.3 44.6h0.7M468.1 76.4h0.7M446.4 78.0h0.7M440.1 40.6h0.7M451.4 44.8h0.7M461.5 41.0h0.7M453.3 30.1h0.7M451.6 68.4h0.7M448.1 59.0h0.7M468.2 41.1h0.7M433.2 56.0h0.7M456.2 51.6h0.7M437.7 70.4h0.7M434.8 51.7h0.7M451.4 64.2h0.7M445.4 44.6h0.7M481.9 44.3h0.7M463.9 53.1h0.7M445.0 54.4h0.7M448.3 59.0h0.7M453.1 42.7h0.7M479.4 63.2h0.7M455.5 51.1h0.7M472.6 49.3h0.7M439.9 63.8h0.7M437.7 45.0h0.7M473.5 34.6h0.7M451.1 56.5h0.7M455.9 36.5h0.7M448.7 50.8h0.7M480.5 67.8h0.7M440.9 66.1h0.7M461.7 53.6h0.7M448.5 51.5h0.7M429.2 47.0h0.7M465.9 73.3h0.7M479.5 50.2h0.7M461.2 24.5h0.7M448.1 39.0h0.7M464.2 34.0h0.7M436.6 41.0h0.7M457.9 65.6h0.7M438.5 77.9h0.7M454.4 44.4h0.7M457.2 54.8h0.7M464.4 59.4h0.7M484.5 69.8h0.7M442.6 65.0h0.7M463.3 42.3h0.7M441.0 44.8h0.7M448.9 70.6h0.7M443.8 56.0h0.7M462.8 67.3h0.7M456.8 41.8h0.7M484.7 66.0h0.7M472.2 75.5h0.7M472.9 60.3h0.7M459.1 63.0h0.7M429.8 65.3h0.7M437.7 60.4h0.7M437.1 64.1h0.7M454.9 61.5h0.7M438.7 51.4h0.7M451.2 51.4h0.7M445.6 43.9h0.7M463.4 50.2h0.7M440.0 59.6h0.7M440.1 52.8h0.7M444.5 43.3h0.7M448.8 44.6h0.7M433.6 59.5h0.7M447.7 36.5h0.7M446.3 57.4h0.7M458.4 59.7h0.7M455.9 62.6h0.7M444.8 44.9h0.7M461.2 49.8h0.7M452.3 63.3h0.7M466.0 70.5h0.7M441.9 50.3h0.7M460.3 36.9h0.7M433.5 62.7h0.7M443.0 43.3h0.7M464.0 61.7h0.7M465.7 50.8h0.7M447.9 50.7h0.7M456.5 29.3h0.7M441.9 64.0h0.7M440.6 54.2h0.7M454.0 61.6h0.7M445.1 40.7h0.7M489.0 46.0h0.7M477.4 32.8h0.7M453.8 52.5h0.7M480.1 80.8h0.7M466.6 42.2h0.7M440.3 45.5h0.7M444.5 58.3h0.7M440.5 51.9h0.7M473.9 73.2h0.7M424.7 43.0h0.7M446.6 71.4h0.7M447.3 79.2h0.7M457.5 73.2h0.7M439.5 51.1h0.7M467.2 62.2h0.7M424.6 51.5h0.7M454.8 63.0h0.7M442.8 77.0h0.7M454.4 73.3h0.7M458.1 56.1h0.7M447.4 40.3h0.7M464.9 64.6h0.7M465.9 50.3h0.7M437.3 50.2h0.7M447.5 54.9h0.7M466.6 43.5h0.7M445.0 63.7h0.7M459.9 44.3h0.7M436.8 45.0h0.7M453.2 58.2h0.7M451.2 47.3h0.7M449.4 54.0h0.7M460.9 56.1h0.7" stroke="#000" stroke-width="0.7" stroke-opacity="0.28" fill="none"/>
</g>
</g>
<rect x="419.50" y="11.60" width="70.50" height="70.40" fill="none" stroke="#c4c4c4" stroke-width="0.8" />
<text x="335.0" y="43.7" font-size="10" font-weight="bold" text-anchor="start" transform="rotate(-90 335.0 43.7)" >NKp80</text>
<path d="M330.9 49.1 L330.9 90.8 Q330.9 92 332.09999999999997 92 L389.5 92" fill="none" stroke="#3a3a3a" stroke-width="1.1"/>
<path d="M330.9 47.6 L329.4 50.4 L332.4 50.4Z" fill="#3a3a3a"/>
<path d="M391 92 L388.2 90.5 L388.2 93.5Z" fill="#3a3a3a"/>
<text x="394" y="96.3" font-size="10.2" font-weight="bold" text-anchor="start" >IFN<tspan font-weight="normal" font-size="9" stroke="none">γ</tspan></text>
<line x1="420.2" y1="92.5" x2="451.7" y2="92.5" stroke="#3a3a3a" stroke-width="1.1" />
<path d="M453.2 92.5 L450.4 91.0 L450.4 94.0Z" fill="#3a3a3a"/>
<text x="455.5" y="96.3" font-size="10.2" font-weight="bold" text-anchor="start" >CD107a</text>
<line x1="42.9" y1="133.05" x2="42.9" y2="218.55" stroke="#000" stroke-width="1.5" />
<line x1="42.15" y1="217.8" x2="130" y2="217.8" stroke="#000" stroke-width="1.5" />
<line x1="38.5" y1="217.8" x2="42.9" y2="217.8" stroke="#000" stroke-width="1.5" />
<text transform="translate(38.50 220.80) scale(0.9 1)" x="0" y="0" font-size="8.4" font-weight="bold" text-anchor="end">0</text>
<line x1="38.5" y1="196.8" x2="42.9" y2="196.8" stroke="#000" stroke-width="1.5" />
<text transform="translate(38.50 199.80) scale(0.9 1)" x="0" y="0" font-size="8.4" font-weight="bold" text-anchor="end">200</text>
<line x1="38.5" y1="175.8" x2="42.9" y2="175.8" stroke="#000" stroke-width="1.5" />
<text transform="translate(38.50 178.80) scale(0.9 1)" x="0" y="0" font-size="8.4" font-weight="bold" text-anchor="end">400</text>
<line x1="38.5" y1="154.8" x2="42.9" y2="154.8" stroke="#000" stroke-width="1.5" />
<text transform="translate(38.50 157.80) scale(0.9 1)" x="0" y="0" font-size="8.4" font-weight="bold" text-anchor="end">600</text>
<line x1="38.5" y1="133.8" x2="42.9" y2="133.8" stroke="#000" stroke-width="1.5" />
<text transform="translate(38.50 136.80) scale(0.9 1)" x="0" y="0" font-size="8.4" font-weight="bold" text-anchor="end">800</text>
<line x1="66.7" y1="217.8" x2="66.7" y2="222.70000000000002" stroke="#000" stroke-width="1.5" />
<line x1="114.2" y1="217.8" x2="114.2" y2="222.70000000000002" stroke="#000" stroke-width="1.5" />
<line x1="66.7" y1="176.85000000000002" x2="114.2" y2="162.15" stroke="#000" stroke-width="1.3" />
<line x1="66.7" y1="191.55" x2="114.2" y2="168.45000000000002" stroke="#000" stroke-width="1.3" />
<line x1="66.7" y1="195.22500000000002" x2="114.2" y2="145.35000000000002" stroke="#000" stroke-width="1.3" />
<line x1="66.7" y1="204.675" x2="114.2" y2="184.20000000000002" stroke="#000" stroke-width="1.3" />
<line x1="66.7" y1="211.29000000000002" x2="114.2" y2="173.70000000000002" stroke="#000" stroke-width="1.3" />
<line x1="66.7" y1="212.025" x2="114.2" y2="179.47500000000002" stroke="#000" stroke-width="1.3" />
<line x1="66.7" y1="212.76000000000002" x2="114.2" y2="197.32500000000002" stroke="#000" stroke-width="1.3" />
<line x1="66.7" y1="217.8" x2="114.2" y2="191.55" stroke="#000" stroke-width="1.3" />
<rect x="64.60" y="174.75" width="4.20" height="4.20" fill="#000" stroke="none" stroke-width="1" />
<path d="M114.2 159.39 L111.90 163.99 L116.50 163.99Z" fill="#000"/>
<rect x="64.60" y="189.45" width="4.20" height="4.20" fill="#000" stroke="none" stroke-width="1" />
<path d="M114.2 165.69 L111.90 170.29 L116.50 170.29Z" fill="#000"/>
<rect x="64.60" y="193.13" width="4.20" height="4.20" fill="#000" stroke="none" stroke-width="1" />
<path d="M114.2 142.59 L111.90 147.19 L116.50 147.19Z" fill="#000"/>
<rect x="64.60" y="202.58" width="4.20" height="4.20" fill="#000" stroke="none" stroke-width="1" />
<path d="M114.2 181.44 L111.90 186.04 L116.50 186.04Z" fill="#000"/>
<rect x="64.60" y="209.19" width="4.20" height="4.20" fill="#000" stroke="none" stroke-width="1" />
<path d="M114.2 170.94 L111.90 175.54 L116.50 175.54Z" fill="#000"/>
<rect x="64.60" y="209.93" width="4.20" height="4.20" fill="#000" stroke="none" stroke-width="1" />
<path d="M114.2 176.72 L111.90 181.32 L116.50 181.32Z" fill="#000"/>
<rect x="64.60" y="210.66" width="4.20" height="4.20" fill="#000" stroke="none" stroke-width="1" />
<path d="M114.2 194.57 L111.90 199.17 L116.50 199.17Z" fill="#000"/>
<rect x="64.60" y="215.70" width="4.20" height="4.20" fill="#000" stroke="none" stroke-width="1" />
<path d="M114.2 188.79 L111.90 193.39 L116.50 193.39Z" fill="#000"/>
<path d="M66.7 220.0 L64.3 215.8 L69.10000000000001 215.8Z" fill="#000"/>
<text x="19.5" y="176" font-size="9.2" font-weight="bold" text-anchor="middle" transform="rotate(-90 19.5 176)" >MFI perforin</text>
<text x="66.7" y="229.1" font-size="8.3" font-weight="bold" text-anchor="middle" >NKp80<tspan dy="-3.0" font-size="6">-</tspan><tspan dy="3.0" font-size="1">&#8203;</tspan></text>
<text x="114.2" y="229.1" font-size="8.3" font-weight="bold" text-anchor="middle" >NKp80<tspan dy="-3.0" font-size="6">+</tspan><tspan dy="3.0" font-size="1">&#8203;</tspan></text>
<text x="89.4" y="245.3" font-size="8.8" font-weight="bold" text-anchor="middle" >CD8<tspan dy="-3.4" font-size="6.5">+</tspan><tspan dy="3.4" font-size="1">&#8203;</tspan> T cells</text>
<line x1="173.8" y1="133.45" x2="173.8" y2="217.85" stroke="#000" stroke-width="1.5" />
<line x1="173.05" y1="217.1" x2="266.2" y2="217.1" stroke="#000" stroke-width="1.5" />
<line x1="169.4" y1="217.1" x2="173.8" y2="217.1" stroke="#000" stroke-width="1.5" />
<text transform="translate(169.40 220.10) scale(0.9 1)" x="0" y="0" font-size="8.4" font-weight="bold" text-anchor="end">0</text>
<line x1="169.4" y1="189.46666666666667" x2="173.8" y2="189.46666666666667" stroke="#000" stroke-width="1.5" />
<text transform="translate(169.40 192.47) scale(0.9 1)" x="0" y="0" font-size="8.4" font-weight="bold" text-anchor="end">600</text>
<line x1="169.4" y1="161.83333333333331" x2="173.8" y2="161.83333333333331" stroke="#000" stroke-width="1.5" />
<text transform="translate(169.40 164.83) scale(0.9 1)" x="0" y="0" font-size="8.4" font-weight="bold" text-anchor="end">1200</text>
<line x1="169.4" y1="134.2" x2="173.8" y2="134.2" stroke="#000" stroke-width="1.5" />
<text transform="translate(169.40 137.20) scale(0.9 1)" x="0" y="0" font-size="8.4" font-weight="bold" text-anchor="end">1800</text>
<line x1="196.9" y1="217.1" x2="196.9" y2="222.0" stroke="#000" stroke-width="1.5" />
<line x1="243.2" y1="217.1" x2="243.2" y2="222.0" stroke="#000" stroke-width="1.5" />
<line x1="196.9" y1="167.59027777777777" x2="243.2" y2="138.48316666666665" stroke="#000" stroke-width="1.3" />
<line x1="196.9" y1="169.4325" x2="243.2" y2="140.9241111111111" stroke="#000" stroke-width="1.3" />
<line x1="196.9" y1="174.26833333333332" x2="243.2" y2="147.51005555555554" stroke="#000" stroke-width="1.3" />
<line x1="196.9" y1="175.41972222222222" x2="243.2" y2="163.7216111111111" stroke="#000" stroke-width="1.3" />
<line x1="196.9" y1="184.81505555555555" x2="243.2" y2="178.18305555555554" stroke="#000" stroke-width="1.3" />
<line x1="196.9" y1="190.20355555555554" x2="243.2" y2="179.01205555555555" stroke="#000" stroke-width="1.3" />
<line x1="196.9" y1="201.4411111111111" x2="243.2" y2="183.01888888888888" stroke="#000" stroke-width="1.3" />
<line x1="196.9" y1="201.67138888888888" x2="243.2" y2="194.9012222222222" stroke="#000" stroke-width="1.3" />
<rect x="194.80" y="165.49" width="4.20" height="4.20" fill="#000" stroke="none" stroke-width="1" />
<path d="M243.2 135.72 L240.90 140.32 L245.50 140.32Z" fill="#000"/>
<rect x="194.80" y="167.33" width="4.20" height="4.20" fill="#000" stroke="none" stroke-width="1" />
<path d="M243.2 138.16 L240.90 142.76 L245.50 142.76Z" fill="#000"/>
<rect x="194.80" y="172.17" width="4.20" height="4.20" fill="#000" stroke="none" stroke-width="1" />
<path d="M243.2 144.75 L240.90 149.35 L245.50 149.35Z" fill="#000"/>
<rect x="194.80" y="173.32" width="4.20" height="4.20" fill="#000" stroke="none" stroke-width="1" />
<path d="M243.2 160.96 L240.90 165.56 L245.50 165.56Z" fill="#000"/>
<rect x="194.80" y="182.72" width="4.20" height="4.20" fill="#000" stroke="none" stroke-width="1" />
<path d="M243.2 175.42 L240.90 180.02 L245.50 180.02Z" fill="#000"/>
<rect x="194.80" y="188.10" width="4.20" height="4.20" fill="#000" stroke="none" stroke-width="1" />
<path d="M243.2 176.25 L240.90 180.85 L245.50 180.85Z" fill="#000"/>
<rect x="194.80" y="199.34" width="4.20" height="4.20" fill="#000" stroke="none" stroke-width="1" />
<path d="M243.2 180.26 L240.90 184.86 L245.50 184.86Z" fill="#000"/>
<rect x="194.80" y="199.57" width="4.20" height="4.20" fill="#000" stroke="none" stroke-width="1" />
<path d="M243.2 192.14 L240.90 196.74 L245.50 196.74Z" fill="#000"/>
<text x="147.3" y="176" font-size="8.9" font-weight="bold" text-anchor="middle" transform="rotate(-90 147.3 176)" >MFI granzyme B</text>
<text x="196.9" y="228.4" font-size="8.3" font-weight="bold" text-anchor="middle" >NKp80<tspan dy="-3.0" font-size="6">-</tspan><tspan dy="3.0" font-size="1">&#8203;</tspan></text>
<text x="243.2" y="228.4" font-size="8.3" font-weight="bold" text-anchor="middle" >NKp80<tspan dy="-3.0" font-size="6">+</tspan><tspan dy="3.0" font-size="1">&#8203;</tspan></text>
<text x="219.2" y="245.0" font-size="8.8" font-weight="bold" text-anchor="middle" >CD8<tspan dy="-3.4" font-size="6.5">+</tspan><tspan dy="3.4" font-size="1">&#8203;</tspan> T cells</text>
<line x1="332.1" y1="122.80000000000001" x2="332.1" y2="218.65" stroke="#000" stroke-width="1.5" />
<line x1="331.35" y1="217.9" x2="394.3" y2="217.9" stroke="#000" stroke-width="1.5" />
<line x1="327.70000000000005" y1="217.9" x2="332.1" y2="217.9" stroke="#000" stroke-width="1.5" />
<text transform="translate(327.70 220.90) scale(0.9 1)" x="0" y="0" font-size="8.4" font-weight="bold" text-anchor="end">0</text>
<line x1="327.70000000000005" y1="199.03" x2="332.1" y2="199.03" stroke="#000" stroke-width="1.5" />
<text transform="translate(327.70 202.03) scale(0.9 1)" x="0" y="0" font-size="8.4" font-weight="bold" text-anchor="end">20</text>
<line x1="327.70000000000005" y1="180.16" x2="332.1" y2="180.16" stroke="#000" stroke-width="1.5" />
<text transform="translate(327.70 183.16) scale(0.9 1)" x="0" y="0" font-size="8.4" font-weight="bold" text-anchor="end">40</text>
<line x1="327.70000000000005" y1="161.29000000000002" x2="332.1" y2="161.29000000000002" stroke="#000" stroke-width="1.5" />
<text transform="translate(327.70 164.29) scale(0.9 1)" x="0" y="0" font-size="8.4" font-weight="bold" text-anchor="end">60</text>
<line x1="327.70000000000005" y1="142.42000000000002" x2="332.1" y2="142.42000000000002" stroke="#000" stroke-width="1.5" />
<text transform="translate(327.70 145.42) scale(0.9 1)" x="0" y="0" font-size="8.4" font-weight="bold" text-anchor="end">80</text>
<line x1="327.70000000000005" y1="123.55000000000001" x2="332.1" y2="123.55000000000001" stroke="#000" stroke-width="1.5" />
<text transform="translate(327.70 126.55) scale(0.9 1)" x="0" y="0" font-size="8.4" font-weight="bold" text-anchor="end">100</text>
<line x1="348.4" y1="217.9" x2="348.4" y2="222.8" stroke="#000" stroke-width="1.5" />
<line x1="381.2" y1="217.9" x2="381.2" y2="222.8" stroke="#000" stroke-width="1.5" />
<rect x="336.90" y="138.36" width="23.30" height="79.54" fill="#000" stroke="none" stroke-width="1" />
<line x1="348.8" y1="138.36295" x2="348.8" y2="137.41945" stroke="#000" stroke-width="1" />
<line x1="345" y1="137.41945" x2="352.6" y2="137.41945" stroke="#000" stroke-width="1" />
<rect x="370.20" y="185.48" width="21.80" height="32.42" fill="#a4a4a4" stroke="#000" stroke-width="1.5" />
<text x="308.3" y="170.5" font-size="9.3" font-weight="bold" text-anchor="middle" transform="rotate(-90 308.3 170.5)" >% IFN<tspan font-weight="normal" font-size="9">γ</tspan><tspan dy="-3.2" font-size="6.5">+</tspan><tspan dy="3.2" font-size="1">&#8203;</tspan> cells</text>
<text x="346.9" y="228.8" font-size="8.2" font-weight="bold" text-anchor="middle" >NKp80<tspan dy="-2.8" font-size="5.5">+</tspan><tspan dy="2.8" font-size="1">&#8203;</tspan></text>
<text x="381.6" y="228.8" font-size="8.2" font-weight="bold" text-anchor="middle" >NKp80<tspan dy="-2.8" font-size="5.5">-</tspan><tspan dy="2.8" font-size="1">&#8203;</tspan></text>
<text x="362.4" y="244.6" font-size="8.5" font-weight="bold" text-anchor="middle" >CD8<tspan dy="-3.4" font-size="6.5">+</tspan><tspan dy="3.4" font-size="1">&#8203;</tspan> T cells</text>
<line x1="440.2" y1="123.55000000000001" x2="440.2" y2="218.65" stroke="#000" stroke-width="1.5" />
<line x1="439.45" y1="217.9" x2="504.3" y2="217.9" stroke="#000" stroke-width="1.5" />
<line x1="435.8" y1="217.9" x2="440.2" y2="217.9" stroke="#000" stroke-width="1.5" />
<text transform="translate(435.30 220.90) scale(0.9 1)" x="0" y="0" font-size="8.4" font-weight="bold" text-anchor="end">0</text>
<line x1="435.8" y1="194.5" x2="440.2" y2="194.5" stroke="#000" stroke-width="1.5" />
<text transform="translate(435.30 197.50) scale(0.9 1)" x="0" y="0" font-size="8.4" font-weight="bold" text-anchor="end">10</text>
<line x1="435.8" y1="171.10000000000002" x2="440.2" y2="171.10000000000002" stroke="#000" stroke-width="1.5" />
<text transform="translate(435.30 174.10) scale(0.9 1)" x="0" y="0" font-size="8.4" font-weight="bold" text-anchor="end">20</text>
<line x1="435.8" y1="147.70000000000002" x2="440.2" y2="147.70000000000002" stroke="#000" stroke-width="1.5" />
<text transform="translate(435.30 150.70) scale(0.9 1)" x="0" y="0" font-size="8.4" font-weight="bold" text-anchor="end">30</text>
<line x1="435.8" y1="124.30000000000001" x2="440.2" y2="124.30000000000001" stroke="#000" stroke-width="1.5" />
<text transform="translate(435.30 127.30) scale(0.9 1)" x="0" y="0" font-size="8.4" font-weight="bold" text-anchor="end">40</text>
<line x1="456.9" y1="217.9" x2="456.9" y2="222.8" stroke="#000" stroke-width="1.5" />
<line x1="490.1" y1="217.9" x2="490.1" y2="222.8" stroke="#000" stroke-width="1.5" />
<rect x="445.00" y="136.00" width="23.80" height="81.90" fill="#000" stroke="none" stroke-width="1" />
<line x1="456.8" y1="136.0" x2="456.8" y2="134.36200000000002" stroke="#000" stroke-width="1" />
<line x1="453" y1="134.36200000000002" x2="460.6" y2="134.36200000000002" stroke="#000" stroke-width="1" />
<rect x="478.20" y="173.81" width="23.80" height="44.09" fill="#a4a4a4" stroke="#000" stroke-width="1.5" />
<line x1="489.7" y1="173.20600000000002" x2="489.7" y2="171.80200000000002" stroke="#000" stroke-width="1" />
<line x1="486" y1="171.80200000000002" x2="493.5" y2="171.80200000000002" stroke="#000" stroke-width="1" />
<text x="455.6" y="228.8" font-size="8.2" font-weight="bold" text-anchor="middle" >NKp80<tspan dy="-2.8" font-size="5.5">+</tspan><tspan dy="2.8" font-size="1">&#8203;</tspan></text>
<text x="490" y="228.8" font-size="8.2" font-weight="bold" text-anchor="middle" >NKp80<tspan dy="-2.8" font-size="5.5">-</tspan><tspan dy="2.8" font-size="1">&#8203;</tspan></text>
<text x="469.5" y="244.4" font-size="8.5" font-weight="bold" text-anchor="middle" >CD8<tspan dy="-3.4" font-size="6.5">+</tspan><tspan dy="3.4" font-size="1">&#8203;</tspan> T cells</text>
<line x1="96.1" y1="268.7" x2="96.1" y2="310.09999999999997" stroke="#000" stroke-width="1.5" />
<line x1="95.39999999999999" y1="309.4" x2="261.3" y2="309.4" stroke="#000" stroke-width="1.5" />
<line x1="96.1" y1="309.4" x2="96.1" y2="313.29999999999995" stroke="#000" stroke-width="1.3" />
<text transform="translate(96.10 321.40) scale(0.9 1)" x="0" y="0" font-size="8.4" font-weight="bold" text-anchor="middle">0</text>
<line x1="137.25" y1="309.4" x2="137.25" y2="313.29999999999995" stroke="#000" stroke-width="1.3" />
<text transform="translate(137.25 321.40) scale(0.9 1)" x="0" y="0" font-size="8.4" font-weight="bold" text-anchor="middle">10</text>
<line x1="178.4" y1="309.4" x2="178.4" y2="313.29999999999995" stroke="#000" stroke-width="1.3" />
<text transform="translate(178.40 321.40) scale(0.9 1)" x="0" y="0" font-size="8.4" font-weight="bold" text-anchor="middle">20</text>
<line x1="219.55" y1="309.4" x2="219.55" y2="313.29999999999995" stroke="#000" stroke-width="1.3" />
<text transform="translate(219.55 321.40) scale(0.9 1)" x="0" y="0" font-size="8.4" font-weight="bold" text-anchor="middle">30</text>
<line x1="260.70000000000005" y1="309.4" x2="260.70000000000005" y2="313.29999999999995" stroke="#000" stroke-width="1.3" />
<text transform="translate(260.70 321.40) scale(0.9 1)" x="0" y="0" font-size="8.4" font-weight="bold" text-anchor="middle">40</text>
<line x1="92.5" y1="279.5" x2="96.1" y2="279.5" stroke="#000" stroke-width="1.2" />
<text x="91.1" y="282.2" font-size="8.0" font-weight="bold" text-anchor="end" >IFN<tspan font-weight="normal" font-size="8.3">γ</tspan><tspan dx="1.2" dy="-2.8" font-size="5.5">+</tspan><tspan dy="2.8" dx="0.4" font-size="1">&#8203;</tspan>, TNF<tspan dx="1.2" dy="-2.8" font-size="5.5">-</tspan><tspan dy="2.8" dx="1.3" font-size="1">&#8203;</tspan>, IL2<tspan dx="1.2" dy="-2.8" font-size="5.5">-</tspan><tspan dy="2.8" dx="0" font-size="1">&#8203;</tspan></text>
<rect x="96.10" y="280.50" width="158.43" height="6.10" fill="#000" stroke="none" stroke-width="1" rx="2.2"/>
<rect x="96.10" y="280.50" width="6.00" height="6.10" fill="#000" stroke="none" stroke-width="1" />
<line x1="204.736" y1="276.1" x2="206.17624999999998" y2="276.1" stroke="#000" stroke-width="1.1" />
<line x1="206.17624999999998" y1="274.6" x2="206.17624999999998" y2="277.6" stroke="#000" stroke-width="1.1" />
<rect x="96.10" y="273.65" width="107.84" height="4.80" fill="#ececec" stroke="#000" stroke-width="1.7" rx="1.8"/>
<line x1="92.5" y1="299.2" x2="96.1" y2="299.2" stroke="#000" stroke-width="1.2" />
<text x="91.1" y="301.9" font-size="8.0" font-weight="bold" text-anchor="end" >IFN<tspan font-weight="normal" font-size="8.3">γ</tspan><tspan dx="1.2" dy="-2.8" font-size="5.5">+</tspan><tspan dy="2.8" dx="0.4" font-size="1">&#8203;</tspan>, TNF<tspan dx="1.2" dy="-2.8" font-size="5.5">+</tspan><tspan dy="2.8" dx="0.4" font-size="1">&#8203;</tspan>, IL2<tspan dx="1.2" dy="-2.8" font-size="5.5">-</tspan><tspan dy="2.8" dx="0" font-size="1">&#8203;</tspan></text>
<rect x="96.10" y="300.20" width="137.44" height="6.10" fill="#000" stroke="none" stroke-width="1" rx="2.2"/>
<rect x="96.10" y="300.20" width="6.00" height="6.10" fill="#000" stroke="none" stroke-width="1" />
<line x1="184.161" y1="295.8" x2="186.42425" y2="295.8" stroke="#000" stroke-width="1.1" />
<line x1="186.42425" y1="294.3" x2="186.42425" y2="297.3" stroke="#000" stroke-width="1.1" />
<line x1="233.541" y1="303.2" x2="236.01" y2="303.2" stroke="#000" stroke-width="1.1" />
<line x1="236.01" y1="301.7" x2="236.01" y2="304.7" stroke="#000" stroke-width="1.1" />
<rect x="96.10" y="293.35" width="87.26" height="4.80" fill="#ececec" stroke="#000" stroke-width="1.7" rx="1.8"/>
<line x1="96.1" y1="324.6" x2="96.1" y2="416.59999999999997" stroke="#000" stroke-width="1.5" />
<line x1="95.39999999999999" y1="415.9" x2="264.9" y2="415.9" stroke="#000" stroke-width="1.5" />
<line x1="96.1" y1="415.9" x2="96.1" y2="419.79999999999995" stroke="#000" stroke-width="1.3" />
<text transform="translate(96.10 427.90) scale(0.9 1)" x="0" y="0" font-size="8.4" font-weight="bold" text-anchor="middle">0</text>
<line x1="129.82" y1="415.9" x2="129.82" y2="419.79999999999995" stroke="#000" stroke-width="1.3" />
<text transform="translate(129.82 427.90) scale(0.9 1)" x="0" y="0" font-size="8.4" font-weight="bold" text-anchor="middle">1</text>
<line x1="163.54" y1="415.9" x2="163.54" y2="419.79999999999995" stroke="#000" stroke-width="1.3" />
<text transform="translate(163.54 427.90) scale(0.9 1)" x="0" y="0" font-size="8.4" font-weight="bold" text-anchor="middle">2</text>
<line x1="197.26" y1="415.9" x2="197.26" y2="419.79999999999995" stroke="#000" stroke-width="1.3" />
<text transform="translate(197.26 427.90) scale(0.9 1)" x="0" y="0" font-size="8.4" font-weight="bold" text-anchor="middle">3</text>
<line x1="230.98" y1="415.9" x2="230.98" y2="419.79999999999995" stroke="#000" stroke-width="1.3" />
<text transform="translate(230.98 427.90) scale(0.9 1)" x="0" y="0" font-size="8.4" font-weight="bold" text-anchor="middle">4</text>
<line x1="264.7" y1="415.9" x2="264.7" y2="419.79999999999995" stroke="#000" stroke-width="1.3" />
<text transform="translate(264.70 427.90) scale(0.9 1)" x="0" y="0" font-size="8.4" font-weight="bold" text-anchor="middle">5</text>
<line x1="92.5" y1="334.0" x2="96.1" y2="334.0" stroke="#000" stroke-width="1.2" />
<text x="91.1" y="336.7" font-size="8.0" font-weight="bold" text-anchor="end" >IFN<tspan font-weight="normal" font-size="8.3">γ</tspan><tspan dx="1.2" dy="-2.8" font-size="5.5">-</tspan><tspan dy="2.8" dx="1.3" font-size="1">&#8203;</tspan>, TNF<tspan dx="1.2" dy="-2.8" font-size="5.5">-</tspan><tspan dy="2.8" dx="1.3" font-size="1">&#8203;</tspan>, IL2<tspan dx="1.2" dy="-2.8" font-size="5.5">+</tspan><tspan dy="2.8" dx="0" font-size="1">&#8203;</tspan></text>
<ellipse cx="97.31" cy="337.9" rx="1.61" ry="3.0" fill="#000"/>
<rect x="96.10" y="328.15" width="26.85" height="4.80" fill="#ececec" stroke="#000" stroke-width="1.7" rx="1.8"/>
<line x1="92.5" y1="352.2" x2="96.1" y2="352.2" stroke="#000" stroke-width="1.2" />
<text x="91.1" y="354.9" font-size="8.0" font-weight="bold" text-anchor="end" >IFN<tspan font-weight="normal" font-size="8.3">γ</tspan><tspan dx="1.2" dy="-2.8" font-size="5.5">-</tspan><tspan dy="2.8" dx="1.3" font-size="1">&#8203;</tspan>, TNF<tspan dx="1.2" dy="-2.8" font-size="5.5">+</tspan><tspan dy="2.8" dx="0.4" font-size="1">&#8203;</tspan>, IL2<tspan dx="1.2" dy="-2.8" font-size="5.5">-</tspan><tspan dy="2.8" dx="0" font-size="1">&#8203;</tspan></text>
<rect x="96.10" y="353.20" width="129.82" height="6.10" fill="#000" stroke="none" stroke-width="1" rx="2.2"/>
<rect x="96.10" y="353.20" width="6.00" height="6.10" fill="#000" stroke="none" stroke-width="1" />
<line x1="239.0728" y1="348.8" x2="249.52599999999998" y2="348.8" stroke="#000" stroke-width="1.1" />
<line x1="249.52599999999998" y1="347.3" x2="249.52599999999998" y2="350.3" stroke="#000" stroke-width="1.1" />
<line x1="225.922" y1="356.2" x2="237.04959999999997" y2="356.2" stroke="#000" stroke-width="1.1" />
<line x1="237.04959999999997" y1="354.7" x2="237.04959999999997" y2="357.7" stroke="#000" stroke-width="1.1" />
<rect x="96.10" y="346.35" width="142.17" height="4.80" fill="#ececec" stroke="#000" stroke-width="1.7" rx="1.8"/>
<line x1="92.5" y1="370.4" x2="96.1" y2="370.4" stroke="#000" stroke-width="1.2" />
<text x="91.1" y="373.09999999999997" font-size="8.0" font-weight="bold" text-anchor="end" >IFN<tspan font-weight="normal" font-size="8.3">γ</tspan><tspan dx="1.2" dy="-2.8" font-size="5.5">-</tspan><tspan dy="2.8" dx="1.3" font-size="1">&#8203;</tspan>, TNF<tspan dx="1.2" dy="-2.8" font-size="5.5">+</tspan><tspan dy="2.8" dx="0.4" font-size="1">&#8203;</tspan>, IL2<tspan dx="1.2" dy="-2.8" font-size="5.5">+</tspan><tspan dy="2.8" dx="0" font-size="1">&#8203;</tspan></text>
<ellipse cx="98.66" cy="374.29999999999995" rx="2.96" ry="3.0" fill="#000"/>
<rect x="96.10" y="364.55" width="47.08" height="4.80" fill="#ececec" stroke="#000" stroke-width="1.7" rx="1.8"/>
<line x1="92.5" y1="388.6" x2="96.1" y2="388.6" stroke="#000" stroke-width="1.2" />
<text x="91.1" y="391.3" font-size="8.0" font-weight="bold" text-anchor="end" >IFN<tspan font-weight="normal" font-size="8.3">γ</tspan><tspan dx="1.2" dy="-2.8" font-size="5.5">+</tspan><tspan dy="2.8" dx="0.4" font-size="1">&#8203;</tspan>, TNF<tspan dx="1.2" dy="-2.8" font-size="5.5">-</tspan><tspan dy="2.8" dx="1.3" font-size="1">&#8203;</tspan>, IL2<tspan dx="1.2" dy="-2.8" font-size="5.5">+</tspan><tspan dy="2.8" dx="0" font-size="1">&#8203;</tspan></text>
<rect x="96.10" y="389.60" width="24.95" height="6.10" fill="#000" stroke="none" stroke-width="1" rx="2.2"/>
<rect x="96.10" y="389.60" width="6.00" height="6.10" fill="#000" stroke="none" stroke-width="1" />
<rect x="96.10" y="382.75" width="28.54" height="4.80" fill="#ececec" stroke="#000" stroke-width="1.7" rx="1.8"/>
<line x1="92.5" y1="406.8" x2="96.1" y2="406.8" stroke="#000" stroke-width="1.2" />
<text x="91.1" y="409.5" font-size="8.0" font-weight="bold" text-anchor="end" >IFN<tspan font-weight="normal" font-size="8.3">γ</tspan><tspan dx="1.2" dy="-2.8" font-size="5.5">+</tspan><tspan dy="2.8" dx="0.4" font-size="1">&#8203;</tspan>, TNF<tspan dx="1.2" dy="-2.8" font-size="5.5">+</tspan><tspan dy="2.8" dx="0.4" font-size="1">&#8203;</tspan>, IL2<tspan dx="1.2" dy="-2.8" font-size="5.5">+</tspan><tspan dy="2.8" dx="0" font-size="1">&#8203;</tspan></text>
<rect x="96.10" y="407.80" width="107.23" height="6.10" fill="#000" stroke="none" stroke-width="1" rx="2.2"/>
<rect x="96.10" y="407.80" width="6.00" height="6.10" fill="#000" stroke="none" stroke-width="1" />
<line x1="174.6676" y1="403.40000000000003" x2="176.01639999999998" y2="403.40000000000003" stroke="#000" stroke-width="1.1" />
<line x1="176.01639999999998" y1="401.90000000000003" x2="176.01639999999998" y2="404.90000000000003" stroke="#000" stroke-width="1.1" />
<line x1="203.3296" y1="410.8" x2="205.69" y2="410.8" stroke="#000" stroke-width="1.1" />
<line x1="205.69" y1="409.3" x2="205.69" y2="412.3" stroke="#000" stroke-width="1.1" />
<rect x="96.10" y="400.95" width="77.77" height="4.80" fill="#ececec" stroke="#000" stroke-width="1.7" rx="1.8"/>
<text x="179.6" y="440.6" font-size="9" font-weight="bold" text-anchor="middle" >% cytokine expressing cells</text>
<rect x="215.40" y="393.60" width="17.30" height="6.60" fill="#000" stroke="none" stroke-width="1" />
<rect x="216.10" y="404.70" width="15.90" height="5.60" fill="#e4e4e4" stroke="#000" stroke-width="1.4" />
<text x="234.4" y="400.3" font-size="9" font-weight="normal" text-anchor="start" stroke="none">NKp80+</text>
<text x="234.4" y="411" font-size="9" font-weight="normal" text-anchor="start" stroke="none">NKp80-</text>
<clipPath id="cF1"><rect x="341" y="291.4" width="74.39999999999998" height="68.60000000000002"/></clipPath>
<g clip-path="url(#cF1)">
<rect x="373.30" y="321.50" width="32.20" height="38.30" fill="#c4c4c4" stroke="none" stroke-width="1" />
<rect x="373.40" y="301.60" width="32.00" height="19.80" fill="#000" stroke="none" stroke-width="1" fill-opacity="0.22"/>
<ellipse cx="387.6" cy="308" rx="9" ry="6.5" fill="#000" fill-opacity="0.6" transform="rotate(0 387.6 308)" filter="url(#b2_0)"/>
<ellipse cx="387.6" cy="307.8" rx="5.5" ry="4.5" fill="#000" fill-opacity="0.9" transform="rotate(0 387.6 307.8)" filter="url(#b1_5)"/>
<path d="M393.9 312.8h0.9M404.5 313.9h0.9M389.7 299.9h0.9M388.7 318.1h0.9M374.6 317.6h0.9M388.3 304.3h0.9M386.1 301.2h0.9M380.2 314.8h0.9M378.8 314.5h0.9M392.8 315.0h0.9M403.2 306.0h0.9M394.8 308.2h0.9M401.5 317.4h0.9M397.4 312.6h0.9M381.5 319.2h0.9M403.8 320.1h0.9M384.0 317.4h0.9M394.7 317.7h0.9M398.6 309.4h0.9M385.7 316.8h0.9M393.9 311.3h0.9M387.9 301.7h0.9M376.1 318.7h0.9M380.4 302.5h0.9M394.6 308.5h0.9M392.1 311.5h0.9M403.2 310.6h0.9M390.3 309.6h0.9M386.3 314.5h0.9M376.8 314.6h0.9M402.6 316.0h0.9M390.4 307.2h0.9M376.4 301.6h0.9M401.0 318.3h0.9M379.1 315.8h0.9M398.7 310.0h0.9M400.3 303.6h0.9M383.9 310.7h0.9M396.2 309.3h0.9M382.8 318.3h0.9M385.6 308.7h0.9M380.3 310.0h0.9M395.5 307.4h0.9M394.2 310.3h0.9M373.7 320.4h0.9M382.4 311.4h0.9M403.5 304.1h0.9M375.3 304.0h0.9M378.1 318.0h0.9M389.4 303.4h0.9M383.0 319.1h0.9M387.3 304.6h0.9M392.1 302.0h0.9M393.7 301.5h0.9M383.0 315.7h0.9M392.7 319.2h0.9M392.4 303.6h0.9M379.1 314.8h0.9M382.2 309.7h0.9M400.8 311.7h0.9M396.7 316.1h0.9M382.0 313.0h0.9M385.1 309.8h0.9M390.0 314.0h0.9M378.6 317.7h0.9M378.4 306.4h0.9M400.1 320.9h0.9M384.9 320.2h0.9M374.5 320.2h0.9M379.6 300.4h0.9M378.4 315.8h0.9M373.5 302.3h0.9M376.0 309.8h0.9M384.2 315.6h0.9M388.8 320.4h0.9M399.9 303.3h0.9M402.2 318.9h0.9M391.1 311.0h0.9M378.7 306.5h0.9M380.2 303.8h0.9M392.6 306.6h0.9M397.5 312.0h0.9M399.4 301.5h0.9M389.3 313.3h0.9M380.8 314.6h0.9M386.1 315.2h0.9M391.7 302.6h0.9M390.5 315.0h0.9M383.7 309.9h0.9M388.3 315.8h0.9M375.6 310.6h0.9M381.5 312.3h0.9M381.5 304.1h0.9M380.6 318.9h0.9M384.8 318.6h0.9M396.5 305.4h0.9M390.8 299.8h0.9M393.2 302.0h0.9M388.9 314.1h0.9M382.4 319.3h0.9M392.9 301.2h0.9M401.2 306.2h0.9M395.7 318.2h0.9M401.1 301.1h0.9M381.1 316.9h0.9M394.9 309.7h0.9M401.7 317.0h0.9M404.6 320.3h0.9M391.4 315.5h0.9M394.4 308.2h0.9M389.0 310.6h0.9M380.1 305.2h0.9M399.9 317.9h0.9M395.3 314.5h0.9M389.4 312.0h0.9M403.8 304.0h0.9M399.3 300.3h0.9M398.4 318.4h0.9M381.4 319.7h0.9M385.0 309.3h0.9M403.2 311.4h0.9M381.6 301.9h0.9M381.2 320.3h0.9M394.7 303.7h0.9M395.7 306.5h0.9M389.9 301.2h0.9M398.1 312.1h0.9M395.1 306.9h0.9M377.3 306.6h0.9M396.6 311.8h0.9M377.5 304.8h0.9M387.5 302.5h0.9M377.4 315.8h0.9M398.3 306.4h0.9M390.4 321.0h0.9M392.7 308.0h0.9M404.0 305.2h0.9M403.4 306.3h0.9M386.6 306.4h0.9M393.8 318.7h0.9M395.0 303.5h0.9M404.5 315.2h0.9M389.2 318.0h0.9M376.7 312.5h0.9M398.1 316.4h0.9M394.5 301.0h0.9M381.8 312.7h0.9M385.8 309.4h0.9M390.2 312.3h0.9M401.3 305.7h0.9M382.0 303.6h0.9M376.8 317.9h0.9M402.3 302.3h0.9M401.8 318.3h0.9M404.1 321.0h0.9M388.2 314.3h0.9M378.2 302.3h0.9M398.5 318.6h0.9M374.6 317.0h0.9M399.9 313.7h0.9M382.7 317.3h0.9M375.9 300.6h0.9M380.3 319.4h0.9M393.7 302.8h0.9M394.5 304.6h0.9M388.3 304.2h0.9M400.7 313.2h0.9M395.1 313.0h0.9M375.2 318.7h0.9M397.8 310.7h0.9M391.9 310.2h0.9M397.1 311.1h0.9M382.0 310.8h0.9M400.7 315.1h0.9M379.9 310.6h0.9M391.7 312.1h0.9M387.8 310.6h0.9M395.0 318.6h0.9M389.5 316.5h0.9M394.7 302.2h0.9M383.2 307.2h0.9M388.8 306.0h0.9M404.7 315.5h0.9M385.0 314.7h0.9M402.4 303.0h0.9M393.1 320.3h0.9M385.1 318.6h0.9M398.6 306.5h0.9M377.8 317.0h0.9M386.4 307.2h0.9M387.9 315.3h0.9M401.5 319.4h0.9M397.4 303.4h0.9M384.0 303.4h0.9M388.3 302.4h0.9M386.2 304.9h0.9M394.9 306.7h0.9M374.1 317.7h0.9M397.1 318.6h0.9M382.6 305.3h0.9M395.2 302.8h0.9M393.9 311.4h0.9M374.9 305.7h0.9M386.6 320.8h0.9M377.9 312.4h0.9M375.8 320.6h0.9M396.8 317.1h0.9M396.9 303.5h0.9M375.9 303.7h0.9M378.8 319.5h0.9M398.2 305.8h0.9M403.9 303.0h0.9M377.7 307.8h0.9M398.7 301.7h0.9M390.4 316.8h0.9M396.1 310.6h0.9M397.4 303.9h0.9M382.1 304.2h0.9M400.1 314.8h0.9M378.2 315.3h0.9M374.5 309.7h0.9M381.4 316.1h0.9M395.9 314.4h0.9M379.5 300.5h0.9M395.2 299.8h0.9M401.6 307.4h0.9M389.6 313.7h0.9M402.5 313.6h0.9M389.5 316.2h0.9M386.3 306.8h0.9M385.7 304.4h0.9M383.1 315.7h0.9M401.2 309.5h0.9M399.9 302.3h0.9M396.8 316.5h0.9M385.5 303.2h0.9M403.6 312.8h0.9M393.9 307.1h0.9M376.9 311.9h0.9M386.0 318.8h0.9M394.2 315.9h0.9M391.2 315.9h0.9M377.5 321.1h0.9M391.6 312.5h0.9M379.3 301.6h0.9M396.2 314.0h0.9M381.3 310.1h0.9M397.5 313.4h0.9M402.0 301.5h0.9M373.7 313.1h0.9M390.1 301.2h0.9M394.3 318.3h0.9M375.7 310.6h0.9M398.4 302.1h0.9M402.9 307.0h0.9M379.9 302.7h0.9M386.5 314.9h0.9M402.8 311.7h0.9M403.3 308.8h0.9M374.0 302.5h0.9M376.9 306.1h0.9M389.9 310.9h0.9M374.3 302.0h0.9M386.1 301.6h0.9M385.0 321.2h0.9M374.8 303.5h0.9M375.7 311.5h0.9M403.6 316.4h0.9M376.8 311.3h0.9M384.6 320.7h0.9M395.6 312.6h0.9M381.4 309.0h0.9M389.9 307.8h0.9M391.1 301.5h0.9M404.4 308.2h0.9M389.2 315.9h0.9M398.9 315.5h0.9M385.3 315.0h0.9M379.6 312.9h0.9M373.8 303.8h0.9M378.8 307.2h0.9M396.6 300.0h0.9M376.2 320.1h0.9M403.2 312.9h0.9M399.8 319.9h0.9M387.4 318.1h0.9M374.4 316.5h0.9M393.7 316.4h0.9M378.0 301.4h0.9M392.4 314.4h0.9M378.9 311.9h0.9M403.8 305.1h0.9M399.1 320.4h0.9M394.5 309.1h0.9M386.5 309.7h0.9M378.8 319.0h0.9M384.7 318.5h0.9M391.0 319.0h0.9M401.5 315.0h0.9M387.4 304.9h0.9M391.1 306.3h0.9M399.4 300.5h0.9M384.0 308.7h0.9M390.4 320.8h0.9M404.6 307.3h0.9M403.5 320.2h0.9M389.9 311.8h0.9M379.5 316.6h0.9M388.6 316.1h0.9M402.3 313.1h0.9M395.2 311.5h0.9M377.4 309.5h0.9M375.3 303.5h0.9M404.2 307.8h0.9M377.6 309.0h0.9M375.2 312.7h0.9M380.5 304.3h0.9M393.4 319.6h0.9M373.7 315.0h0.9M391.6 310.1h0.9M389.8 306.8h0.9M404.6 306.9h0.9M399.9 317.1h0.9M398.3 310.2h0.9M389.0 317.8h0.9M377.0 304.5h0.9M373.7 310.2h0.9M387.6 320.2h0.9M402.6 308.4h0.9M388.9 301.9h0.9M389.7 303.2h0.9M388.3 321.1h0.9M377.7 305.4h0.9M398.2 306.9h0.9M383.1 317.9h0.9M376.5 314.2h0.9M401.2 320.6h0.9M380.2 302.2h0.9M396.5 312.0h0.9M377.4 305.8h0.9M375.4 319.6h0.9M397.1 309.8h0.9M403.6 320.7h0.9M379.8 305.1h0.9M379.3 313.2h0.9M392.0 310.8h0.9M397.7 311.0h0.9M383.2 314.0h0.9M377.7 315.7h0.9M386.9 317.7h0.9M394.4 320.3h0.9M391.6 312.5h0.9M404.0 316.9h0.9M383.9 301.8h0.9M375.3 319.5h0.9M402.7 313.9h0.9M403.2 312.7h0.9M396.8 312.5h0.9M380.3 301.3h0.9M387.5 302.3h0.9M381.6 305.3h0.9M400.9 313.0h0.9M396.9 317.2h0.9M387.1 309.3h0.9M386.9 307.3h0.9M397.8 318.7h0.9M382.7 315.0h0.9M397.8 306.7h0.9M404.6 315.1h0.9M383.4 316.0h0.9M399.9 302.6h0.9M387.0 305.5h0.9M385.2 311.0h0.9M389.9 306.0h0.9M375.2 313.2h0.9M395.9 314.6h0.9M385.8 318.1h0.9M390.8 310.9h0.9M380.5 311.0h0.9M373.4 300.4h0.9M401.2 301.1h0.9M389.3 311.2h0.9M399.8 313.5h0.9M402.9 314.3h0.9M402.1 302.1h0.9M383.4 319.5h0.9M398.2 320.5h0.9M397.1 308.0h0.9M389.8 316.5h0.9M375.1 311.2h0.9M391.2 315.1h0.9M384.1 312.7h0.9M396.5 307.8h0.9M394.8 319.1h0.9M384.9 311.0h0.9M388.5 317.7h0.9M381.8 305.8h0.9M385.7 313.7h0.9M378.2 320.7h0.9M389.1 315.4h0.9M391.3 301.6h0.9M391.8 309.5h0.9M374.2 304.9h0.9M383.9 313.6h0.9M378.8 310.1h0.9M381.8 311.8h0.9M395.0 310.8h0.9M396.9 313.1h0.9M375.9 313.8h0.9M388.5 316.0h0.9M402.8 307.2h0.9M400.1 304.6h0.9M393.8 299.7h0.9M387.4 309.4h0.9M389.0 307.6h0.9M380.5 314.6h0.9M402.6 305.7h0.9M382.5 312.1h0.9M385.0 320.1h0.9M404.3 302.4h0.9M378.7 309.2h0.9M382.2 314.2h0.9M376.8 306.3h0.9M377.5 308.9h0.9M384.8 315.3h0.9M403.8 320.7h0.9M386.5 313.5h0.9M377.5 312.8h0.9M401.1 318.7h0.9M377.7 303.2h0.9M401.7 314.7h0.9M397.3 301.1h0.9M374.0 315.5h0.9M398.3 306.6h0.9M373.4 315.4h0.9M404.7 313.0h0.9M384.8 306.7h0.9M398.9 320.5h0.9M384.8 304.4h0.9M404.7 308.8h0.9M387.2 306.3h0.9M396.1 320.8h0.9M388.1 318.1h0.9M385.9 308.7h0.9M398.6 320.6h0.9M397.1 314.8h0.9M399.4 319.5h0.9M403.3 311.1h0.9M384.5 299.6h0.9M383.0 319.7h0.9M373.8 307.4h0.9M398.0 314.1h0.9M394.5 310.1h0.9M376.2 317.6h0.9M397.3 309.9h0.9M391.0 317.0h0.9M388.9 309.9h0.9M388.6 315.5h0.9M396.5 306.8h0.9M397.8 307.7h0.9M394.5 307.8h0.9M401.6 319.9h0.9M397.8 307.8h0.9M384.4 309.0h0.9M402.5 301.0h0.9M391.3 321.1h0.9M396.1 315.1h0.9M397.0 308.7h0.9M377.0 318.1h0.9M400.9 315.2h0.9M380.2 310.4h0.9M389.5 307.5h0.9M388.7 309.5h0.9M404.2 313.1h0.9M404.1 319.2h0.9M378.9 316.3h0.9M385.3 312.5h0.9M391.0 315.6h0.9M382.8 314.2h0.9M384.9 316.5h0.9M388.8 313.5h0.9M404.7 305.7h0.9M373.5 318.9h0.9M389.8 313.6h0.9M399.5 318.8h0.9M385.5 320.9h0.9M385.6 315.3h0.9M399.5 307.4h0.9M386.5 307.5h0.9M384.1 308.5h0.9M400.0 300.9h0.9M398.2 311.7h0.9M393.5 306.1h0.9M397.4 318.5h0.9M385.3 310.4h0.9M380.2 305.0h0.9M400.1 313.5h0.9M387.4 313.4h0.9M391.4 303.6h0.9M390.4 306.6h0.9M381.6 315.6h0.9M384.7 315.6h0.9M396.9 307.7h0.9M374.3 317.8h0.9M390.7 312.1h0.9M394.9 311.5h0.9M401.9 299.8h0.9M392.7 308.4h0.9M401.9 318.9h0.9M386.3 312.0h0.9M399.5 302.4h0.9M383.1 305.0h0.9M374.5 301.9h0.9M390.0 319.9h0.9M378.7 305.8h0.9M385.1 313.4h0.9M384.4 314.1h0.9M378.0 300.5h0.9M394.4 301.0h0.9M395.1 303.1h0.9M384.4 318.6h0.9M402.0 315.9h0.9M393.4 312.2h0.9M389.4 313.8h0.9M388.9 308.2h0.9M399.7 306.1h0.9M386.1 314.3h0.9M403.7 307.0h0.9M386.9 308.3h0.9M379.9 307.3h0.9M398.2 303.7h0.9M388.3 305.7h0.9M391.5 316.3h0.9M376.9 310.1h0.9M379.2 313.6h0.9M394.6 304.4h0.9M380.6 306.1h0.9M383.6 318.9h0.9M400.8 316.7h0.9M385.7 309.5h0.9M379.6 309.5h0.9M403.3 301.6h0.9M379.5 317.9h0.9M382.8 310.1h0.9M374.9 314.5h0.9M389.5 316.9h0.9M396.0 315.7h0.9M381.6 305.0h0.9M392.1 300.7h0.9M396.0 310.3h0.9M384.7 301.3h0.9M394.9 309.8h0.9M398.2 308.5h0.9M404.2 318.4h0.9M383.4 311.2h0.9M391.8 309.3h0.9M399.1 314.8h0.9M399.1 305.1h0.9M389.2 311.3h0.9M391.7 299.9h0.9M387.4 303.0h0.9M400.2 311.6h0.9M396.6 315.6h0.9M392.9 319.3h0.9M375.1 306.8h0.9M378.5 313.3h0.9M378.8 311.3h0.9M387.6 309.6h0.9M373.7 311.0h0.9M378.1 308.3h0.9M378.6 309.6h0.9M378.5 315.5h0.9M400.9 306.6h0.9M375.6 320.4h0.9M375.9 313.6h0.9M397.1 310.0h0.9M401.4 302.8h0.9M401.9 319.0h0.9M400.0 309.0h0.9M389.4 317.9h0.9M385.3 305.1h0.9M374.3 304.0h0.9M397.8 318.3h0.9M385.2 313.3h0.9M398.2 307.2h0.9M384.6 309.5h0.9M383.8 311.9h0.9M394.5 306.7h0.9M393.1 307.8h0.9M401.9 312.0h0.9M398.6 312.9h0.9M382.9 306.0h0.9M391.3 303.5h0.9M396.5 307.8h0.9M402.8 304.1h0.9M380.0 314.4h0.9M386.2 300.6h0.9M398.2 309.7h0.9M387.9 304.9h0.9M389.8 309.7h0.9M384.4 307.8h0.9M391.8 303.8h0.9M399.0 308.2h0.9M383.6 310.0h0.9M379.0 311.8h0.9M397.1 299.6h0.9M386.9 309.6h0.9M382.1 301.3h0.9M380.0 300.6h0.9M391.3 301.4h0.9M389.2 305.9h0.9M397.4 305.8h0.9M391.1 310.4h0.9M383.8 304.9h0.9M392.8 306.8h0.9M379.3 309.1h0.9M393.1 306.8h0.9M396.3 303.0h0.9M396.3 302.4h0.9M385.6 308.0h0.9M389.5 316.3h0.9M395.1 313.8h0.9M383.6 313.0h0.9M387.5 302.5h0.9M396.2 305.1h0.9M400.9 314.1h0.9M391.0 309.3h0.9M385.1 305.4h0.9M387.8 300.1h0.9M395.4 318.9h0.9M397.8 308.4h0.9M400.1 307.4h0.9M374.7 310.2h0.9M397.6 305.3h0.9M393.4 311.2h0.9M385.7 303.5h0.9M391.5 313.8h0.9M392.6 313.3h0.9M396.8 313.7h0.9M391.4 321.0h0.9M395.3 313.3h0.9M384.7 305.6h0.9M381.4 303.5h0.9M384.3 306.2h0.9M374.4 310.0h0.9M383.7 305.7h0.9M380.3 318.3h0.9M395.1 310.6h0.9M380.2 308.0h0.9M390.9 308.5h0.9M391.8 303.4h0.9M385.6 314.3h0.9M390.3 309.2h0.9M393.2 300.3h0.9M389.6 313.0h0.9M393.0 310.7h0.9M376.0 307.3h0.9M374.0 308.1h0.9M396.7 308.4h0.9M391.2 309.3h0.9M385.9 305.9h0.9M389.5 307.4h0.9M380.2 312.4h0.9M384.7 306.9h0.9M384.2 313.0h0.9M386.1 305.2h0.9M390.6 313.0h0.9M398.2 309.8h0.9M379.3 310.1h0.9M389.3 306.4h0.9M382.6 305.7h0.9M388.0 299.8h0.9M384.1 310.1h0.9M388.6 300.0h0.9M376.9 305.0h0.9M392.6 307.2h0.9M386.1 320.3h0.9M380.8 321.2h0.9M396.7 302.1h0.9M382.3 312.9h0.9M376.8 303.3h0.9M374.6 314.4h0.9M389.4 315.0h0.9M390.2 311.2h0.9M387.0 310.2h0.9M378.8 305.3h0.9M377.7 314.5h0.9M377.4 306.1h0.9M393.0 311.0h0.9M391.7 308.9h0.9M389.8 306.1h0.9M382.0 305.5h0.9M394.5 307.3h0.9M399.4 307.8h0.9M386.5 313.3h0.9M374.2 306.9h0.9M399.6 315.3h0.9M383.1 302.0h0.9M381.9 311.5h0.9M378.4 313.4h0.9M377.2 311.6h0.9M389.7 306.9h0.9M404.2 310.0h0.9M392.1 318.0h0.9M383.5 310.7h0.9M395.0 308.9h0.9M385.7 307.4h0.9M393.3 308.8h0.9M396.1 302.3h0.9M387.3 314.1h0.9M378.1 312.8h0.9M386.2 313.5h0.9M382.5 308.4h0.9M377.1 312.4h0.9M385.2 308.4h0.9M382.3 314.3h0.9M388.4 313.9h0.9M381.4 306.6h0.9M393.4 318.7h0.9M401.6 313.3h0.9M395.0 312.4h0.9M380.7 306.9h0.9M377.4 300.4h0.9M386.6 310.3h0.9M392.1 319.2h0.9M378.1 303.1h0.9M382.8 311.6h0.9M384.3 301.9h0.9M391.1 306.8h0.9M381.7 315.5h0.9M394.1 305.1h0.9M388.4 305.9h0.9M383.6 304.7h0.9M385.6 304.2h0.9M389.7 312.5h0.9M385.8 299.9h0.9M393.8 305.5h0.9M399.3 312.5h0.9M387.2 317.2h0.9M380.0 308.9h0.9M392.5 309.3h0.9M387.5 302.4h0.9M396.9 301.8h0.9M394.7 308.6h0.9M385.3 308.1h0.9M390.3 306.2h0.9M382.7 306.4h0.9M381.8 312.7h0.9M386.5 311.8h0.9M382.7 301.8h0.9M404.1 315.7h0.9M391.5 310.9h0.9M386.3 313.6h0.9M395.0 312.8h0.9M383.8 305.5h0.9M382.9 313.2h0.9M396.8 302.3h0.9M385.0 308.8h0.9M379.5 316.4h0.9M381.2 310.7h0.9M386.3 307.3h0.9M381.2 301.8h0.9M393.1 312.2h0.9M391.0 305.1h0.9M381.3 307.5h0.9M381.0 306.7h0.9M378.7 318.9h0.9M383.6 313.8h0.9M378.3 316.8h0.9M380.5 314.7h0.9M391.5 314.7h0.9M385.7 320.6h0.9M376.0 318.6h0.9M381.8 306.5h0.9M378.7 305.4h0.9M396.0 316.5h0.9M381.2 302.4h0.9M383.7 317.3h0.9M381.5 307.7h0.9M399.6 308.0h0.9M385.3 303.4h0.9M402.2 305.2h0.9M384.1 303.3h0.9M385.5 308.5h0.9M397.7 301.8h0.9M381.1 305.0h0.9M388.1 307.4h0.9M383.3 311.0h0.9M382.5 305.3h0.9M375.9 301.2h0.9M384.7 309.9h0.9M400.9 309.4h0.9M380.2 309.7h0.9M390.8 309.0h0.9M402.5 308.5h0.9M393.5 309.9h0.9M378.6 309.7h0.9M389.3 316.3h0.9M392.5 311.1h0.9M392.2 311.2h0.9M388.0 309.8h0.9M389.6 304.4h0.9M388.1 307.3h0.9M375.9 302.9h0.9M381.2 303.0h0.9M376.0 313.1h0.9M381.2 307.4h0.9M379.7 308.7h0.9M391.6 316.1h0.9M392.8 301.6h0.9M394.7 308.9h0.9M388.0 305.6h0.9M377.0 308.2h0.9M381.5 307.4h0.9M398.5 309.4h0.9M392.4 315.0h0.9M376.5 307.2h0.9M402.0 318.1h0.9M392.1 316.5h0.9M379.8 314.4h0.9M385.3 303.2h0.9M394.7 306.6h0.9M376.7 310.3h0.9M396.2 318.0h0.9M380.4 318.5h0.9M389.8 310.7h0.9M383.2 306.3h0.9M383.3 309.9h0.9M385.8 299.6h0.9M386.1 305.8h0.9M396.5 310.6h0.9M397.3 312.8h0.9M391.8 301.2h0.9M391.5 302.7h0.9M387.0 310.4h0.9M384.6 300.7h0.9M382.0 303.6h0.9M384.9 310.6h0.9M398.9 305.7h0.9M383.8 309.7h0.9M379.5 308.8h0.9M378.3 314.8h0.9M388.9 312.9h0.9M390.1 305.0h0.9M386.7 304.2h0.9M381.0 311.8h0.9M387.9 318.7h0.9M402.4 304.0h0.9M388.5 309.6h0.9M376.9 311.8h0.9M398.2 307.8h0.9M387.1 314.1h0.9M394.0 310.7h0.9M387.6 303.7h0.9M391.1 314.8h0.9M395.6 303.7h0.9M393.3 312.2h0.9M389.3 318.5h0.9M381.0 311.4h0.9M391.8 305.3h0.9M384.6 314.9h0.9M383.8 304.5h0.9M382.6 304.3h0.9M392.0 302.4h0.9M386.3 301.4h0.9M385.3 303.3h0.9M391.6 312.7h0.9M387.1 309.3h0.9M388.6 301.8h0.9M376.8 309.6h0.9M390.9 309.7h0.9M387.2 306.9h0.9M393.3 303.7h0.9M401.2 306.3h0.9M382.2 311.3h0.9M376.6 312.3h0.9M376.7 310.6h0.9M399.2 308.0h0.9M376.1 307.7h0.9M378.4 308.8h0.9M396.6 307.9h0.9M384.6 307.6h0.9M388.2 318.0h0.9M387.3 317.2h0.9M385.7 315.8h0.9M387.9 307.1h0.9M392.2 302.8h0.9M387.8 313.2h0.9M376.8 305.5h0.9M388.8 310.4h0.9M388.8 316.2h0.9M377.9 313.8h0.9M386.6 303.3h0.9M384.3 306.9h0.9M379.8 303.5h0.9M388.5 316.6h0.9M399.6 319.7h0.9M385.2 305.2h0.9M386.5 301.0h0.9M379.8 314.3h0.9M388.3 300.2h0.9M393.9 305.3h0.9M385.0 311.5h0.9M387.9 314.9h0.9M390.8 311.7h0.9M387.4 307.4h0.9M382.1 304.9h0.9M386.3 304.4h0.9M382.8 309.0h0.9M401.5 309.6h0.9M383.7 311.9h0.9M393.8 306.4h0.9M383.9 307.7h0.9M375.5 314.4h0.9M393.4 299.4h0.9M392.0 306.5h0.9M391.1 309.4h0.9M382.5 302.9h0.9M380.1 314.9h0.9M389.4 315.9h0.9M384.3 310.0h0.9M388.3 305.0h0.9M391.3 299.7h0.9M380.5 310.8h0.9M388.7 311.4h0.9M385.4 303.5h0.9M381.4 306.5h0.9M387.2 311.8h0.9M388.2 302.7h0.9M395.8 317.6h0.9M390.5 311.8h0.9M392.5 314.4h0.9M387.9 307.1h0.9M397.3 304.6h0.9M391.2 303.5h0.9M384.7 309.4h0.9M386.5 319.6h0.9M384.3 320.0h0.9M392.3 313.0h0.9M390.6 304.4h0.9M387.6 309.6h0.9M378.9 307.0h0.9M388.9 312.6h0.9M384.7 306.0h0.9M384.4 309.9h0.9M382.3 306.5h0.9M396.3 313.8h0.9M382.4 306.9h0.9M387.8 317.3h0.9M393.2 305.9h0.9M383.4 306.5h0.9M378.6 310.1h0.9M384.4 315.5h0.9M385.6 308.1h0.9M392.9 312.4h0.9M392.9 314.0h0.9M379.4 304.2h0.9M394.8 303.5h0.9M388.1 305.8h0.9M398.9 299.4h0.9M376.6 302.9h0.9M380.5 306.7h0.9M391.9 313.8h0.9M394.2 304.4h0.9M394.0 306.7h0.9M394.9 309.2h0.9M375.9 306.1h0.9M387.8 309.7h0.9" stroke="#000" stroke-width="0.9" stroke-opacity="0.85" fill="none"/>
<path d="M396.3 293.7h0.8M400.3 296.2h0.8M377.8 295.9h0.8M397.8 294.0h0.8M403.6 292.9h0.8M378.2 296.4h0.8M394.8 296.4h0.8M402.6 293.8h0.8M374.9 296.0h0.8M384.6 295.1h0.8M386.0 298.2h0.8M382.5 297.0h0.8M391.4 294.3h0.8M402.2 294.2h0.8M383.0 293.8h0.8M395.6 297.0h0.8M385.0 293.3h0.8M392.3 294.7h0.8M390.8 296.8h0.8M373.5 292.8h0.8M399.3 298.1h0.8M376.3 293.9h0.8M386.9 297.9h0.8M383.2 298.7h0.8M376.4 298.4h0.8M375.3 296.4h0.8M404.1 297.2h0.8M402.3 294.8h0.8" stroke="#444" stroke-width="0.8" stroke-opacity="0.5" fill="none"/>
<path d="M411.7 351.7h0.8M407.5 343.2h0.8M411.5 306.9h0.8M408.2 343.1h0.8M409.4 352.7h0.8M408.5 322.1h0.8M406.8 310.8h0.8M411.2 310.0h0.8M411.4 345.2h0.8M409.3 312.6h0.8M405.8 300.7h0.8M410.9 355.3h0.8M411.8 311.2h0.8M411.6 321.6h0.8M408.1 352.1h0.8M410.9 337.1h0.8M407.6 300.0h0.8M406.9 310.1h0.8M407.0 330.1h0.8M407.8 307.0h0.8M411.2 317.0h0.8M405.8 293.6h0.8M409.2 294.9h0.8M409.3 294.7h0.8M408.7 333.2h0.8M409.1 307.1h0.8M411.0 356.2h0.8M410.8 353.6h0.8M411.8 316.9h0.8M409.2 319.9h0.8M410.7 303.9h0.8M407.2 322.3h0.8M409.2 357.4h0.8M407.9 293.3h0.8M408.2 350.0h0.8M406.4 326.7h0.8M409.5 347.5h0.8M407.8 332.5h0.8M411.7 356.2h0.8M409.3 315.0h0.8M409.8 340.5h0.8M410.0 336.9h0.8M408.2 339.5h0.8M408.0 308.1h0.8M406.4 329.0h0.8M406.9 311.3h0.8M407.6 317.2h0.8M408.4 356.4h0.8M409.1 328.7h0.8M408.3 328.6h0.8M410.8 327.0h0.8M409.0 315.8h0.8M406.9 306.8h0.8M406.4 311.5h0.8M406.1 320.0h0.8M409.4 300.5h0.8M410.5 322.4h0.8M409.7 321.0h0.8M410.7 337.2h0.8M406.5 328.7h0.8M374.2 349.6h0.8M374.5 330.3h0.8M373.5 358.5h0.8M373.8 331.3h0.8M376.3 323.9h0.8M374.7 338.0h0.8M375.5 350.9h0.8M376.4 333.8h0.8M373.7 330.0h0.8M373.4 332.0h0.8M375.3 355.1h0.8M373.7 331.9h0.8M376.2 343.7h0.8M374.6 324.7h0.8M373.6 330.0h0.8M375.3 324.1h0.8M375.0 352.3h0.8M373.4 332.6h0.8M374.7 344.6h0.8M375.7 347.1h0.8M374.7 334.5h0.8M375.3 339.0h0.8M376.3 341.6h0.8M375.2 346.6h0.8M374.9 340.2h0.8M375.5 344.2h0.8M376.5 333.3h0.8M374.9 358.1h0.8M375.9 342.5h0.8M374.3 328.6h0.8M374.7 337.8h0.8M374.7 331.5h0.8M374.9 343.2h0.8M373.7 346.4h0.8M375.6 329.2h0.8M374.2 323.4h0.8M374.9 347.0h0.8M374.7 343.8h0.8M375.3 323.6h0.8M373.6 340.8h0.8M376.3 348.1h0.8M374.8 331.6h0.8M373.8 345.9h0.8M375.8 336.5h0.8M373.7 332.3h0.8M375.6 350.5h0.8M374.6 354.8h0.8M374.6 322.9h0.8M374.0 354.9h0.8M375.6 325.2h0.8M374.3 336.6h0.8M374.9 322.9h0.8M376.3 341.7h0.8M374.2 323.2h0.8M375.2 356.5h0.8M375.6 353.8h0.8M376.1 346.6h0.8M373.6 333.5h0.8M375.2 337.4h0.8M374.1 324.5h0.8M401.1 347.0h0.8M383.0 339.6h0.8M401.3 327.4h0.8M393.5 330.7h0.8M402.4 352.0h0.8M403.7 336.4h0.8M389.6 334.1h0.8M384.6 357.8h0.8M404.4 359.3h0.8M402.5 340.4h0.8M394.5 356.0h0.8M387.2 356.5h0.8M398.9 332.7h0.8M384.9 347.9h0.8M378.7 331.6h0.8M379.6 326.0h0.8M402.5 359.4h0.8M399.7 340.9h0.8M397.3 347.8h0.8M387.5 341.5h0.8M377.5 331.1h0.8M384.4 335.4h0.8M394.5 331.1h0.8M381.0 354.8h0.8M398.4 357.0h0.8M398.3 329.3h0.8M389.0 353.3h0.8M399.2 330.6h0.8M388.8 344.1h0.8M373.8 331.1h0.8M397.1 347.0h0.8M387.7 343.4h0.8M390.3 335.0h0.8M376.1 349.8h0.8M398.1 338.3h0.8M398.0 353.0h0.8M395.5 352.3h0.8M404.3 323.5h0.8M403.5 339.0h0.8M398.3 349.6h0.8M376.6 344.0h0.8M376.3 349.4h0.8M384.2 336.1h0.8M382.1 352.4h0.8M393.9 333.2h0.8M397.1 329.0h0.8M399.1 344.7h0.8M397.9 345.1h0.8M404.9 348.1h0.8M388.2 344.1h0.8M391.5 332.7h0.8M383.2 352.0h0.8M399.6 358.2h0.8M395.4 340.9h0.8M386.0 348.4h0.8M394.2 357.4h0.8M397.3 336.4h0.8M382.3 323.7h0.8M398.4 338.0h0.8M386.0 324.0h0.8M389.2 355.7h0.8M382.3 349.9h0.8M397.7 346.8h0.8M392.5 331.4h0.8M395.0 343.9h0.8M404.3 341.3h0.8M384.7 356.0h0.8M393.4 334.8h0.8M394.2 327.7h0.8M379.4 355.2h0.8M388.2 352.1h0.8M380.3 339.7h0.8M381.0 352.1h0.8M392.5 336.8h0.8M385.7 329.9h0.8M380.1 347.9h0.8M383.4 325.9h0.8M385.7 339.0h0.8M405.0 336.5h0.8M386.3 358.4h0.8M396.5 339.2h0.8M386.1 330.4h0.8M378.3 339.7h0.8M393.9 326.0h0.8M388.6 328.5h0.8M392.7 334.9h0.8M394.7 351.4h0.8M386.3 336.3h0.8M375.9 329.9h0.8M393.3 352.3h0.8M377.8 358.6h0.8M402.7 335.7h0.8M390.7 347.2h0.8M383.9 335.7h0.8M396.5 340.2h0.8M387.4 343.1h0.8M377.1 339.6h0.8M382.8 328.3h0.8M390.2 348.3h0.8M390.2 340.7h0.8M394.8 337.8h0.8M404.8 330.0h0.8M373.7 343.3h0.8M395.7 336.3h0.8M386.2 334.9h0.8M381.2 351.7h0.8M401.0 332.5h0.8M391.5 339.2h0.8M377.6 349.5h0.8M390.4 359.1h0.8M402.5 355.9h0.8M381.8 326.1h0.8M399.3 326.1h0.8M395.4 328.6h0.8M396.0 324.0h0.8M376.2 354.5h0.8M389.9 338.9h0.8M404.5 351.4h0.8M380.6 348.5h0.8M385.7 339.4h0.8M383.4 330.5h0.8M383.1 332.2h0.8M379.4 354.8h0.8M385.5 343.0h0.8M399.4 347.4h0.8M378.4 357.7h0.8M403.2 353.5h0.8M383.9 353.1h0.8M393.9 323.2h0.8M385.5 348.2h0.8M390.8 357.5h0.8M398.7 353.4h0.8M404.8 334.9h0.8M402.5 322.1h0.8M399.0 325.3h0.8M389.4 338.5h0.8M375.7 345.9h0.8M398.6 330.4h0.8M381.2 350.9h0.8M390.3 322.7h0.8M383.2 357.4h0.8M382.2 332.8h0.8M387.8 355.2h0.8M399.3 336.4h0.8M394.7 323.0h0.8M375.5 335.9h0.8M393.7 327.3h0.8M374.8 354.0h0.8M379.4 324.1h0.8M376.1 325.0h0.8M382.5 343.7h0.8M394.4 332.7h0.8M389.9 334.5h0.8M392.0 326.1h0.8M393.4 322.0h0.8M402.9 329.8h0.8M391.1 329.1h0.8M387.6 331.9h0.8M393.9 351.2h0.8M400.4 358.5h0.8M388.0 342.6h0.8M384.6 332.8h0.8M389.7 358.5h0.8M375.2 350.0h0.8M383.7 344.4h0.8M381.9 349.0h0.8M389.3 333.6h0.8M387.7 322.2h0.8M376.5 356.0h0.8M376.0 336.9h0.8M394.8 323.4h0.8M403.2 329.7h0.8M404.2 338.3h0.8M392.2 344.6h0.8M376.2 341.0h0.8M397.4 351.6h0.8M396.9 347.5h0.8M377.5 337.3h0.8M389.7 323.5h0.8M397.9 325.8h0.8M391.5 332.0h0.8M378.6 357.7h0.8M393.2 349.5h0.8M392.8 343.2h0.8M401.3 324.4h0.8M385.5 330.2h0.8M392.5 336.8h0.8M402.9 330.7h0.8M382.0 356.4h0.8M396.5 338.1h0.8M385.3 349.5h0.8M378.2 349.1h0.8M380.7 352.2h0.8M375.8 356.3h0.8M401.0 322.9h0.8M378.5 356.3h0.8M399.6 332.9h0.8M399.0 343.7h0.8M381.3 347.8h0.8M386.7 327.3h0.8M400.6 348.9h0.8M381.2 338.0h0.8M395.2 335.9h0.8M381.6 341.7h0.8M403.8 325.6h0.8M381.5 340.1h0.8M404.9 359.2h0.8M373.7 346.1h0.8M377.8 329.8h0.8M377.7 340.7h0.8M405.2 358.2h0.8M385.2 355.7h0.8M395.5 324.8h0.8M402.2 332.3h0.8M404.7 327.0h0.8M402.2 341.2h0.8M389.9 328.9h0.8M389.0 350.5h0.8M391.2 358.8h0.8M390.5 355.9h0.8M377.7 349.6h0.8M392.6 355.1h0.8M384.2 339.4h0.8M399.4 331.6h0.8M385.3 353.7h0.8M394.2 340.4h0.8M373.9 350.6h0.8M386.7 330.9h0.8M385.8 327.2h0.8M400.3 351.9h0.8M404.3 347.3h0.8M378.6 337.8h0.8M405.3 322.0h0.8M384.4 327.6h0.8M378.9 332.3h0.8M393.2 324.5h0.8M401.1 338.1h0.8M378.9 325.8h0.8M390.2 335.1h0.8M389.4 326.0h0.8M384.8 341.0h0.8M376.1 340.8h0.8M400.3 344.1h0.8M377.5 345.7h0.8M376.0 327.3h0.8M373.7 341.9h0.8M379.1 332.5h0.8M377.3 355.6h0.8M378.0 347.3h0.8M399.2 338.9h0.8M392.0 334.5h0.8M399.6 347.7h0.8M375.9 348.4h0.8M377.9 340.0h0.8M379.3 340.2h0.8M394.4 349.5h0.8M383.8 324.1h0.8M387.8 356.3h0.8M391.1 345.2h0.8M397.9 345.9h0.8M403.8 357.8h0.8M397.0 352.3h0.8M377.9 331.9h0.8M396.1 343.8h0.8M401.0 351.0h0.8M384.0 328.4h0.8M394.4 326.2h0.8M389.2 332.3h0.8M386.2 346.5h0.8M393.7 345.2h0.8M375.3 355.5h0.8M396.0 356.0h0.8M393.0 346.2h0.8M401.8 350.0h0.8M393.7 323.5h0.8M374.2 348.9h0.8M400.5 336.5h0.8M380.1 338.6h0.8M400.3 350.3h0.8M377.6 329.6h0.8M380.0 350.0h0.8M381.4 355.3h0.8M386.6 329.2h0.8M386.7 327.2h0.8M401.5 322.9h0.8M386.7 336.2h0.8M374.6 330.3h0.8M405.1 354.2h0.8M386.9 354.7h0.8M402.5 354.2h0.8M396.6 343.3h0.8M389.8 348.9h0.8M392.6 358.5h0.8M379.2 355.7h0.8M397.6 338.6h0.8M400.5 332.7h0.8M385.9 343.6h0.8M404.4 331.1h0.8M400.5 346.7h0.8M402.8 333.2h0.8M394.6 355.3h0.8M401.7 348.2h0.8M400.3 345.8h0.8M391.1 329.2h0.8M390.0 358.6h0.8M403.7 323.6h0.8M383.1 331.0h0.8M400.3 328.8h0.8M397.9 329.4h0.8M384.3 358.5h0.8M377.4 343.8h0.8M382.2 350.3h0.8M375.5 347.4h0.8M381.6 357.9h0.8M383.9 347.1h0.8M374.3 357.2h0.8M393.7 356.3h0.8M397.2 324.3h0.8M397.2 336.3h0.8M379.8 355.4h0.8M394.6 335.1h0.8M375.7 346.3h0.8M375.3 331.0h0.8M374.9 328.5h0.8M397.3 332.0h0.8M405.0 332.5h0.8M399.0 349.6h0.8M394.0 344.7h0.8M377.9 353.1h0.8M402.9 341.9h0.8M379.4 325.2h0.8M381.6 358.4h0.8M383.6 332.5h0.8M390.2 323.3h0.8M398.7 351.2h0.8M383.2 323.1h0.8M402.2 352.4h0.8M397.8 329.9h0.8M403.9 346.0h0.8M374.4 358.8h0.8M395.7 328.9h0.8M401.9 344.4h0.8M393.8 323.0h0.8M380.2 351.7h0.8M373.8 329.3h0.8M375.6 343.9h0.8M377.8 351.4h0.8M387.9 351.3h0.8M402.6 358.4h0.8M379.5 335.7h0.8M398.8 334.5h0.8M403.4 334.6h0.8M393.5 331.6h0.8M396.5 332.6h0.8M386.9 349.1h0.8M399.9 327.3h0.8M378.9 330.0h0.8M398.0 347.3h0.8M396.3 352.3h0.8M380.9 340.6h0.8M373.6 335.2h0.8M392.6 331.8h0.8M398.8 330.0h0.8M387.5 347.6h0.8M380.5 346.9h0.8M386.2 323.8h0.8M376.8 346.5h0.8M399.7 347.5h0.8M401.0 347.0h0.8M398.3 353.4h0.8M392.5 341.9h0.8M378.6 330.9h0.8M376.1 326.2h0.8M385.9 333.0h0.8M391.4 353.1h0.8M382.0 355.5h0.8M400.1 329.2h0.8M392.3 329.4h0.8M375.5 330.3h0.8M379.9 322.3h0.8M374.2 352.3h0.8M401.1 354.4h0.8M375.7 322.9h0.8M400.8 336.0h0.8M384.4 348.3h0.8M390.4 334.4h0.8M378.2 326.3h0.8M396.2 356.0h0.8M374.6 330.4h0.8M390.2 332.0h0.8M389.1 340.8h0.8M381.8 326.4h0.8M386.8 352.4h0.8M377.8 342.2h0.8M399.3 343.4h0.8M384.5 356.8h0.8M398.4 359.4h0.8M383.0 340.1h0.8M387.8 353.5h0.8M393.2 342.6h0.8M389.9 355.4h0.8M384.7 326.9h0.8M379.0 331.1h0.8M376.5 358.6h0.8M391.2 351.9h0.8M387.9 341.5h0.8M380.6 355.4h0.8M386.9 337.2h0.8M397.2 354.6h0.8M405.3 340.0h0.8M387.0 353.0h0.8M387.0 329.6h0.8M388.7 333.5h0.8M381.6 351.0h0.8M384.6 345.4h0.8M383.1 326.3h0.8M398.4 351.1h0.8M396.0 344.9h0.8M379.0 340.8h0.8M400.1 351.4h0.8M392.3 345.7h0.8M378.9 324.1h0.8M400.5 322.7h0.8M381.5 337.0h0.8M395.8 348.1h0.8M401.1 356.9h0.8M382.1 331.3h0.8M377.3 334.4h0.8M376.7 358.0h0.8M391.8 340.4h0.8M375.2 356.2h0.8M381.2 350.9h0.8M380.0 332.1h0.8M377.8 342.1h0.8M382.5 343.4h0.8M396.3 330.5h0.8M377.6 341.3h0.8M386.2 338.8h0.8M385.2 328.2h0.8M377.3 349.3h0.8M393.7 347.8h0.8M393.8 341.2h0.8M379.7 356.3h0.8M390.4 339.2h0.8M381.8 336.1h0.8M404.8 337.2h0.8M399.1 326.7h0.8M392.6 332.2h0.8M380.9 333.4h0.8M386.1 346.1h0.8M386.4 354.3h0.8M378.4 354.1h0.8M387.4 351.7h0.8M386.0 331.6h0.8M402.0 345.9h0.8M396.5 341.6h0.8M396.1 357.9h0.8M397.1 358.3h0.8M384.6 333.2h0.8M401.7 353.3h0.8M401.8 338.3h0.8M386.6 357.5h0.8M379.9 328.2h0.8M378.9 333.3h0.8M386.8 336.4h0.8M388.1 323.3h0.8M384.3 341.1h0.8M375.1 340.1h0.8M402.4 346.5h0.8M403.7 354.3h0.8M389.2 322.8h0.8M375.3 343.6h0.8M400.4 334.4h0.8M377.6 350.5h0.8M390.6 339.5h0.8M377.5 342.8h0.8M391.8 348.6h0.8M402.3 324.8h0.8M400.0 334.1h0.8M386.7 334.9h0.8M399.2 338.5h0.8M375.7 339.8h0.8M378.1 322.6h0.8M375.0 336.3h0.8M387.8 322.0h0.8M377.8 355.8h0.8M390.8 358.8h0.8M390.8 357.8h0.8M395.5 336.5h0.8M375.0 327.5h0.8M398.8 346.8h0.8M382.9 328.1h0.8M393.9 356.9h0.8M381.3 359.4h0.8M390.5 329.8h0.8M379.2 348.7h0.8M403.1 329.6h0.8M381.0 327.4h0.8M380.1 330.5h0.8M386.8 330.9h0.8" stroke="#fff" stroke-width="0.8" stroke-opacity="0.45" fill="none"/>
<path d="M410.6 308.6h0.8M407.7 320.2h0.8M407.0 296.3h0.8M406.5 293.3h0.8M410.7 296.2h0.8M409.3 350.8h0.8M410.2 312.9h0.8M408.7 320.8h0.8M408.1 296.5h0.8M406.9 302.3h0.8M407.3 314.5h0.8M406.5 333.0h0.8M407.2 326.2h0.8M410.8 325.3h0.8M411.1 343.7h0.8M409.0 306.8h0.8M406.1 338.0h0.8M408.4 311.9h0.8M406.4 304.7h0.8M412.2 323.7h0.8M411.9 347.9h0.8M407.6 307.7h0.8M412.2 308.4h0.8M410.1 353.9h0.8M409.2 320.6h0.8M412.7 349.1h0.8M412.5 339.0h0.8M407.4 296.1h0.8M406.0 353.0h0.8M409.7 350.4h0.8M412.7 308.4h0.8M412.8 310.8h0.8M407.1 310.7h0.8M413.0 354.1h0.8M408.3 324.3h0.8M411.7 345.3h0.8M412.3 316.6h0.8M407.5 326.3h0.8M412.5 332.9h0.8M412.1 305.8h0.8" stroke="#aaa" stroke-width="0.8" stroke-opacity="0.5" fill="none"/>
</g>
<line x1="373.2" y1="292" x2="373.2" y2="360" stroke="#888" stroke-width="0.7" stroke-dasharray="0.8 0.8"/>
<line x1="405.7" y1="292" x2="405.7" y2="360" stroke="#888" stroke-width="0.7" stroke-dasharray="0.8 0.8"/>
<rect x="341.00" y="291.40" width="74.40" height="68.60" fill="none" stroke="#bdbdbd" stroke-width="0.8" />
<path d="M344.1 360v2.6M346.5 360v2.6M348.5 360v2.6M350.1 360v2.6M351.6 360v2.6M352.9 360v2.6M341 356.7h-2.0M341 353.8h-2.0M341 351.5h-2.0M341 349.7h-2.0M341 348.1h-2.0M341 346.8h-2.0M341 345.6h-2.0M354.0 360v3.8M361.5 360v2.6M365.9 360v2.6M369.1 360v2.6M371.5 360v2.6M373.5 360v2.6M375.1 360v2.6M376.6 360v2.6M377.9 360v2.6M341 344.5h-3.0M341 337.5h-2.0M341 333.4h-2.0M341 330.5h-2.0M341 328.2h-2.0M341 326.4h-2.0M341 324.8h-2.0M341 323.5h-2.0M341 322.3h-2.0M379.0 360v3.8M386.5 360v2.6M390.9 360v2.6M394.1 360v2.6M396.5 360v2.6M398.5 360v2.6M400.1 360v2.6M401.6 360v2.6M402.9 360v2.6M341 321.2h-3.0M341 314.2h-2.0M341 310.1h-2.0M341 307.2h-2.0M341 304.9h-2.0M341 303.1h-2.0M341 301.5h-2.0M341 300.2h-2.0M341 299.0h-2.0M404.0 360v3.8M411.5 360v2.6M341 297.9h-3.0" stroke="#333" stroke-width="0.6" fill="none"/>
<line x1="341" y1="291.4" x2="341" y2="360" stroke="#777" stroke-width="0.8" />
<line x1="341" y1="360" x2="415.4" y2="360" stroke="#999" stroke-width="0.8" />
<text x="344.2" y="312.7" font-size="8.3" font-weight="bold" text-anchor="start" >NKp80<tspan dy="-3.6" font-size="5.5">+</tspan><tspan dy="3.6" font-size="1">&#8203;</tspan></text>
<text x="344.2" y="345.3" font-size="8.3" font-weight="bold" text-anchor="start" >NKp80<tspan dy="-3.6" font-size="5.5">-</tspan><tspan dy="3.6" font-size="1">&#8203;</tspan></text>
<text x="334.1" y="322.0" font-size="9.8" font-weight="bold" text-anchor="start" transform="rotate(-90 334.1 322.0)" >NKp80</text>
<path d="M331.4 331.3 L331.4 368.3 Q331.4 369.5 332.59999999999997 369.5 L388.7 369.5" fill="none" stroke="#111" stroke-width="1.25"/>
<path d="M331.4 329.8 L329.9 332.6 L332.9 332.6Z" fill="#111"/>
<path d="M390.2 369.5 L387.4 368.0 L387.4 371.0Z" fill="#111"/>
<text x="395.3" y="374.0" font-size="10" font-weight="bold" text-anchor="start" >CD3</text>
<clipPath id="cF2"><rect x="420.8" y="290.5" width="73.19999999999999" height="68.89999999999998"/></clipPath>
<g clip-path="url(#cF2)">
<path d="M436.5 358.5 L438 352 L440 344 L442.5 337 L445 326 L447.5 314 L449.5 305 L451 298 L452.3 292.5 L453.2 297 L454 293.5 L455 301 L456.5 308 L458 313 L459.5 320 L461 319 L462.5 326 L464.5 330 L466.5 331 L468.5 334 L470.5 336 L472 332 L473.5 327 L475 325 L476.5 322 L477.5 323.5 L478.5 321.5 L480 324 L481.5 322 L482.5 330 L484 345 L485.5 354 L487 358.5Z" fill="#e5e5e5" stroke="#dadada" stroke-width="0.4"/>
<path d="M438.5 358.6 L439.5 357.2 L442 356.8 L445 357.6 L450 357.9 L455 357.8 L460 357.5 L464 357.0 L467 356.2 L470 354.8 L472.5 353 L474.5 350.5 L476 347.5 L477 348 L478 342.5 L479 336.5 L479.8 332.5 L480.4 331.2 L481.2 333.5 L482 339 L482.8 346 L483.6 351.5 L484.5 355.5 L485.8 357.8 L487.5 358.6Z" fill="#606060" stroke="#1a1a1a" stroke-width="0.8" stroke-linejoin="round"/>
</g>
<rect x="420.80" y="290.50" width="73.20" height="68.90" fill="none" stroke="#444" stroke-width="0.9" />
<path d="M422.1 359.4v2.6M424.5 359.4v2.6M426.5 359.4v2.6M428.1 359.4v2.6M429.6 359.4v2.6M430.9 359.4v2.6M432.0 359.4v3.8M439.5 359.4v2.6M443.9 359.4v2.6M447.1 359.4v2.6M449.5 359.4v2.6M451.5 359.4v2.6M453.1 359.4v2.6M454.6 359.4v2.6M455.9 359.4v2.6M457.0 359.4v3.8M464.5 359.4v2.6M468.9 359.4v2.6M472.1 359.4v2.6M474.5 359.4v2.6M476.5 359.4v2.6M478.1 359.4v2.6M479.6 359.4v2.6M480.9 359.4v2.6M482.0 359.4v3.8M489.5 359.4v2.6M420.8 354.8h-1.6M420.8 350.2h-1.6M420.8 345.6h-1.6M420.8 341.0h-1.6M420.8 336.4h-2.6M420.8 331.8h-1.6M420.8 327.2h-1.6M420.8 322.6h-1.6M420.8 318.0h-1.6M420.8 313.4h-2.6M420.8 308.8h-1.6M420.8 304.2h-1.6M420.8 299.6h-1.6M420.8 295.0h-1.6" stroke="#333" stroke-width="0.6" fill="none"/>
<text x="429.2" y="317.0" font-size="10.2" font-weight="bold" text-anchor="start" >NKp80<tspan dx="0.8" dy="-5.6" font-size="6.5">-</tspan></text>
<text x="482.6" y="322.4" font-size="10.2" font-weight="bold" text-anchor="start" >NKp80<tspan dx="0.6" dy="-5.2" font-size="6.5">+</tspan></text>
<line x1="439.7" y1="320.2" x2="451.2" y2="336.4" stroke="#111" stroke-width="1.4" />
<line x1="486.4" y1="324.2" x2="479.4" y2="338.2" stroke="#111" stroke-width="1.4" />
<line x1="420" y1="370" x2="463.1" y2="370" stroke="#111" stroke-width="1.25" />
<path d="M464.6 370 L461.8 368.5 L461.8 371.5Z" fill="#111"/>
<text x="466.8" y="373.6" font-size="10" font-weight="bold" text-anchor="start" >CFSE</text>
</g>
</svg></body></html>
